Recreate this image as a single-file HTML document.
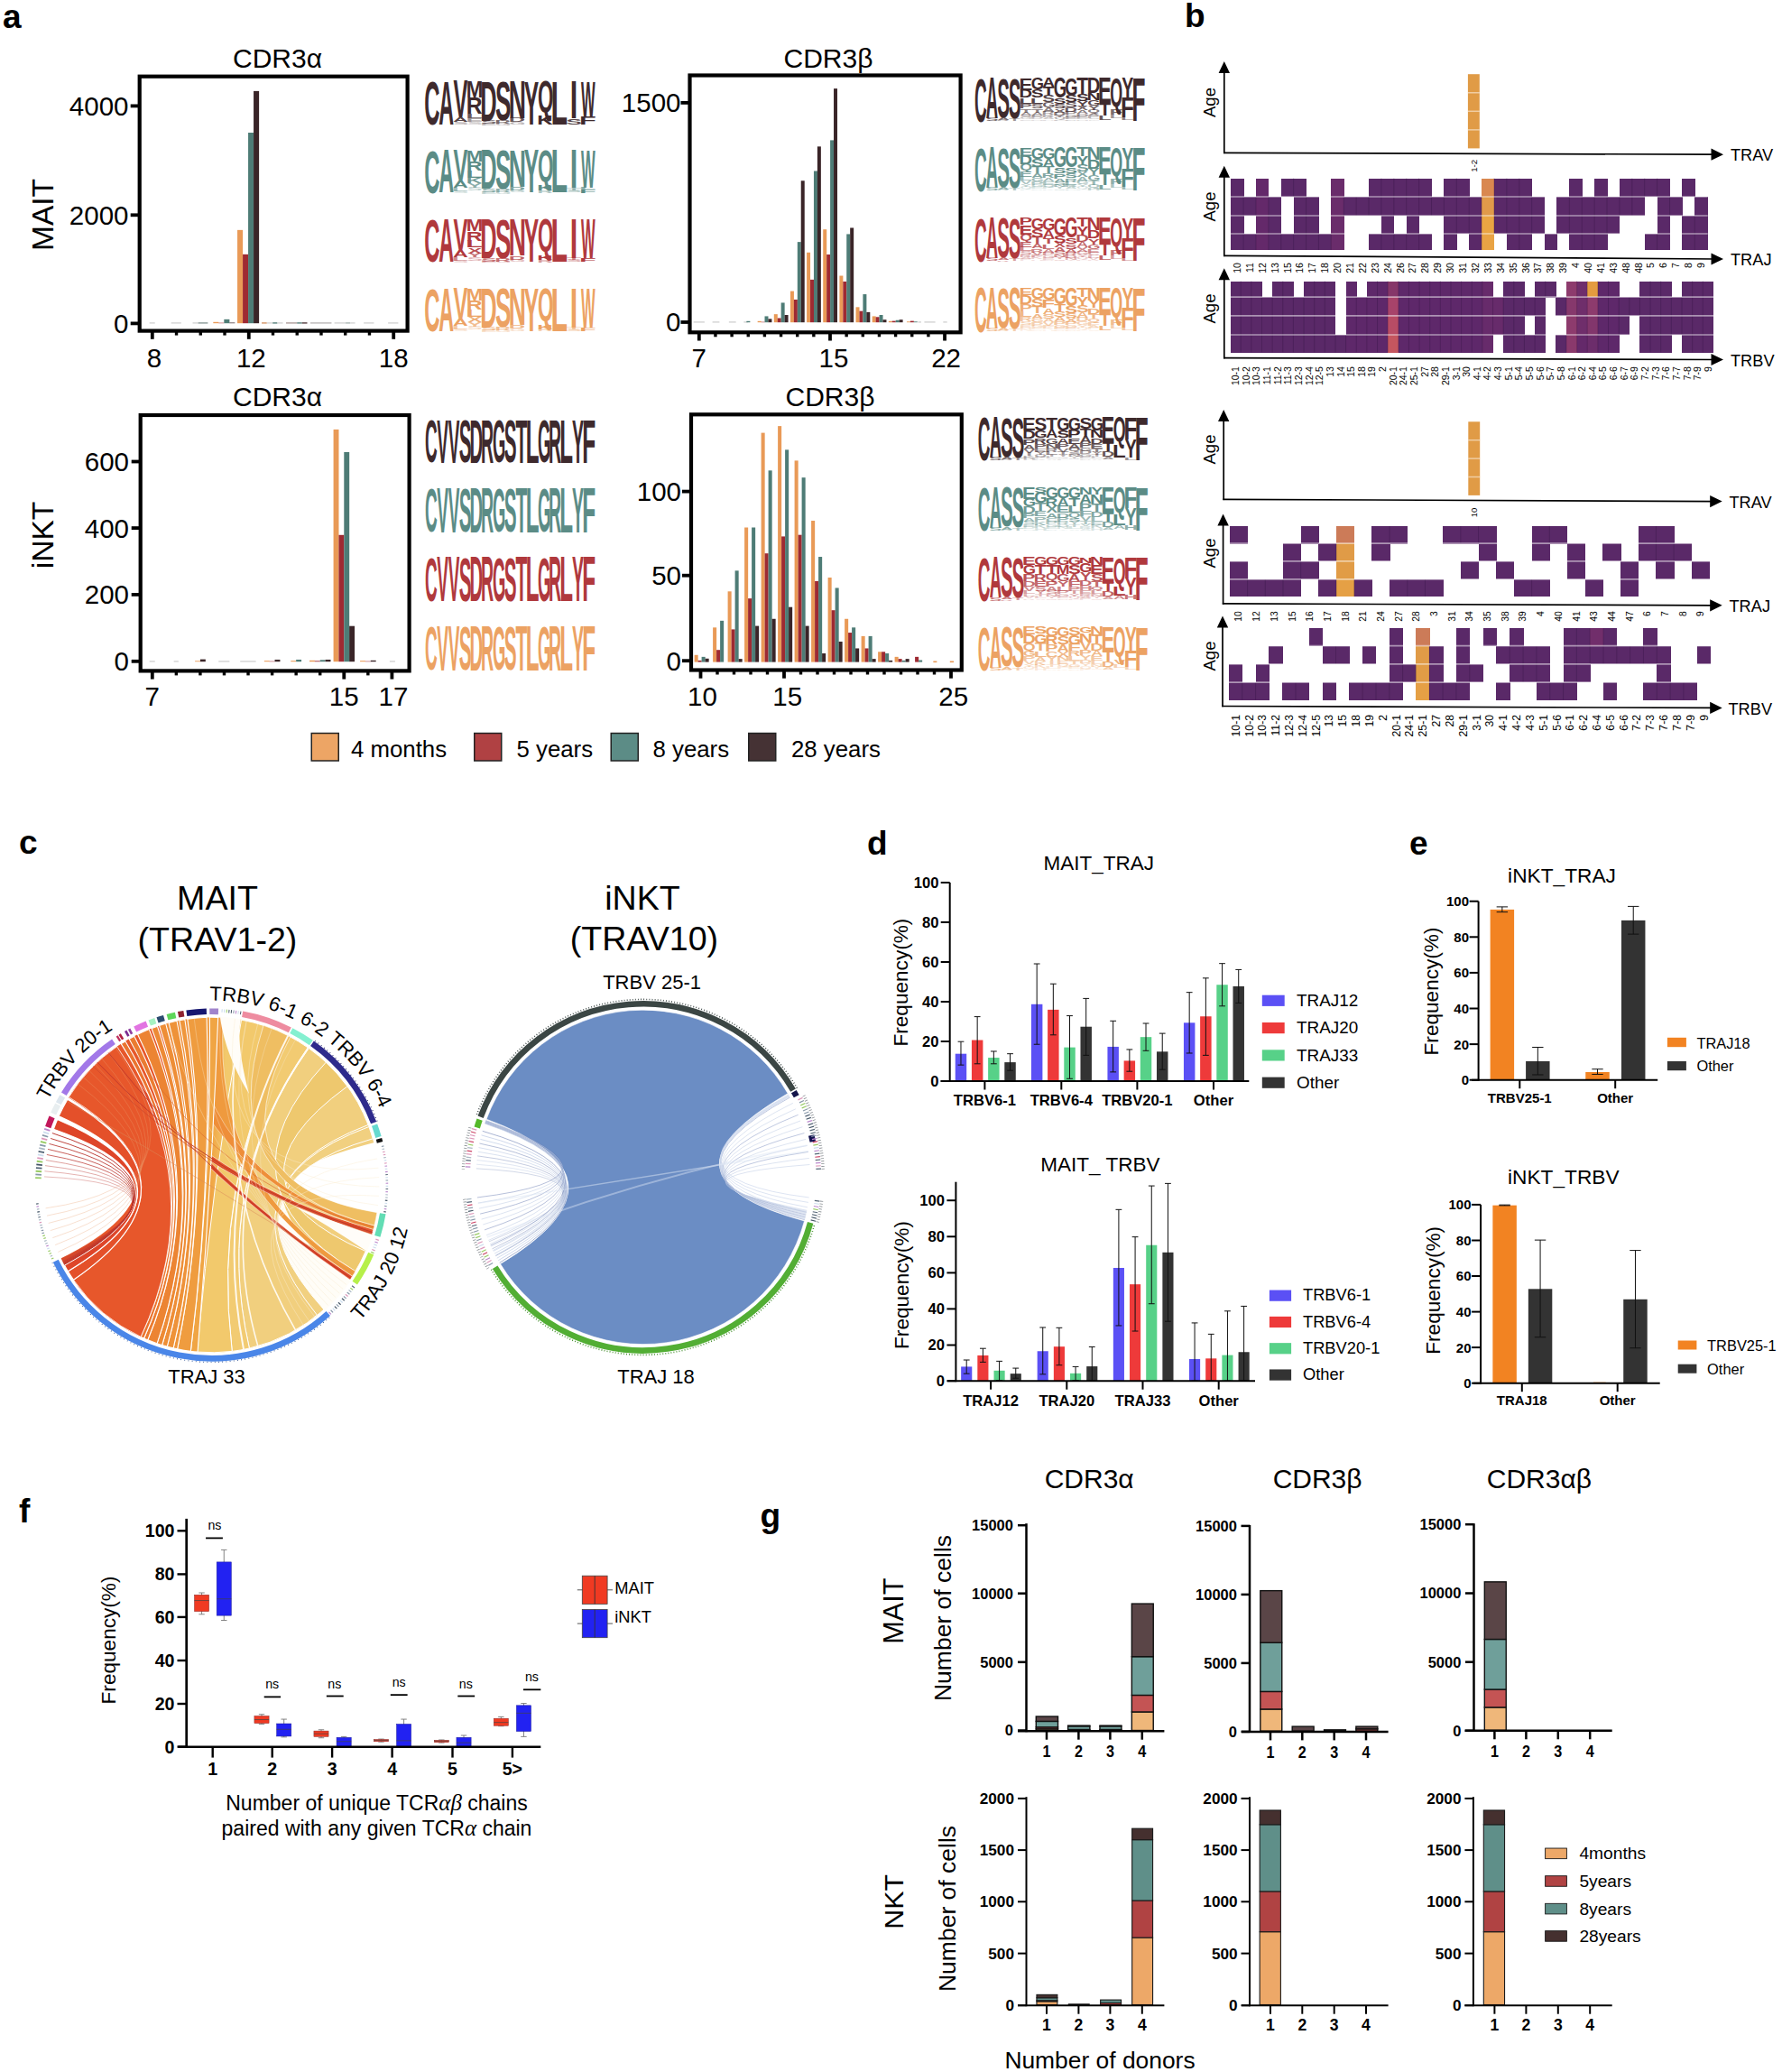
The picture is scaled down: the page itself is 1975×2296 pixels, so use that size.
<!DOCTYPE html>
<html lang="en"><head><meta charset="utf-8"><title>Figure</title>
<style>html,body{margin:0;padding:0;background:#fff}svg{display:block}text{font-family:'Liberation Sans',Arial,Helvetica,sans-serif}</style>
</head><body>
<svg width="1975" height="2296" viewBox="0 0 1975 2296">
<rect width="1975" height="2296" fill="#fff"/>
<text x="3" y="31" font-size="37" font-weight="bold">a</text>
<text x="307.5" y="74.5" font-size="30" text-anchor="middle">CDR3α</text>
<rect x="165.66" y="357.1" width="6.09" height="1.6" fill="#D9D9D9"/>
<rect x="189.67" y="357.1" width="11.13" height="1.6" fill="#D9D9D9"/>
<rect x="213.5" y="357.1" width="6.09" height="1.6" fill="#D9D9D9"/>
<rect x="219.59" y="357.1" width="10.79" height="1.6" fill="#9aa7a5"/>
<rect x="290.05" y="357.1" width="5.74" height="1.6" fill="#d9a27a"/>
<rect x="295.79" y="357.1" width="6.44" height="1.6" fill="#D9D9D9"/>
<rect x="302.23" y="357.1" width="5.22" height="1.6" fill="#6b8f8a"/>
<rect x="307.45" y="357.1" width="6.09" height="1.6" fill="#D9D9D9"/>
<rect x="317.01" y="357.1" width="12.18" height="1.6" fill="#b9aaa8"/>
<rect x="329.19" y="357.1" width="5.57" height="1.6" fill="#6b8f8a"/>
<rect x="334.76" y="357.1" width="5.74" height="1.6" fill="#6a5457"/>
<rect x="343.98" y="357.1" width="23.49" height="1.6" fill="#c4c0c0"/>
<rect x="370.6" y="357.1" width="12.53" height="1.6" fill="#D9D9D9"/>
<rect x="383.12" y="357.1" width="5.22" height="1.6" fill="#b5bfbd"/>
<rect x="388.34" y="357.1" width="5.22" height="1.6" fill="#D9D9D9"/>
<rect x="403.13" y="357.1" width="11.31" height="1.6" fill="#D9D9D9"/>
<rect x="430.1" y="357.1" width="11.31" height="1.6" fill="#D9D9D9"/>
<rect x="263.06" y="254.86" width="6.05" height="103.34" fill="#E99A57"/>
<rect x="269.06" y="281.83" width="6.05" height="76.37" fill="#9E2A32"/>
<rect x="275.06" y="147" width="6.05" height="211.2" fill="#4E7C76"/>
<rect x="281.06" y="100.89" width="6.05" height="257.31" fill="#3A2528"/>
<rect x="236.32" y="356.81" width="6.05" height="1.39" fill="#E99A57"/>
<rect x="242.32" y="357.68" width="6.05" height="0.52" fill="#9E2A32"/>
<rect x="248.32" y="353.85" width="6.05" height="4.35" fill="#4E7C76"/>
<rect x="254.32" y="357.5" width="6.05" height="0.7" fill="#3A2528"/>
<rect x="154.7" y="84.7" width="296.9" height="281.9" fill="none" stroke="#000" stroke-width="4.2"/>
<line x1="144.7" y1="117.4" x2="154.7" y2="117.4" stroke="#000" stroke-width="3.8"/>
<text x="142.5" y="127.8" font-size="29.5" text-anchor="end">4000</text>
<line x1="144.7" y1="238.3" x2="154.7" y2="238.3" stroke="#000" stroke-width="3.8"/>
<text x="142.5" y="248.7" font-size="29.5" text-anchor="end">2000</text>
<line x1="144.7" y1="358.4" x2="154.7" y2="358.4" stroke="#000" stroke-width="3.8"/>
<text x="142.5" y="368.8" font-size="29.5" text-anchor="end">0</text>
<line x1="168.8" y1="366.6" x2="168.8" y2="375.8" stroke="#000" stroke-width="3.8"/>
<text x="171" y="406.5" font-size="29.5" text-anchor="middle">8</text>
<line x1="275.76" y1="366.6" x2="275.76" y2="375.8" stroke="#000" stroke-width="3.8"/>
<text x="278.36" y="406.5" font-size="29.5" text-anchor="middle">12</text>
<line x1="436.2" y1="366.6" x2="436.2" y2="375.8" stroke="#000" stroke-width="3.8"/>
<text x="436.2" y="406.5" font-size="29.5" text-anchor="middle">18</text>
<line x1="195.54" y1="366.6" x2="195.54" y2="371.6" stroke="#000" stroke-width="3.4"/>
<line x1="222.28" y1="366.6" x2="222.28" y2="371.6" stroke="#000" stroke-width="3.4"/>
<line x1="249.02" y1="366.6" x2="249.02" y2="371.6" stroke="#000" stroke-width="3.4"/>
<line x1="302.5" y1="366.6" x2="302.5" y2="371.6" stroke="#000" stroke-width="3.4"/>
<line x1="329.24" y1="366.6" x2="329.24" y2="371.6" stroke="#000" stroke-width="3.4"/>
<line x1="355.98" y1="366.6" x2="355.98" y2="371.6" stroke="#000" stroke-width="3.4"/>
<line x1="382.72" y1="366.6" x2="382.72" y2="371.6" stroke="#000" stroke-width="3.4"/>
<line x1="409.46" y1="366.6" x2="409.46" y2="371.6" stroke="#000" stroke-width="3.4"/>
<text transform="translate(59 238) rotate(-90)" font-size="33.5" text-anchor="middle">MAIT</text>
<text x="918" y="74.5" font-size="30" text-anchor="middle">CDR3β</text>
<rect x="768.7" y="356.1" width="12.18" height="1.6" fill="#D9D9D9"/>
<rect x="789.58" y="356.1" width="7.83" height="1.6" fill="#D9D9D9"/>
<rect x="807.84" y="356.1" width="7.83" height="1.6" fill="#D9D9D9"/>
<rect x="824.37" y="356.1" width="4.35" height="1.6" fill="#D9D9D9"/>
<rect x="1017.48" y="356.1" width="3.48" height="1.6" fill="#D9D9D9"/>
<rect x="1024.44" y="356.1" width="12.18" height="1.6" fill="#D9D9D9"/>
<rect x="1045.32" y="356.1" width="4.35" height="1.6" fill="#D9D9D9"/>
<rect x="827.38" y="355.81" width="3.98" height="1.39" fill="#4E7C76"/>
<rect x="839.64" y="355.81" width="3.98" height="1.39" fill="#E99A57"/>
<rect x="843.57" y="356.68" width="3.98" height="0.52" fill="#9E2A32"/>
<rect x="847.5" y="350.42" width="3.98" height="6.78" fill="#4E7C76"/>
<rect x="851.43" y="353.37" width="3.98" height="3.83" fill="#3A2528"/>
<rect x="857.79" y="348.15" width="3.98" height="9.05" fill="#E99A57"/>
<rect x="861.72" y="352.5" width="3.98" height="4.7" fill="#9E2A32"/>
<rect x="865.65" y="335.45" width="3.98" height="21.75" fill="#4E7C76"/>
<rect x="869.58" y="349.02" width="3.98" height="8.18" fill="#3A2528"/>
<rect x="875.94" y="322.58" width="3.98" height="34.62" fill="#E99A57"/>
<rect x="879.87" y="331.97" width="3.98" height="25.23" fill="#9E2A32"/>
<rect x="883.8" y="268.13" width="3.98" height="89.07" fill="#4E7C76"/>
<rect x="887.73" y="200.28" width="3.98" height="156.92" fill="#3A2528"/>
<rect x="894.09" y="279.78" width="3.98" height="77.42" fill="#E99A57"/>
<rect x="898.02" y="309.88" width="3.98" height="47.32" fill="#9E2A32"/>
<rect x="901.95" y="189.49" width="3.98" height="167.71" fill="#4E7C76"/>
<rect x="905.88" y="162.35" width="3.98" height="194.85" fill="#3A2528"/>
<rect x="912.24" y="254.21" width="3.98" height="102.99" fill="#E99A57"/>
<rect x="916.17" y="282.04" width="3.98" height="75.16" fill="#9E2A32"/>
<rect x="920.1" y="155.39" width="3.98" height="201.81" fill="#4E7C76"/>
<rect x="924.03" y="98.15" width="3.98" height="259.05" fill="#3A2528"/>
<rect x="930.39" y="305.53" width="3.98" height="51.67" fill="#E99A57"/>
<rect x="934.32" y="311.97" width="3.98" height="45.23" fill="#9E2A32"/>
<rect x="938.25" y="259.43" width="3.98" height="97.77" fill="#4E7C76"/>
<rect x="942.18" y="252.47" width="3.98" height="104.73" fill="#3A2528"/>
<rect x="948.54" y="340.32" width="3.98" height="16.88" fill="#E99A57"/>
<rect x="952.47" y="344.67" width="3.98" height="12.53" fill="#9E2A32"/>
<rect x="956.4" y="326.06" width="3.98" height="31.14" fill="#4E7C76"/>
<rect x="960.33" y="345.89" width="3.98" height="11.31" fill="#3A2528"/>
<rect x="966.69" y="350.42" width="3.98" height="6.78" fill="#E99A57"/>
<rect x="970.62" y="351.28" width="3.98" height="5.92" fill="#9E2A32"/>
<rect x="974.55" y="349.02" width="3.98" height="8.18" fill="#4E7C76"/>
<rect x="978.48" y="354.24" width="3.98" height="2.96" fill="#3A2528"/>
<rect x="984.84" y="355.81" width="3.98" height="1.39" fill="#E99A57"/>
<rect x="988.77" y="355.63" width="3.98" height="1.57" fill="#9E2A32"/>
<rect x="992.7" y="354.76" width="3.98" height="2.44" fill="#4E7C76"/>
<rect x="996.63" y="354.24" width="3.98" height="2.96" fill="#3A2528"/>
<rect x="1004.96" y="356.33" width="3.98" height="0.87" fill="#E99A57"/>
<rect x="1008.88" y="355.63" width="3.98" height="1.57" fill="#9E2A32"/>
<rect x="1012.82" y="356.33" width="3.98" height="0.87" fill="#4E7C76"/>
<rect x="764.5" y="83.5" width="300.1" height="284.8" fill="none" stroke="#000" stroke-width="4.2"/>
<line x1="754.5" y1="113.9" x2="764.5" y2="113.9" stroke="#000" stroke-width="3.8"/>
<text x="754.5" y="124.3" font-size="29.5" text-anchor="end">1500</text>
<line x1="754.5" y1="357" x2="764.5" y2="357" stroke="#000" stroke-width="3.8"/>
<text x="754.5" y="367.4" font-size="29.5" text-anchor="end">0</text>
<line x1="774.8" y1="368.3" x2="774.8" y2="377.5" stroke="#000" stroke-width="3.8"/>
<text x="774.8" y="406.5" font-size="29.5" text-anchor="middle">7</text>
<line x1="920" y1="368.3" x2="920" y2="377.5" stroke="#000" stroke-width="3.8"/>
<text x="924" y="406.5" font-size="29.5" text-anchor="middle">15</text>
<line x1="1047.05" y1="368.3" x2="1047.05" y2="377.5" stroke="#000" stroke-width="3.8"/>
<text x="1048.55" y="406.5" font-size="29.5" text-anchor="middle">22</text>
<line x1="792.95" y1="368.3" x2="792.95" y2="373.3" stroke="#000" stroke-width="3.4"/>
<line x1="811.1" y1="368.3" x2="811.1" y2="373.3" stroke="#000" stroke-width="3.4"/>
<line x1="829.25" y1="368.3" x2="829.25" y2="373.3" stroke="#000" stroke-width="3.4"/>
<line x1="847.4" y1="368.3" x2="847.4" y2="373.3" stroke="#000" stroke-width="3.4"/>
<line x1="865.55" y1="368.3" x2="865.55" y2="373.3" stroke="#000" stroke-width="3.4"/>
<line x1="883.7" y1="368.3" x2="883.7" y2="373.3" stroke="#000" stroke-width="3.4"/>
<line x1="901.85" y1="368.3" x2="901.85" y2="373.3" stroke="#000" stroke-width="3.4"/>
<line x1="938.15" y1="368.3" x2="938.15" y2="373.3" stroke="#000" stroke-width="3.4"/>
<line x1="956.3" y1="368.3" x2="956.3" y2="373.3" stroke="#000" stroke-width="3.4"/>
<line x1="974.45" y1="368.3" x2="974.45" y2="373.3" stroke="#000" stroke-width="3.4"/>
<line x1="992.6" y1="368.3" x2="992.6" y2="373.3" stroke="#000" stroke-width="3.4"/>
<line x1="1010.75" y1="368.3" x2="1010.75" y2="373.3" stroke="#000" stroke-width="3.4"/>
<line x1="1028.9" y1="368.3" x2="1028.9" y2="373.3" stroke="#000" stroke-width="3.4"/>
<text x="307.5" y="449.5" font-size="30" text-anchor="middle">CDR3α</text>
<rect x="165.66" y="732.1" width="6.09" height="1.6" fill="#D9D9D9"/>
<rect x="192.62" y="732.1" width="5.22" height="1.6" fill="#D9D9D9"/>
<rect x="242.21" y="732.1" width="12.18" height="1.6" fill="#D9D9D9"/>
<rect x="266.21" y="732.1" width="17.4" height="1.6" fill="#D9D9D9"/>
<rect x="431.84" y="732.1" width="6.09" height="1.6" fill="#D9D9D9"/>
<rect x="369.58" y="475.89" width="5.9" height="257.31" fill="#E99A57"/>
<rect x="375.43" y="592.8" width="5.9" height="140.4" fill="#9E2A32"/>
<rect x="381.28" y="500.95" width="5.9" height="232.25" fill="#4E7C76"/>
<rect x="387.13" y="693.71" width="5.9" height="39.49" fill="#3A2528"/>
<rect x="216.07" y="732.33" width="5.9" height="0.87" fill="#E99A57"/>
<rect x="221.92" y="730.59" width="5.9" height="2.61" fill="#3A2528"/>
<rect x="292.83" y="732.16" width="5.9" height="1.04" fill="#E99A57"/>
<rect x="298.68" y="732.68" width="5.9" height="0.52" fill="#9E2A32"/>
<rect x="304.53" y="730.94" width="5.9" height="2.26" fill="#3A2528"/>
<rect x="322.31" y="732.16" width="5.9" height="1.04" fill="#E99A57"/>
<rect x="328.16" y="730.94" width="5.9" height="2.26" fill="#4E7C76"/>
<rect x="343.02" y="731.81" width="5.9" height="1.39" fill="#E99A57"/>
<rect x="348.87" y="732.33" width="5.9" height="0.87" fill="#9E2A32"/>
<rect x="354.72" y="731.29" width="5.9" height="1.91" fill="#4E7C76"/>
<rect x="360.57" y="730.94" width="5.9" height="2.26" fill="#3A2528"/>
<rect x="399.07" y="732.16" width="5.9" height="1.04" fill="#E99A57"/>
<rect x="404.92" y="732.68" width="5.9" height="0.52" fill="#9E2A32"/>
<rect x="410.77" y="731.81" width="5.9" height="1.39" fill="#3A2528"/>
<rect x="155.7" y="460" width="297.9" height="283.4" fill="none" stroke="#000" stroke-width="4.2"/>
<line x1="145.7" y1="511.5" x2="155.7" y2="511.5" stroke="#000" stroke-width="3.8"/>
<text x="143" y="521.9" font-size="29.5" text-anchor="end">600</text>
<line x1="145.7" y1="585.1" x2="155.7" y2="585.1" stroke="#000" stroke-width="3.8"/>
<text x="143" y="595.5" font-size="29.5" text-anchor="end">400</text>
<line x1="145.7" y1="658.9" x2="155.7" y2="658.9" stroke="#000" stroke-width="3.8"/>
<text x="143" y="669.3" font-size="29.5" text-anchor="end">200</text>
<line x1="145.7" y1="732.8" x2="155.7" y2="732.8" stroke="#000" stroke-width="3.8"/>
<text x="143" y="743.2" font-size="29.5" text-anchor="end">0</text>
<line x1="168.8" y1="743.4" x2="168.8" y2="752.6" stroke="#000" stroke-width="3.8"/>
<text x="168.8" y="781.5" font-size="29.5" text-anchor="middle">7</text>
<line x1="381.28" y1="743.4" x2="381.28" y2="752.6" stroke="#000" stroke-width="3.8"/>
<text x="381.28" y="781.5" font-size="29.5" text-anchor="middle">15</text>
<line x1="434.4" y1="743.4" x2="434.4" y2="752.6" stroke="#000" stroke-width="3.8"/>
<text x="436" y="781.5" font-size="29.5" text-anchor="middle">17</text>
<line x1="195.36" y1="743.4" x2="195.36" y2="748.4" stroke="#000" stroke-width="3.4"/>
<line x1="221.92" y1="743.4" x2="221.92" y2="748.4" stroke="#000" stroke-width="3.4"/>
<line x1="248.48" y1="743.4" x2="248.48" y2="748.4" stroke="#000" stroke-width="3.4"/>
<line x1="275.04" y1="743.4" x2="275.04" y2="748.4" stroke="#000" stroke-width="3.4"/>
<line x1="301.6" y1="743.4" x2="301.6" y2="748.4" stroke="#000" stroke-width="3.4"/>
<line x1="328.16" y1="743.4" x2="328.16" y2="748.4" stroke="#000" stroke-width="3.4"/>
<line x1="354.72" y1="743.4" x2="354.72" y2="748.4" stroke="#000" stroke-width="3.4"/>
<line x1="407.84" y1="743.4" x2="407.84" y2="748.4" stroke="#000" stroke-width="3.4"/>
<text transform="translate(59 593) rotate(-90)" font-size="33.5" text-anchor="middle">iNKT</text>
<text x="920" y="449.5" font-size="30" text-anchor="middle">CDR3β</text>
<rect x="1034.36" y="732.5" width="4" height="1.6" fill="#E99A57"/>
<rect x="1052.8" y="732.5" width="4.18" height="1.6" fill="#E99A57"/>
<rect x="769.6" y="725.77" width="4.05" height="7.83" fill="#E99A57"/>
<rect x="773.6" y="731.86" width="4.05" height="1.74" fill="#9E2A32"/>
<rect x="777.6" y="727.86" width="4.05" height="5.74" fill="#4E7C76"/>
<rect x="781.6" y="729.77" width="4.05" height="3.83" fill="#3A2528"/>
<rect x="790.1" y="695.33" width="4.05" height="38.27" fill="#E99A57"/>
<rect x="794.1" y="720.2" width="4.05" height="13.4" fill="#9E2A32"/>
<rect x="798.1" y="687.84" width="4.05" height="45.76" fill="#4E7C76"/>
<rect x="806.6" y="655.31" width="4.05" height="78.29" fill="#E99A57"/>
<rect x="810.6" y="697.41" width="4.05" height="36.19" fill="#9E2A32"/>
<rect x="814.6" y="632.35" width="4.05" height="101.25" fill="#4E7C76"/>
<rect x="818.6" y="730.12" width="4.05" height="3.48" fill="#3A2528"/>
<rect x="825.1" y="584.5" width="4.05" height="149.1" fill="#E99A57"/>
<rect x="829.1" y="663.14" width="4.05" height="70.46" fill="#9E2A32"/>
<rect x="833.1" y="584.5" width="4.05" height="149.1" fill="#4E7C76"/>
<rect x="837.1" y="693.59" width="4.05" height="40.01" fill="#3A2528"/>
<rect x="843.6" y="479.6" width="4.05" height="254" fill="#E99A57"/>
<rect x="847.6" y="613.21" width="4.05" height="120.39" fill="#9E2A32"/>
<rect x="851.6" y="521.35" width="4.05" height="212.25" fill="#4E7C76"/>
<rect x="855.6" y="685.76" width="4.05" height="47.84" fill="#3A2528"/>
<rect x="862.1" y="472.12" width="4.05" height="261.48" fill="#E99A57"/>
<rect x="866.1" y="594.42" width="4.05" height="139.18" fill="#9E2A32"/>
<rect x="870.1" y="498.39" width="4.05" height="235.21" fill="#4E7C76"/>
<rect x="874.1" y="672.71" width="4.05" height="60.89" fill="#3A2528"/>
<rect x="880.6" y="510.39" width="4.05" height="223.21" fill="#E99A57"/>
<rect x="884.6" y="592.68" width="4.05" height="140.92" fill="#9E2A32"/>
<rect x="888.6" y="529.18" width="4.05" height="204.42" fill="#4E7C76"/>
<rect x="892.6" y="693.59" width="4.05" height="40.01" fill="#3A2528"/>
<rect x="899.1" y="577.02" width="4.05" height="156.58" fill="#E99A57"/>
<rect x="903.1" y="644" width="4.05" height="89.6" fill="#9E2A32"/>
<rect x="907.1" y="617.04" width="4.05" height="116.56" fill="#4E7C76"/>
<rect x="911.1" y="724.03" width="4.05" height="9.57" fill="#3A2528"/>
<rect x="917.6" y="640" width="4.05" height="93.6" fill="#E99A57"/>
<rect x="921.6" y="676.19" width="4.05" height="57.41" fill="#9E2A32"/>
<rect x="925.6" y="651.48" width="4.05" height="82.12" fill="#4E7C76"/>
<rect x="929.6" y="710.98" width="4.05" height="22.62" fill="#3A2528"/>
<rect x="936.1" y="685.76" width="4.05" height="47.84" fill="#E99A57"/>
<rect x="940.1" y="701.07" width="4.05" height="32.53" fill="#9E2A32"/>
<rect x="944.1" y="695.33" width="4.05" height="38.27" fill="#4E7C76"/>
<rect x="948.1" y="718.46" width="4.05" height="15.14" fill="#3A2528"/>
<rect x="954.6" y="704.89" width="4.05" height="28.71" fill="#E99A57"/>
<rect x="958.6" y="718.46" width="4.05" height="15.14" fill="#9E2A32"/>
<rect x="962.6" y="704.89" width="4.05" height="28.71" fill="#4E7C76"/>
<rect x="966.6" y="730.12" width="4.05" height="3.48" fill="#3A2528"/>
<rect x="973.1" y="722.29" width="4.05" height="11.31" fill="#E99A57"/>
<rect x="977.1" y="722.29" width="4.05" height="11.31" fill="#9E2A32"/>
<rect x="981.1" y="724.03" width="4.05" height="9.57" fill="#4E7C76"/>
<rect x="985.1" y="731.86" width="4.05" height="1.74" fill="#3A2528"/>
<rect x="991.6" y="727.86" width="4.05" height="5.74" fill="#E99A57"/>
<rect x="995.6" y="730.12" width="4.05" height="3.48" fill="#9E2A32"/>
<rect x="999.6" y="731.86" width="4.05" height="1.74" fill="#4E7C76"/>
<rect x="1003.6" y="730.12" width="4.05" height="3.48" fill="#3A2528"/>
<rect x="1014.1" y="727.86" width="4.05" height="5.74" fill="#9E2A32"/>
<rect x="1018.1" y="731.51" width="4.05" height="2.09" fill="#4E7C76"/>
<rect x="766" y="459.3" width="299.8" height="283.2" fill="none" stroke="#000" stroke-width="4.2"/>
<line x1="756" y1="544.6" x2="766" y2="544.6" stroke="#000" stroke-width="3.8"/>
<text x="755" y="555" font-size="29.5" text-anchor="end">100</text>
<line x1="756" y1="637.7" x2="766" y2="637.7" stroke="#000" stroke-width="3.8"/>
<text x="755" y="648.1" font-size="29.5" text-anchor="end">50</text>
<line x1="756" y1="732.2" x2="766" y2="732.2" stroke="#000" stroke-width="3.8"/>
<text x="755" y="742.6" font-size="29.5" text-anchor="end">0</text>
<line x1="776.5" y1="742.5" x2="776.5" y2="751.7" stroke="#000" stroke-width="3.8"/>
<text x="778.5" y="781.5" font-size="29.5" text-anchor="middle">10</text>
<line x1="869" y1="742.5" x2="869" y2="751.7" stroke="#000" stroke-width="3.8"/>
<text x="872.7" y="781.5" font-size="29.5" text-anchor="middle">15</text>
<line x1="1054" y1="742.5" x2="1054" y2="751.7" stroke="#000" stroke-width="3.8"/>
<text x="1056.7" y="781.5" font-size="29.5" text-anchor="middle">25</text>
<line x1="795" y1="742.5" x2="795" y2="747.5" stroke="#000" stroke-width="3.4"/>
<line x1="813.5" y1="742.5" x2="813.5" y2="747.5" stroke="#000" stroke-width="3.4"/>
<line x1="832" y1="742.5" x2="832" y2="747.5" stroke="#000" stroke-width="3.4"/>
<line x1="850.5" y1="742.5" x2="850.5" y2="747.5" stroke="#000" stroke-width="3.4"/>
<line x1="887.5" y1="742.5" x2="887.5" y2="747.5" stroke="#000" stroke-width="3.4"/>
<line x1="906" y1="742.5" x2="906" y2="747.5" stroke="#000" stroke-width="3.4"/>
<line x1="924.5" y1="742.5" x2="924.5" y2="747.5" stroke="#000" stroke-width="3.4"/>
<line x1="943" y1="742.5" x2="943" y2="747.5" stroke="#000" stroke-width="3.4"/>
<line x1="961.5" y1="742.5" x2="961.5" y2="747.5" stroke="#000" stroke-width="3.4"/>
<line x1="980" y1="742.5" x2="980" y2="747.5" stroke="#000" stroke-width="3.4"/>
<line x1="998.5" y1="742.5" x2="998.5" y2="747.5" stroke="#000" stroke-width="3.4"/>
<line x1="1017" y1="742.5" x2="1017" y2="747.5" stroke="#000" stroke-width="3.4"/>
<line x1="1035.5" y1="742.5" x2="1035.5" y2="747.5" stroke="#000" stroke-width="3.4"/>
<rect x="345.25" y="812.5" width="30" height="30.5" fill="#EDA565" stroke="#222" stroke-width="1.5"/>
<text x="389" y="839.3" font-size="25.8">4 months</text>
<rect x="525.75" y="812.5" width="30" height="30.5" fill="#B04143" stroke="#222" stroke-width="1.5"/>
<text x="572.5" y="839.3" font-size="25.8">5 years</text>
<rect x="677.25" y="812.5" width="30" height="30.5" fill="#5C8C86" stroke="#222" stroke-width="1.5"/>
<text x="723.5" y="839.3" font-size="25.8">8 years</text>
<rect x="829.75" y="812.5" width="30" height="30.5" fill="#453234" stroke="#222" stroke-width="1.5"/>
<text x="877" y="839.3" font-size="25.8">28 years</text>
<g role="img" aria-label="CAVMDSNYQLIW">
<text transform="matrix(2.389 0 0 6.836 470.22 137.93)" font-size="10" font-weight="bold" fill="#3E2A2D">C</text>
<text transform="matrix(2.328 0 0 6.929 486.34 137.87)" font-size="10" font-weight="bold" fill="#3E2A2D">A</text>
<text transform="matrix(2.390 0 0 5.839 502.47 130.37)" font-size="10" font-weight="bold" fill="#3E2A2D">V</text>
<text transform="matrix(2.328 0 0 0.703 502.05 135.21)" font-size="10" font-weight="bold" fill="#3E2A2D" fill-opacity="0.9">A</text>
<text transform="matrix(2.607 0 0 0.342 501.88 137.6)" font-size="10" font-weight="bold" fill="#3E2A2D" fill-opacity="0.4">S</text>
<text transform="matrix(2.234 0 0 2.603 516.86 108.11)" font-size="10" font-weight="bold" fill="#3E2A2D">M</text>
<text transform="matrix(2.460 0 0 2.603 516.7 126.02)" font-size="10" font-weight="bold" fill="#3E2A2D">R</text>
<text transform="matrix(3.043 0 0 0.703 516.31 130.86)" font-size="10" font-weight="bold" fill="#3E2A2D" fill-opacity="0.8">L</text>
<text transform="matrix(2.784 0 0 0.563 516.49 134.73)" font-size="10" font-weight="bold" fill="#3E2A2D" fill-opacity="0.5">E</text>
<text transform="matrix(2.607 0 0 0.410 517.6 137.59)" font-size="10" font-weight="bold" fill="#3E2A2D" fill-opacity="0.3">S</text>
<text transform="matrix(2.546 0 0 6.331 532.36 133.76)" font-size="10" font-weight="bold" fill="#3E2A2D">D</text>
<text transform="matrix(2.607 0 0 0.479 533.32 137.1)" font-size="10" font-weight="bold" fill="#3E2A2D" fill-opacity="0.7">S</text>
<text transform="matrix(2.784 0 0 0.281 532.2 139.08)" font-size="10" font-weight="bold" fill="#3E2A2D" fill-opacity="0.35">E</text>
<text transform="matrix(2.607 0 0 6.153 549.03 133.16)" font-size="10" font-weight="bold" fill="#3E2A2D">S</text>
<text transform="matrix(2.460 0 0 0.492 548.14 137.15)" font-size="10" font-weight="bold" fill="#3E2A2D" fill-opacity="0.7">R</text>
<text transform="matrix(2.314 0 0 0.273 548.83 139.06)" font-size="10" font-weight="bold" fill="#3E2A2D" fill-opacity="0.35">G</text>
<text transform="matrix(2.656 0 0 5.909 563.72 130.86)" font-size="10" font-weight="bold" fill="#3E2A2D">N</text>
<text transform="matrix(2.546 0 0 0.633 563.8 135.21)" font-size="10" font-weight="bold" fill="#3E2A2D" fill-opacity="0.8">D</text>
<text transform="matrix(2.314 0 0 0.342 564.55 137.6)" font-size="10" font-weight="bold" fill="#3E2A2D" fill-opacity="0.4">G</text>
<text transform="matrix(2.464 0 0 6.929 580.8 137.87)" font-size="10" font-weight="bold" fill="#3E2A2D">Y</text>
<text transform="matrix(2.248 0 0 4.915 596.01 124.52)" font-size="10" font-weight="bold" fill="#3E2A2D">Q</text>
<text transform="matrix(2.417 0 0 1.407 595.32 138.12)" font-size="10" font-weight="bold" fill="#3E2A2D">K</text>
<text transform="matrix(3.043 0 0 6.929 610.61 137.87)" font-size="10" font-weight="bold" fill="#3E2A2D">L</text>
<text transform="matrix(3.056 0 0 5.909 631.78 130.86)" font-size="10" font-weight="bold" fill="#3E2A2D">I</text>
<text transform="matrix(2.607 0 0 0.957 627.62 137.54)" font-size="10" font-weight="bold" fill="#3E2A2D" fill-opacity="0.9">S</text>
<text transform="matrix(1.658 0 0 5.628 644.07 128.92)" font-size="10" font-weight="bold" fill="#3E2A2D">W</text>
<text transform="matrix(3.078 0 0 1.337 642.02 138.12)" font-size="10" font-weight="bold" fill="#3E2A2D">F</text>
</g>
<g role="img" aria-label="CAVMDSNYQLIW">
<text transform="matrix(2.389 0 0 6.723 470.22 213.54)" font-size="10" font-weight="bold" fill="#5B8C86">C</text>
<text transform="matrix(2.328 0 0 6.815 486.34 213.49)" font-size="10" font-weight="bold" fill="#5B8C86">A</text>
<text transform="matrix(2.390 0 0 4.981 502.47 200.87)" font-size="10" font-weight="bold" fill="#5B8C86">V</text>
<text transform="matrix(2.328 0 0 1.038 502.05 208.01)" font-size="10" font-weight="bold" fill="#5B8C86">A</text>
<text transform="matrix(3.043 0 0 0.553 500.6 211.82)" font-size="10" font-weight="bold" fill="#5B8C86" fill-opacity="0.6">L</text>
<text transform="matrix(2.607 0 0 0.269 501.88 213.7)" font-size="10" font-weight="bold" fill="#5B8C86" fill-opacity="0.3">S</text>
<text transform="matrix(2.234 0 0 1.730 516.86 178.5)" font-size="10" font-weight="bold" fill="#5B8C86">M</text>
<text transform="matrix(2.460 0 0 1.522 516.7 188.97)" font-size="10" font-weight="bold" fill="#5B8C86">R</text>
<text transform="matrix(3.043 0 0 1.107 516.31 196.59)" font-size="10" font-weight="bold" fill="#5B8C86">L</text>
<text transform="matrix(2.417 0 0 0.969 516.73 203.25)" font-size="10" font-weight="bold" fill="#5B8C86" fill-opacity="0.9">K</text>
<text transform="matrix(2.464 0 0 0.692 517.93 208.01)" font-size="10" font-weight="bold" fill="#5B8C86" fill-opacity="0.7">Y</text>
<text transform="matrix(2.607 0 0 0.471 517.6 211.3)" font-size="10" font-weight="bold" fill="#5B8C86" fill-opacity="0.4">S</text>
<text transform="matrix(2.546 0 0 6.227 532.36 209.44)" font-size="10" font-weight="bold" fill="#5B8C86">D</text>
<text transform="matrix(2.607 0 0 0.471 533.32 212.73)" font-size="10" font-weight="bold" fill="#5B8C86" fill-opacity="0.7">S</text>
<text transform="matrix(2.784 0 0 0.277 532.2 214.68)" font-size="10" font-weight="bold" fill="#5B8C86" fill-opacity="0.35">E</text>
<text transform="matrix(2.607 0 0 6.051 549.03 208.85)" font-size="10" font-weight="bold" fill="#5B8C86">S</text>
<text transform="matrix(2.460 0 0 0.484 548.14 212.77)" font-size="10" font-weight="bold" fill="#5B8C86" fill-opacity="0.7">R</text>
<text transform="matrix(2.314 0 0 0.269 548.83 214.65)" font-size="10" font-weight="bold" fill="#5B8C86" fill-opacity="0.35">G</text>
<text transform="matrix(2.656 0 0 5.812 563.72 206.58)" font-size="10" font-weight="bold" fill="#5B8C86">N</text>
<text transform="matrix(2.546 0 0 0.623 563.8 210.87)" font-size="10" font-weight="bold" fill="#5B8C86" fill-opacity="0.8">D</text>
<text transform="matrix(2.314 0 0 0.336 564.55 213.22)" font-size="10" font-weight="bold" fill="#5B8C86" fill-opacity="0.4">G</text>
<text transform="matrix(2.464 0 0 6.815 580.8 213.49)" font-size="10" font-weight="bold" fill="#5B8C86">Y</text>
<text transform="matrix(2.248 0 0 5.022 596.01 201.67)" font-size="10" font-weight="bold" fill="#5B8C86">Q</text>
<text transform="matrix(2.417 0 0 0.830 595.32 211.34)" font-size="10" font-weight="bold" fill="#5B8C86">K</text>
<text transform="matrix(2.460 0 0 0.346 595.29 213.72)" font-size="10" font-weight="bold" fill="#5B8C86" fill-opacity="0.5">R</text>
<text transform="matrix(3.043 0 0 6.815 610.61 213.49)" font-size="10" font-weight="bold" fill="#5B8C86">L</text>
<text transform="matrix(3.056 0 0 6.088 631.78 208.49)" font-size="10" font-weight="bold" fill="#5B8C86">I</text>
<text transform="matrix(2.652 0 0 0.346 628.07 210.87)" font-size="10" font-weight="bold" fill="#5B8C86" fill-opacity="0.6">T</text>
<text transform="matrix(2.607 0 0 0.336 627.62 213.22)" font-size="10" font-weight="bold" fill="#5B8C86" fill-opacity="0.5">S</text>
<text transform="matrix(1.658 0 0 5.950 644.07 207.54)" font-size="10" font-weight="bold" fill="#5B8C86">W</text>
<text transform="matrix(3.043 0 0 0.346 642.05 209.92)" font-size="10" font-weight="bold" fill="#5B8C86" fill-opacity="0.7">L</text>
<text transform="matrix(3.078 0 0 0.553 642.02 213.72)" font-size="10" font-weight="bold" fill="#5B8C86">F</text>
</g>
<g role="img" aria-label="CAVMDSNYQLIW">
<text transform="matrix(2.389 0 0 6.737 470.22 290.34)" font-size="10" font-weight="bold" fill="#B0393D">C</text>
<text transform="matrix(2.328 0 0 6.829 486.34 290.28)" font-size="10" font-weight="bold" fill="#B0393D">A</text>
<text transform="matrix(2.390 0 0 4.992 502.47 277.64)" font-size="10" font-weight="bold" fill="#B0393D">V</text>
<text transform="matrix(2.328 0 0 1.040 502.05 284.8)" font-size="10" font-weight="bold" fill="#B0393D">A</text>
<text transform="matrix(3.043 0 0 0.555 500.6 288.61)" font-size="10" font-weight="bold" fill="#B0393D" fill-opacity="0.6">L</text>
<text transform="matrix(2.607 0 0 0.269 501.88 290.5)" font-size="10" font-weight="bold" fill="#B0393D" fill-opacity="0.3">S</text>
<text transform="matrix(2.234 0 0 1.872 516.86 256.18)" font-size="10" font-weight="bold" fill="#B0393D">M</text>
<text transform="matrix(2.460 0 0 1.525 516.7 266.67)" font-size="10" font-weight="bold" fill="#B0393D">R</text>
<text transform="matrix(3.043 0 0 1.109 516.31 274.31)" font-size="10" font-weight="bold" fill="#B0393D">L</text>
<text transform="matrix(2.405 0 0 0.901 518.14 280.51)" font-size="10" font-weight="bold" fill="#B0393D" fill-opacity="0.9">X</text>
<text transform="matrix(2.464 0 0 0.693 517.93 285.28)" font-size="10" font-weight="bold" fill="#B0393D" fill-opacity="0.7">Y</text>
<text transform="matrix(2.607 0 0 0.472 517.6 288.57)" font-size="10" font-weight="bold" fill="#B0393D" fill-opacity="0.4">S</text>
<text transform="matrix(2.546 0 0 6.240 532.36 286.23)" font-size="10" font-weight="bold" fill="#B0393D">D</text>
<text transform="matrix(2.607 0 0 0.472 533.32 289.52)" font-size="10" font-weight="bold" fill="#B0393D" fill-opacity="0.7">S</text>
<text transform="matrix(2.784 0 0 0.277 532.2 291.48)" font-size="10" font-weight="bold" fill="#B0393D" fill-opacity="0.35">E</text>
<text transform="matrix(2.607 0 0 6.064 549.03 285.64)" font-size="10" font-weight="bold" fill="#B0393D">S</text>
<text transform="matrix(2.460 0 0 0.485 548.14 289.57)" font-size="10" font-weight="bold" fill="#B0393D" fill-opacity="0.7">R</text>
<text transform="matrix(2.314 0 0 0.269 548.83 291.45)" font-size="10" font-weight="bold" fill="#B0393D" fill-opacity="0.35">G</text>
<text transform="matrix(2.656 0 0 5.824 563.72 283.37)" font-size="10" font-weight="bold" fill="#B0393D">N</text>
<text transform="matrix(2.546 0 0 0.624 563.8 287.66)" font-size="10" font-weight="bold" fill="#B0393D" fill-opacity="0.8">D</text>
<text transform="matrix(2.314 0 0 0.337 564.55 290.01)" font-size="10" font-weight="bold" fill="#B0393D" fill-opacity="0.4">G</text>
<text transform="matrix(2.464 0 0 6.829 580.8 290.28)" font-size="10" font-weight="bold" fill="#B0393D">Y</text>
<text transform="matrix(2.248 0 0 5.159 596.01 279.32)" font-size="10" font-weight="bold" fill="#B0393D">Q</text>
<text transform="matrix(2.417 0 0 0.693 595.32 288.14)" font-size="10" font-weight="bold" fill="#B0393D">K</text>
<text transform="matrix(2.460 0 0 0.347 595.29 290.52)" font-size="10" font-weight="bold" fill="#B0393D" fill-opacity="0.5">R</text>
<text transform="matrix(3.043 0 0 6.829 610.61 290.28)" font-size="10" font-weight="bold" fill="#B0393D">L</text>
<text transform="matrix(3.056 0 0 6.240 631.78 286.23)" font-size="10" font-weight="bold" fill="#B0393D">I</text>
<text transform="matrix(2.652 0 0 0.277 628.07 288.14)" font-size="10" font-weight="bold" fill="#B0393D" fill-opacity="0.6">T</text>
<text transform="matrix(2.607 0 0 0.269 627.62 290.02)" font-size="10" font-weight="bold" fill="#B0393D" fill-opacity="0.5">S</text>
<text transform="matrix(1.658 0 0 6.240 644.07 286.23)" font-size="10" font-weight="bold" fill="#B0393D">W</text>
<text transform="matrix(3.078 0 0 0.555 642.02 290.05)" font-size="10" font-weight="bold" fill="#B0393D">F</text>
</g>
<g role="img" aria-label="CAVMDSNYQLIW">
<text transform="matrix(2.389 0 0 6.709 470.22 366.84)" font-size="10" font-weight="bold" fill="#ECA263">C</text>
<text transform="matrix(2.328 0 0 6.801 486.34 366.79)" font-size="10" font-weight="bold" fill="#ECA263">A</text>
<text transform="matrix(2.390 0 0 4.971 502.47 354.2)" font-size="10" font-weight="bold" fill="#ECA263">V</text>
<text transform="matrix(2.328 0 0 1.036 502.05 361.32)" font-size="10" font-weight="bold" fill="#ECA263">A</text>
<text transform="matrix(3.043 0 0 0.552 500.6 365.12)" font-size="10" font-weight="bold" fill="#ECA263" fill-opacity="0.6">L</text>
<text transform="matrix(2.607 0 0 0.268 501.88 367)" font-size="10" font-weight="bold" fill="#ECA263" fill-opacity="0.3">S</text>
<text transform="matrix(2.234 0 0 1.864 516.86 332.82)" font-size="10" font-weight="bold" fill="#ECA263">M</text>
<text transform="matrix(2.460 0 0 1.519 516.7 343.27)" font-size="10" font-weight="bold" fill="#ECA263">R</text>
<text transform="matrix(3.043 0 0 1.105 516.31 350.88)" font-size="10" font-weight="bold" fill="#ECA263">L</text>
<text transform="matrix(2.405 0 0 0.898 518.14 357.05)" font-size="10" font-weight="bold" fill="#ECA263" fill-opacity="0.9">X</text>
<text transform="matrix(2.464 0 0 0.690 517.93 361.8)" font-size="10" font-weight="bold" fill="#ECA263" fill-opacity="0.7">Y</text>
<text transform="matrix(2.607 0 0 0.470 517.6 365.08)" font-size="10" font-weight="bold" fill="#ECA263" fill-opacity="0.4">S</text>
<text transform="matrix(2.546 0 0 6.214 532.36 362.75)" font-size="10" font-weight="bold" fill="#ECA263">D</text>
<text transform="matrix(2.607 0 0 0.470 533.32 366.03)" font-size="10" font-weight="bold" fill="#ECA263" fill-opacity="0.7">S</text>
<text transform="matrix(2.784 0 0 0.276 532.2 367.97)" font-size="10" font-weight="bold" fill="#ECA263" fill-opacity="0.35">E</text>
<text transform="matrix(2.607 0 0 6.038 549.03 362.16)" font-size="10" font-weight="bold" fill="#ECA263">S</text>
<text transform="matrix(2.460 0 0 0.483 548.14 366.07)" font-size="10" font-weight="bold" fill="#ECA263" fill-opacity="0.7">R</text>
<text transform="matrix(2.314 0 0 0.268 548.83 367.95)" font-size="10" font-weight="bold" fill="#ECA263" fill-opacity="0.35">G</text>
<text transform="matrix(2.656 0 0 5.799 563.72 359.9)" font-size="10" font-weight="bold" fill="#ECA263">N</text>
<text transform="matrix(2.546 0 0 0.621 563.8 364.17)" font-size="10" font-weight="bold" fill="#ECA263" fill-opacity="0.8">D</text>
<text transform="matrix(2.314 0 0 0.335 564.55 366.52)" font-size="10" font-weight="bold" fill="#ECA263" fill-opacity="0.4">G</text>
<text transform="matrix(2.464 0 0 6.801 580.8 366.79)" font-size="10" font-weight="bold" fill="#ECA263">Y</text>
<text transform="matrix(2.248 0 0 5.137 596.01 355.87)" font-size="10" font-weight="bold" fill="#ECA263">Q</text>
<text transform="matrix(2.417 0 0 0.690 595.32 364.65)" font-size="10" font-weight="bold" fill="#ECA263">K</text>
<text transform="matrix(2.460 0 0 0.345 595.29 367.02)" font-size="10" font-weight="bold" fill="#ECA263" fill-opacity="0.5">R</text>
<text transform="matrix(3.043 0 0 6.801 610.61 366.79)" font-size="10" font-weight="bold" fill="#ECA263">L</text>
<text transform="matrix(3.056 0 0 6.214 631.78 362.75)" font-size="10" font-weight="bold" fill="#ECA263">I</text>
<text transform="matrix(2.652 0 0 0.276 628.07 364.65)" font-size="10" font-weight="bold" fill="#ECA263" fill-opacity="0.6">T</text>
<text transform="matrix(2.607 0 0 0.268 627.62 366.52)" font-size="10" font-weight="bold" fill="#ECA263" fill-opacity="0.5">S</text>
<text transform="matrix(1.658 0 0 6.214 644.07 362.75)" font-size="10" font-weight="bold" fill="#ECA263">W</text>
<text transform="matrix(3.078 0 0 0.552 642.02 366.55)" font-size="10" font-weight="bold" fill="#ECA263">F</text>
</g>
<g role="img" aria-label="CVVSDRGSTLGRLYF">
<text transform="matrix(1.898 0 0 6.678 471.02 512.13)" font-size="10" font-weight="bold" fill="#3E2A2D">C</text>
<text transform="matrix(1.899 0 0 6.872 484.18 512.78)" font-size="10" font-weight="bold" fill="#3E2A2D">V</text>
<text transform="matrix(1.899 0 0 6.872 496.68 512.78)" font-size="10" font-weight="bold" fill="#3E2A2D">V</text>
<text transform="matrix(2.071 0 0 6.678 508.72 512.13)" font-size="10" font-weight="bold" fill="#3E2A2D">S</text>
<text transform="matrix(2.023 0 0 6.872 520.47 512.78)" font-size="10" font-weight="bold" fill="#3E2A2D">D</text>
<text transform="matrix(1.954 0 0 6.872 533.03 512.78)" font-size="10" font-weight="bold" fill="#3E2A2D">R</text>
<text transform="matrix(1.839 0 0 6.678 546.09 512.13)" font-size="10" font-weight="bold" fill="#3E2A2D">G</text>
<text transform="matrix(2.071 0 0 6.678 558.75 512.13)" font-size="10" font-weight="bold" fill="#3E2A2D">S</text>
<text transform="matrix(2.107 0 0 6.872 571.62 512.78)" font-size="10" font-weight="bold" fill="#3E2A2D">T</text>
<text transform="matrix(2.418 0 0 6.872 582.74 512.78)" font-size="10" font-weight="bold" fill="#3E2A2D">L</text>
<text transform="matrix(1.839 0 0 6.678 596.11 512.13)" font-size="10" font-weight="bold" fill="#3E2A2D">G</text>
<text transform="matrix(1.954 0 0 6.872 608.07 512.78)" font-size="10" font-weight="bold" fill="#3E2A2D">R</text>
<text transform="matrix(2.418 0 0 6.872 620.26 512.78)" font-size="10" font-weight="bold" fill="#3E2A2D">L</text>
<text transform="matrix(1.958 0 0 6.872 634.05 512.78)" font-size="10" font-weight="bold" fill="#3E2A2D">Y</text>
<text transform="matrix(2.446 0 0 6.872 645.26 512.78)" font-size="10" font-weight="bold" fill="#3E2A2D">F</text>
</g>
<g role="img" aria-label="CVVSDRGSTLGRLYF">
<text transform="matrix(1.898 0 0 6.775 471.02 589.11)" font-size="10" font-weight="bold" fill="#5B8C86">C</text>
<text transform="matrix(1.899 0 0 6.972 484.18 589.77)" font-size="10" font-weight="bold" fill="#5B8C86">V</text>
<text transform="matrix(1.899 0 0 6.972 496.68 589.77)" font-size="10" font-weight="bold" fill="#5B8C86">V</text>
<text transform="matrix(2.071 0 0 6.775 508.72 589.11)" font-size="10" font-weight="bold" fill="#5B8C86">S</text>
<text transform="matrix(2.023 0 0 6.972 520.47 589.77)" font-size="10" font-weight="bold" fill="#5B8C86">D</text>
<text transform="matrix(1.954 0 0 6.972 533.03 589.77)" font-size="10" font-weight="bold" fill="#5B8C86">R</text>
<text transform="matrix(1.839 0 0 6.775 546.09 589.11)" font-size="10" font-weight="bold" fill="#5B8C86">G</text>
<text transform="matrix(2.071 0 0 6.775 558.75 589.11)" font-size="10" font-weight="bold" fill="#5B8C86">S</text>
<text transform="matrix(2.107 0 0 6.972 571.62 589.77)" font-size="10" font-weight="bold" fill="#5B8C86">T</text>
<text transform="matrix(2.418 0 0 6.972 582.74 589.77)" font-size="10" font-weight="bold" fill="#5B8C86">L</text>
<text transform="matrix(1.839 0 0 6.775 596.11 589.11)" font-size="10" font-weight="bold" fill="#5B8C86">G</text>
<text transform="matrix(1.954 0 0 6.972 608.07 589.77)" font-size="10" font-weight="bold" fill="#5B8C86">R</text>
<text transform="matrix(2.418 0 0 6.972 620.26 589.77)" font-size="10" font-weight="bold" fill="#5B8C86">L</text>
<text transform="matrix(1.958 0 0 6.972 634.05 589.77)" font-size="10" font-weight="bold" fill="#5B8C86">Y</text>
<text transform="matrix(2.446 0 0 6.972 645.26 589.77)" font-size="10" font-weight="bold" fill="#5B8C86">F</text>
</g>
<g role="img" aria-label="CVVSDRGSTLGRLYF">
<text transform="matrix(1.898 0 0 6.789 471.02 665.8)" font-size="10" font-weight="bold" fill="#B0393D">C</text>
<text transform="matrix(1.899 0 0 6.987 484.18 666.47)" font-size="10" font-weight="bold" fill="#B0393D">V</text>
<text transform="matrix(1.899 0 0 6.987 496.68 666.47)" font-size="10" font-weight="bold" fill="#B0393D">V</text>
<text transform="matrix(2.071 0 0 6.789 508.72 665.8)" font-size="10" font-weight="bold" fill="#B0393D">S</text>
<text transform="matrix(2.023 0 0 6.987 520.47 666.47)" font-size="10" font-weight="bold" fill="#B0393D">D</text>
<text transform="matrix(1.954 0 0 6.987 533.03 666.47)" font-size="10" font-weight="bold" fill="#B0393D">R</text>
<text transform="matrix(1.839 0 0 6.789 546.09 665.8)" font-size="10" font-weight="bold" fill="#B0393D">G</text>
<text transform="matrix(2.071 0 0 6.789 558.75 665.8)" font-size="10" font-weight="bold" fill="#B0393D">S</text>
<text transform="matrix(2.107 0 0 6.987 571.62 666.47)" font-size="10" font-weight="bold" fill="#B0393D">T</text>
<text transform="matrix(2.418 0 0 6.987 582.74 666.47)" font-size="10" font-weight="bold" fill="#B0393D">L</text>
<text transform="matrix(1.839 0 0 6.789 596.11 665.8)" font-size="10" font-weight="bold" fill="#B0393D">G</text>
<text transform="matrix(1.954 0 0 6.987 608.07 666.47)" font-size="10" font-weight="bold" fill="#B0393D">R</text>
<text transform="matrix(2.418 0 0 6.987 620.26 666.47)" font-size="10" font-weight="bold" fill="#B0393D">L</text>
<text transform="matrix(1.958 0 0 6.987 634.05 666.47)" font-size="10" font-weight="bold" fill="#B0393D">Y</text>
<text transform="matrix(2.446 0 0 6.987 645.26 666.47)" font-size="10" font-weight="bold" fill="#B0393D">F</text>
</g>
<g role="img" aria-label="CVVSDRGSTLGRLYF">
<text transform="matrix(1.898 0 0 6.789 471.02 742.4)" font-size="10" font-weight="bold" fill="#ECA263">C</text>
<text transform="matrix(1.899 0 0 6.987 484.18 743.07)" font-size="10" font-weight="bold" fill="#ECA263">V</text>
<text transform="matrix(1.899 0 0 6.987 496.68 743.07)" font-size="10" font-weight="bold" fill="#ECA263">V</text>
<text transform="matrix(2.071 0 0 6.789 508.72 742.4)" font-size="10" font-weight="bold" fill="#ECA263">S</text>
<text transform="matrix(2.023 0 0 6.987 520.47 743.07)" font-size="10" font-weight="bold" fill="#ECA263">D</text>
<text transform="matrix(1.954 0 0 6.987 533.03 743.07)" font-size="10" font-weight="bold" fill="#ECA263">R</text>
<text transform="matrix(1.839 0 0 6.789 546.09 742.4)" font-size="10" font-weight="bold" fill="#ECA263">G</text>
<text transform="matrix(2.071 0 0 6.789 558.75 742.4)" font-size="10" font-weight="bold" fill="#ECA263">S</text>
<text transform="matrix(2.107 0 0 6.987 571.62 743.07)" font-size="10" font-weight="bold" fill="#ECA263">T</text>
<text transform="matrix(2.418 0 0 6.987 582.74 743.07)" font-size="10" font-weight="bold" fill="#ECA263">L</text>
<text transform="matrix(1.839 0 0 6.789 596.11 742.4)" font-size="10" font-weight="bold" fill="#ECA263">G</text>
<text transform="matrix(1.954 0 0 6.987 608.07 743.07)" font-size="10" font-weight="bold" fill="#ECA263">R</text>
<text transform="matrix(2.418 0 0 6.987 620.26 743.07)" font-size="10" font-weight="bold" fill="#ECA263">L</text>
<text transform="matrix(1.958 0 0 6.987 634.05 743.07)" font-size="10" font-weight="bold" fill="#ECA263">Y</text>
<text transform="matrix(2.446 0 0 6.987 645.26 743.07)" font-size="10" font-weight="bold" fill="#ECA263">F</text>
</g>
<g role="img" aria-label="CASSEGAGGTDEQYF">
<text transform="matrix(1.900 0 0 6.893 1080.02 134.52)" font-size="10" font-weight="bold" fill="#3E2A2D">C</text>
<text transform="matrix(1.851 0 0 6.455 1092.86 130.81)" font-size="10" font-weight="bold" fill="#3E2A2D">A</text>
<text transform="matrix(2.073 0 0 0.482 1092.72 134.18)" font-size="10" font-weight="bold" fill="#3E2A2D" fill-opacity="0.7">S</text>
<text transform="matrix(2.073 0 0 6.203 1105.24 129.71)" font-size="10" font-weight="bold" fill="#3E2A2D">S</text>
<text transform="matrix(1.851 0 0 0.355 1105.38 132.76)" font-size="10" font-weight="bold" fill="#3E2A2D" fill-opacity="0.7">A</text>
<text transform="matrix(1.957 0 0 0.213 1104.53 134.22)" font-size="10" font-weight="bold" fill="#3E2A2D" fill-opacity="0.4">R</text>
<text transform="matrix(2.073 0 0 6.341 1117.76 130.67)" font-size="10" font-weight="bold" fill="#3E2A2D">S</text>
<text transform="matrix(2.109 0 0 0.355 1118.12 133.74)" font-size="10" font-weight="bold" fill="#3E2A2D" fill-opacity="0.5">T</text>
<text transform="matrix(2.214 0 0 1.915 1129.4 99.58)" font-size="10" font-weight="bold" fill="#3E2A2D">E</text>
<text transform="matrix(2.025 0 0 1.266 1129.53 108.28)" font-size="10" font-weight="bold" fill="#3E2A2D">D</text>
<text transform="matrix(2.420 0 0 0.987 1129.26 115.08)" font-size="10" font-weight="bold" fill="#3E2A2D" fill-opacity="0.88">L</text>
<text transform="matrix(2.195 0 0 0.770 1129.41 120.38)" font-size="10" font-weight="bold" fill="#3E2A2D" fill-opacity="0.75">P</text>
<text transform="matrix(2.109 0 0 0.601 1130.64 124.51)" font-size="10" font-weight="bold" fill="#3E2A2D" fill-opacity="0.62">T</text>
<text transform="matrix(1.851 0 0 0.469 1130.42 127.73)" font-size="10" font-weight="bold" fill="#3E2A2D" fill-opacity="0.5">A</text>
<text transform="matrix(2.073 0 0 0.355 1130.28 130.21)" font-size="10" font-weight="bold" fill="#3E2A2D" fill-opacity="0.38">S</text>
<text transform="matrix(1.841 0 0 0.277 1130.13 132.18)" font-size="10" font-weight="bold" fill="#3E2A2D" fill-opacity="0.25">G</text>
<text transform="matrix(2.214 0 0 0.222 1129.4 133.74)" font-size="10" font-weight="bold" fill="#3E2A2D" fill-opacity="0.18">E</text>
<text transform="matrix(1.841 0 0 1.861 1142.65 99.39)" font-size="10" font-weight="bold" fill="#3E2A2D">G</text>
<text transform="matrix(2.073 0 0 1.230 1142.8 108.16)" font-size="10" font-weight="bold" fill="#3E2A2D">S</text>
<text transform="matrix(2.420 0 0 0.987 1141.78 115.08)" font-size="10" font-weight="bold" fill="#3E2A2D" fill-opacity="0.88">L</text>
<text transform="matrix(2.073 0 0 0.748 1142.8 120.3)" font-size="10" font-weight="bold" fill="#3E2A2D" fill-opacity="0.75">S</text>
<text transform="matrix(2.109 0 0 0.601 1143.16 124.51)" font-size="10" font-weight="bold" fill="#3E2A2D" fill-opacity="0.62">T</text>
<text transform="matrix(1.851 0 0 0.469 1142.94 127.73)" font-size="10" font-weight="bold" fill="#3E2A2D" fill-opacity="0.5">A</text>
<text transform="matrix(2.214 0 0 0.365 1141.92 130.25)" font-size="10" font-weight="bold" fill="#3E2A2D" fill-opacity="0.38">E</text>
<text transform="matrix(2.025 0 0 0.285 1142.05 132.21)" font-size="10" font-weight="bold" fill="#3E2A2D" fill-opacity="0.25">D</text>
<text transform="matrix(2.113 0 0 0.222 1141.99 133.74)" font-size="10" font-weight="bold" fill="#3E2A2D" fill-opacity="0.18">N</text>
<text transform="matrix(1.851 0 0 1.419 1155.46 96.16)" font-size="10" font-weight="bold" fill="#3E2A2D">A</text>
<text transform="matrix(2.109 0 0 1.392 1155.68 105.74)" font-size="10" font-weight="bold" fill="#3E2A2D">T</text>
<text transform="matrix(2.073 0 0 1.055 1155.32 113.11)" font-size="10" font-weight="bold" fill="#3E2A2D" fill-opacity="0.88">S</text>
<text transform="matrix(1.841 0 0 0.823 1155.17 118.96)" font-size="10" font-weight="bold" fill="#3E2A2D" fill-opacity="0.75">G</text>
<text transform="matrix(1.851 0 0 0.661 1155.46 123.58)" font-size="10" font-weight="bold" fill="#3E2A2D" fill-opacity="0.62">A</text>
<text transform="matrix(1.957 0 0 0.515 1154.61 127.13)" font-size="10" font-weight="bold" fill="#3E2A2D" fill-opacity="0.5">R</text>
<text transform="matrix(1.957 0 0 0.402 1154.61 129.9)" font-size="10" font-weight="bold" fill="#3E2A2D" fill-opacity="0.38">R</text>
<text transform="matrix(1.851 0 0 0.314 1155.46 132.05)" font-size="10" font-weight="bold" fill="#3E2A2D" fill-opacity="0.25">A</text>
<text transform="matrix(2.195 0 0 0.245 1154.45 133.74)" font-size="10" font-weight="bold" fill="#3E2A2D" fill-opacity="0.18">P</text>
<text transform="matrix(1.841 0 0 3.102 1167.69 108.06)" font-size="10" font-weight="bold" fill="#3E2A2D">G</text>
<text transform="matrix(2.073 0 0 0.957 1167.84 115.04)" font-size="10" font-weight="bold" fill="#3E2A2D">S</text>
<text transform="matrix(2.073 0 0 0.746 1167.84 120.34)" font-size="10" font-weight="bold" fill="#3E2A2D" fill-opacity="0.88">S</text>
<text transform="matrix(1.913 0 0 0.599 1168.27 124.53)" font-size="10" font-weight="bold" fill="#3E2A2D" fill-opacity="0.75">X</text>
<text transform="matrix(2.025 0 0 0.467 1167.09 127.75)" font-size="10" font-weight="bold" fill="#3E2A2D" fill-opacity="0.62">D</text>
<text transform="matrix(1.960 0 0 0.364 1168.1 130.26)" font-size="10" font-weight="bold" fill="#3E2A2D" fill-opacity="0.5">Y</text>
<text transform="matrix(1.788 0 0 0.258 1167.71 132.06)" font-size="10" font-weight="bold" fill="#3E2A2D" fill-opacity="0.38">Q</text>
<text transform="matrix(2.448 0 0 0.222 1166.8 133.74)" font-size="10" font-weight="bold" fill="#3E2A2D" fill-opacity="0.25">F</text>
<text transform="matrix(1.841 0 0 2.757 1180.21 105.65)" font-size="10" font-weight="bold" fill="#3E2A2D">G</text>
<text transform="matrix(2.073 0 0 1.049 1180.36 113.24)" font-size="10" font-weight="bold" fill="#3E2A2D">S</text>
<text transform="matrix(2.073 0 0 0.818 1180.36 119.05)" font-size="10" font-weight="bold" fill="#3E2A2D" fill-opacity="0.88">S</text>
<text transform="matrix(2.025 0 0 0.656 1179.61 123.65)" font-size="10" font-weight="bold" fill="#3E2A2D" fill-opacity="0.75">D</text>
<text transform="matrix(2.195 0 0 0.512 1179.49 127.17)" font-size="10" font-weight="bold" fill="#3E2A2D" fill-opacity="0.62">P</text>
<text transform="matrix(1.841 0 0 0.388 1180.21 129.88)" font-size="10" font-weight="bold" fill="#3E2A2D" fill-opacity="0.5">G</text>
<text transform="matrix(2.214 0 0 0.312 1179.48 132.06)" font-size="10" font-weight="bold" fill="#3E2A2D" fill-opacity="0.38">E</text>
<text transform="matrix(2.025 0 0 0.243 1179.61 133.74)" font-size="10" font-weight="bold" fill="#3E2A2D" fill-opacity="0.25">D</text>
<text transform="matrix(2.109 0 0 2.624 1193.24 104.46)" font-size="10" font-weight="bold" fill="#3E2A2D">T</text>
<text transform="matrix(2.073 0 0 1.054 1192.88 111.82)" font-size="10" font-weight="bold" fill="#3E2A2D">S</text>
<text transform="matrix(1.960 0 0 0.846 1193.14 117.74)" font-size="10" font-weight="bold" fill="#3E2A2D" fill-opacity="0.88">Y</text>
<text transform="matrix(1.913 0 0 0.660 1193.31 122.28)" font-size="10" font-weight="bold" fill="#3E2A2D" fill-opacity="0.75">X</text>
<text transform="matrix(1.851 0 0 0.515 1193.02 125.83)" font-size="10" font-weight="bold" fill="#3E2A2D" fill-opacity="0.62">A</text>
<text transform="matrix(2.025 0 0 0.402 1192.13 128.59)" font-size="10" font-weight="bold" fill="#3E2A2D" fill-opacity="0.5">D</text>
<text transform="matrix(2.214 0 0 0.313 1192 130.74)" font-size="10" font-weight="bold" fill="#3E2A2D" fill-opacity="0.38">E</text>
<text transform="matrix(2.025 0 0 0.244 1192.13 132.42)" font-size="10" font-weight="bold" fill="#3E2A2D" fill-opacity="0.25">D</text>
<text transform="matrix(2.113 0 0 0.191 1192.07 133.74)" font-size="10" font-weight="bold" fill="#3E2A2D" fill-opacity="0.18">N</text>
<text transform="matrix(2.025 0 0 2.483 1204.65 103.48)" font-size="10" font-weight="bold" fill="#3E2A2D">D</text>
<text transform="matrix(2.113 0 0 1.121 1204.59 111.19)" font-size="10" font-weight="bold" fill="#3E2A2D">N</text>
<text transform="matrix(1.841 0 0 0.850 1205.25 117.13)" font-size="10" font-weight="bold" fill="#3E2A2D" fill-opacity="0.88">G</text>
<text transform="matrix(1.960 0 0 0.682 1205.66 121.9)" font-size="10" font-weight="bold" fill="#3E2A2D" fill-opacity="0.75">Y</text>
<text transform="matrix(1.788 0 0 0.483 1205.27 125.27)" font-size="10" font-weight="bold" fill="#3E2A2D" fill-opacity="0.62">Q</text>
<text transform="matrix(1.851 0 0 0.415 1205.54 128.42)" font-size="10" font-weight="bold" fill="#3E2A2D" fill-opacity="0.5">A</text>
<text transform="matrix(2.195 0 0 0.324 1204.53 130.64)" font-size="10" font-weight="bold" fill="#3E2A2D" fill-opacity="0.38">P</text>
<text transform="matrix(2.073 0 0 0.245 1205.4 132.36)" font-size="10" font-weight="bold" fill="#3E2A2D" fill-opacity="0.25">S</text>
<text transform="matrix(1.841 0 0 0.191 1205.25 133.72)" font-size="10" font-weight="bold" fill="#3E2A2D" fill-opacity="0.18">G</text>
<text transform="matrix(2.214 0 0 4.043 1217.04 114.22)" font-size="10" font-weight="bold" fill="#3E2A2D">E</text>
<text transform="matrix(2.109 0 0 1.986 1218.28 127.88)" font-size="10" font-weight="bold" fill="#3E2A2D">T</text>
<text transform="matrix(2.420 0 0 0.709 1216.9 132.76)" font-size="10" font-weight="bold" fill="#3E2A2D" fill-opacity="0.8">L</text>
<text transform="matrix(1.788 0 0 4.505 1230.31 117.86)" font-size="10" font-weight="bold" fill="#3E2A2D">Q</text>
<text transform="matrix(2.448 0 0 0.851 1229.4 127.39)" font-size="10" font-weight="bold" fill="#3E2A2D" fill-opacity="0.7">F</text>
<text transform="matrix(2.420 0 0 0.567 1229.42 131.3)" font-size="10" font-weight="bold" fill="#3E2A2D" fill-opacity="0.5">L</text>
<text transform="matrix(1.960 0 0 3.334 1243.22 109.34)" font-size="10" font-weight="bold" fill="#3E2A2D">Y</text>
<text transform="matrix(2.448 0 0 3.050 1241.92 130.32)" font-size="10" font-weight="bold" fill="#3E2A2D">F</text>
<text transform="matrix(2.420 0 0 0.426 1241.94 133.25)" font-size="10" font-weight="bold" fill="#3E2A2D" fill-opacity="0.6">L</text>
<text transform="matrix(2.448 0 0 6.880 1254.44 133.74)" font-size="10" font-weight="bold" fill="#3E2A2D">F</text>
</g>
<g role="img" aria-label="CASSEGGGGTNEQYF">
<text transform="matrix(1.900 0 0 6.836 1080.02 211.53)" font-size="10" font-weight="bold" fill="#5B8C86">C</text>
<text transform="matrix(1.851 0 0 6.402 1092.86 207.84)" font-size="10" font-weight="bold" fill="#5B8C86">A</text>
<text transform="matrix(2.073 0 0 0.479 1092.72 211.19)" font-size="10" font-weight="bold" fill="#5B8C86" fill-opacity="0.7">S</text>
<text transform="matrix(2.073 0 0 6.153 1105.24 206.76)" font-size="10" font-weight="bold" fill="#5B8C86">S</text>
<text transform="matrix(1.851 0 0 0.352 1105.38 209.78)" font-size="10" font-weight="bold" fill="#5B8C86" fill-opacity="0.7">A</text>
<text transform="matrix(1.957 0 0 0.211 1104.53 211.23)" font-size="10" font-weight="bold" fill="#5B8C86" fill-opacity="0.4">R</text>
<text transform="matrix(2.073 0 0 6.289 1117.76 207.71)" font-size="10" font-weight="bold" fill="#5B8C86">S</text>
<text transform="matrix(2.109 0 0 0.352 1118.12 210.75)" font-size="10" font-weight="bold" fill="#5B8C86" fill-opacity="0.5">T</text>
<text transform="matrix(2.214 0 0 1.266 1129.4 172.51)" font-size="10" font-weight="bold" fill="#5B8C86">E</text>
<text transform="matrix(2.025 0 0 1.417 1129.53 182.26)" font-size="10" font-weight="bold" fill="#5B8C86">D</text>
<text transform="matrix(1.788 0 0 1.003 1130.15 189.26)" font-size="10" font-weight="bold" fill="#5B8C86" fill-opacity="0.88">Q</text>
<text transform="matrix(2.214 0 0 0.862 1129.4 195.79)" font-size="10" font-weight="bold" fill="#5B8C86" fill-opacity="0.75">E</text>
<text transform="matrix(2.420 0 0 0.672 1129.26 200.42)" font-size="10" font-weight="bold" fill="#5B8C86" fill-opacity="0.62">L</text>
<text transform="matrix(1.901 0 0 0.524 1130.75 204.03)" font-size="10" font-weight="bold" fill="#5B8C86" fill-opacity="0.5">V</text>
<text transform="matrix(1.960 0 0 0.409 1130.54 206.84)" font-size="10" font-weight="bold" fill="#5B8C86" fill-opacity="0.38">Y</text>
<text transform="matrix(1.788 0 0 0.290 1130.15 208.86)" font-size="10" font-weight="bold" fill="#5B8C86" fill-opacity="0.25">Q</text>
<text transform="matrix(2.448 0 0 0.249 1129.24 210.75)" font-size="10" font-weight="bold" fill="#5B8C86" fill-opacity="0.18">F</text>
<text transform="matrix(1.841 0 0 1.709 1142.65 175.73)" font-size="10" font-weight="bold" fill="#5B8C86">G</text>
<text transform="matrix(2.073 0 0 1.255 1142.8 184.66)" font-size="10" font-weight="bold" fill="#5B8C86">S</text>
<text transform="matrix(2.109 0 0 1.007 1143.16 191.71)" font-size="10" font-weight="bold" fill="#5B8C86" fill-opacity="0.88">T</text>
<text transform="matrix(1.851 0 0 0.786 1142.94 197.12)" font-size="10" font-weight="bold" fill="#5B8C86" fill-opacity="0.75">A</text>
<text transform="matrix(1.841 0 0 0.595 1142.65 201.28)" font-size="10" font-weight="bold" fill="#5B8C86" fill-opacity="0.62">G</text>
<text transform="matrix(2.195 0 0 0.478 1141.93 204.62)" font-size="10" font-weight="bold" fill="#5B8C86" fill-opacity="0.5">P</text>
<text transform="matrix(1.841 0 0 0.362 1142.65 207.15)" font-size="10" font-weight="bold" fill="#5B8C86" fill-opacity="0.38">G</text>
<text transform="matrix(2.214 0 0 0.291 1141.92 209.19)" font-size="10" font-weight="bold" fill="#5B8C86" fill-opacity="0.25">E</text>
<text transform="matrix(2.025 0 0 0.227 1142.05 210.75)" font-size="10" font-weight="bold" fill="#5B8C86" fill-opacity="0.18">D</text>
<text transform="matrix(1.841 0 0 1.709 1155.17 175.73)" font-size="10" font-weight="bold" fill="#5B8C86">G</text>
<text transform="matrix(1.851 0 0 1.291 1155.46 184.78)" font-size="10" font-weight="bold" fill="#5B8C86">A</text>
<text transform="matrix(2.109 0 0 1.007 1155.68 191.71)" font-size="10" font-weight="bold" fill="#5B8C86" fill-opacity="0.88">T</text>
<text transform="matrix(1.957 0 0 0.786 1154.61 197.12)" font-size="10" font-weight="bold" fill="#5B8C86" fill-opacity="0.75">R</text>
<text transform="matrix(1.851 0 0 0.613 1155.46 201.33)" font-size="10" font-weight="bold" fill="#5B8C86" fill-opacity="0.62">A</text>
<text transform="matrix(2.214 0 0 0.478 1154.44 204.62)" font-size="10" font-weight="bold" fill="#5B8C86" fill-opacity="0.5">E</text>
<text transform="matrix(1.788 0 0 0.338 1155.19 206.98)" font-size="10" font-weight="bold" fill="#5B8C86" fill-opacity="0.38">Q</text>
<text transform="matrix(2.448 0 0 0.291 1154.28 209.19)" font-size="10" font-weight="bold" fill="#5B8C86" fill-opacity="0.25">F</text>
<text transform="matrix(1.923 0 0 0.227 1154.63 210.75)" font-size="10" font-weight="bold" fill="#5B8C86" fill-opacity="0.18">K</text>
<text transform="matrix(1.841 0 0 3.076 1167.69 185.28)" font-size="10" font-weight="bold" fill="#5B8C86">G</text>
<text transform="matrix(2.073 0 0 0.949 1167.84 192.2)" font-size="10" font-weight="bold" fill="#5B8C86">S</text>
<text transform="matrix(2.195 0 0 0.761 1166.97 197.54)" font-size="10" font-weight="bold" fill="#5B8C86" fill-opacity="0.88">P</text>
<text transform="matrix(1.851 0 0 0.594 1167.98 201.62)" font-size="10" font-weight="bold" fill="#5B8C86" fill-opacity="0.75">A</text>
<text transform="matrix(2.073 0 0 0.450 1167.84 204.77)" font-size="10" font-weight="bold" fill="#5B8C86" fill-opacity="0.62">S</text>
<text transform="matrix(2.113 0 0 0.361 1167.03 207.3)" font-size="10" font-weight="bold" fill="#5B8C86" fill-opacity="0.5">N</text>
<text transform="matrix(1.960 0 0 0.282 1168.1 209.24)" font-size="10" font-weight="bold" fill="#5B8C86" fill-opacity="0.38">Y</text>
<text transform="matrix(1.788 0 0 0.200 1167.71 210.63)" font-size="10" font-weight="bold" fill="#5B8C86" fill-opacity="0.25">Q</text>
<text transform="matrix(1.841 0 0 3.076 1180.21 185.28)" font-size="10" font-weight="bold" fill="#5B8C86">G</text>
<text transform="matrix(2.073 0 0 0.949 1180.36 192.2)" font-size="10" font-weight="bold" fill="#5B8C86">S</text>
<text transform="matrix(2.073 0 0 0.740 1180.36 197.46)" font-size="10" font-weight="bold" fill="#5B8C86" fill-opacity="0.88">S</text>
<text transform="matrix(1.957 0 0 0.594 1179.65 201.62)" font-size="10" font-weight="bold" fill="#5B8C86" fill-opacity="0.75">R</text>
<text transform="matrix(2.420 0 0 0.463 1179.34 204.81)" font-size="10" font-weight="bold" fill="#5B8C86" fill-opacity="0.62">L</text>
<text transform="matrix(1.957 0 0 0.361 1179.65 207.3)" font-size="10" font-weight="bold" fill="#5B8C86" fill-opacity="0.5">R</text>
<text transform="matrix(1.851 0 0 0.282 1180.5 209.24)" font-size="10" font-weight="bold" fill="#5B8C86" fill-opacity="0.38">A</text>
<text transform="matrix(2.195 0 0 0.220 1179.49 210.75)" font-size="10" font-weight="bold" fill="#5B8C86" fill-opacity="0.25">P</text>
<text transform="matrix(2.109 0 0 1.407 1193.24 173.48)" font-size="10" font-weight="bold" fill="#5B8C86">T</text>
<text transform="matrix(1.960 0 0 1.381 1193.14 182.98)" font-size="10" font-weight="bold" fill="#5B8C86">Y</text>
<text transform="matrix(2.073 0 0 1.047 1192.88 190.29)" font-size="10" font-weight="bold" fill="#5B8C86" fill-opacity="0.88">S</text>
<text transform="matrix(1.913 0 0 0.840 1193.31 196.17)" font-size="10" font-weight="bold" fill="#5B8C86" fill-opacity="0.75">X</text>
<text transform="matrix(1.851 0 0 0.655 1193.02 200.68)" font-size="10" font-weight="bold" fill="#5B8C86" fill-opacity="0.62">A</text>
<text transform="matrix(1.841 0 0 0.497 1192.73 204.15)" font-size="10" font-weight="bold" fill="#5B8C86" fill-opacity="0.5">G</text>
<text transform="matrix(1.960 0 0 0.399 1193.14 206.94)" font-size="10" font-weight="bold" fill="#5B8C86" fill-opacity="0.38">Y</text>
<text transform="matrix(1.788 0 0 0.282 1192.75 208.91)" font-size="10" font-weight="bold" fill="#5B8C86" fill-opacity="0.25">Q</text>
<text transform="matrix(2.448 0 0 0.243 1191.84 210.75)" font-size="10" font-weight="bold" fill="#5B8C86" fill-opacity="0.18">F</text>
<text transform="matrix(2.113 0 0 1.970 1204.59 177.35)" font-size="10" font-weight="bold" fill="#5B8C86">N</text>
<text transform="matrix(2.025 0 0 1.378 1204.65 186.83)" font-size="10" font-weight="bold" fill="#5B8C86">D</text>
<text transform="matrix(1.960 0 0 1.075 1205.66 194.23)" font-size="10" font-weight="bold" fill="#5B8C86" fill-opacity="0.88">Y</text>
<text transform="matrix(1.841 0 0 0.815 1205.25 199.92)" font-size="10" font-weight="bold" fill="#5B8C86" fill-opacity="0.75">G</text>
<text transform="matrix(2.109 0 0 0.654 1205.76 204.5)" font-size="10" font-weight="bold" fill="#5B8C86" fill-opacity="0.62">T</text>
<text transform="matrix(1.788 0 0 0.463 1205.27 207.73)" font-size="10" font-weight="bold" fill="#5B8C86" fill-opacity="0.5">Q</text>
<text transform="matrix(2.113 0 0 0.398 1204.59 210.75)" font-size="10" font-weight="bold" fill="#5B8C86" fill-opacity="0.38">H</text>
<text transform="matrix(2.214 0 0 4.010 1217.04 191.39)" font-size="10" font-weight="bold" fill="#5B8C86">E</text>
<text transform="matrix(2.109 0 0 1.970 1218.28 204.94)" font-size="10" font-weight="bold" fill="#5B8C86">T</text>
<text transform="matrix(2.420 0 0 0.703 1216.9 209.78)" font-size="10" font-weight="bold" fill="#5B8C86" fill-opacity="0.8">L</text>
<text transform="matrix(1.788 0 0 4.468 1230.31 195)" font-size="10" font-weight="bold" fill="#5B8C86">Q</text>
<text transform="matrix(2.448 0 0 0.844 1229.4 204.46)" font-size="10" font-weight="bold" fill="#5B8C86" fill-opacity="0.7">F</text>
<text transform="matrix(2.420 0 0 0.563 1229.42 208.33)" font-size="10" font-weight="bold" fill="#5B8C86" fill-opacity="0.5">L</text>
<text transform="matrix(1.960 0 0 3.306 1243.22 186.55)" font-size="10" font-weight="bold" fill="#5B8C86">Y</text>
<text transform="matrix(2.448 0 0 3.025 1241.92 207.36)" font-size="10" font-weight="bold" fill="#5B8C86">F</text>
<text transform="matrix(2.420 0 0 0.422 1241.94 210.26)" font-size="10" font-weight="bold" fill="#5B8C86" fill-opacity="0.6">L</text>
<text transform="matrix(2.448 0 0 6.824 1254.44 210.75)" font-size="10" font-weight="bold" fill="#5B8C86">F</text>
</g>
<g role="img" aria-label="CASSPGGGGTNEQYF">
<text transform="matrix(1.900 0 0 6.907 1080.02 289.82)" font-size="10" font-weight="bold" fill="#B0393D">C</text>
<text transform="matrix(1.851 0 0 6.468 1092.86 286.1)" font-size="10" font-weight="bold" fill="#B0393D">A</text>
<text transform="matrix(2.073 0 0 0.483 1092.72 289.47)" font-size="10" font-weight="bold" fill="#B0393D" fill-opacity="0.7">S</text>
<text transform="matrix(2.073 0 0 6.216 1105.24 285)" font-size="10" font-weight="bold" fill="#B0393D">S</text>
<text transform="matrix(1.851 0 0 0.355 1105.38 288.06)" font-size="10" font-weight="bold" fill="#B0393D" fill-opacity="0.7">A</text>
<text transform="matrix(1.957 0 0 0.213 1104.53 289.52)" font-size="10" font-weight="bold" fill="#B0393D" fill-opacity="0.4">R</text>
<text transform="matrix(2.073 0 0 6.354 1117.76 285.97)" font-size="10" font-weight="bold" fill="#B0393D">S</text>
<text transform="matrix(2.109 0 0 0.355 1118.12 289.03)" font-size="10" font-weight="bold" fill="#B0393D" fill-opacity="0.5">T</text>
<text transform="matrix(2.195 0 0 1.137 1129.41 249.42)" font-size="10" font-weight="bold" fill="#B0393D">P</text>
<text transform="matrix(2.214 0 0 1.468 1129.4 259.52)" font-size="10" font-weight="bold" fill="#B0393D">E</text>
<text transform="matrix(1.788 0 0 1.039 1130.15 266.77)" font-size="10" font-weight="bold" fill="#B0393D" fill-opacity="0.88">Q</text>
<text transform="matrix(2.214 0 0 0.893 1129.4 273.54)" font-size="10" font-weight="bold" fill="#B0393D" fill-opacity="0.75">E</text>
<text transform="matrix(2.420 0 0 0.696 1129.26 278.33)" font-size="10" font-weight="bold" fill="#B0393D" fill-opacity="0.62">L</text>
<text transform="matrix(2.073 0 0 0.528 1130.28 282.02)" font-size="10" font-weight="bold" fill="#B0393D" fill-opacity="0.5">S</text>
<text transform="matrix(1.957 0 0 0.424 1129.57 284.99)" font-size="10" font-weight="bold" fill="#B0393D" fill-opacity="0.38">R</text>
<text transform="matrix(1.851 0 0 0.331 1130.42 287.26)" font-size="10" font-weight="bold" fill="#B0393D" fill-opacity="0.25">A</text>
<text transform="matrix(2.195 0 0 0.258 1129.41 289.03)" font-size="10" font-weight="bold" fill="#B0393D" fill-opacity="0.18">P</text>
<text transform="matrix(1.841 0 0 1.727 1142.65 253.66)" font-size="10" font-weight="bold" fill="#B0393D">G</text>
<text transform="matrix(2.073 0 0 1.268 1142.8 262.68)" font-size="10" font-weight="bold" fill="#B0393D">S</text>
<text transform="matrix(2.109 0 0 1.018 1143.16 269.8)" font-size="10" font-weight="bold" fill="#B0393D" fill-opacity="0.88">T</text>
<text transform="matrix(1.851 0 0 0.794 1142.94 275.26)" font-size="10" font-weight="bold" fill="#B0393D" fill-opacity="0.75">A</text>
<text transform="matrix(1.957 0 0 0.619 1142.09 279.52)" font-size="10" font-weight="bold" fill="#B0393D" fill-opacity="0.62">R</text>
<text transform="matrix(1.901 0 0 0.483 1143.27 282.84)" font-size="10" font-weight="bold" fill="#B0393D" fill-opacity="0.5">V</text>
<text transform="matrix(2.448 0 0 0.377 1141.76 285.44)" font-size="10" font-weight="bold" fill="#B0393D" fill-opacity="0.38">F</text>
<text transform="matrix(1.923 0 0 0.294 1142.11 287.46)" font-size="10" font-weight="bold" fill="#B0393D" fill-opacity="0.25">K</text>
<text transform="matrix(2.113 0 0 0.229 1141.99 289.03)" font-size="10" font-weight="bold" fill="#B0393D" fill-opacity="0.18">H</text>
<text transform="matrix(1.841 0 0 1.865 1155.17 254.62)" font-size="10" font-weight="bold" fill="#B0393D">G</text>
<text transform="matrix(1.851 0 0 1.268 1155.46 263.53)" font-size="10" font-weight="bold" fill="#B0393D">A</text>
<text transform="matrix(2.109 0 0 0.989 1155.68 270.34)" font-size="10" font-weight="bold" fill="#B0393D" fill-opacity="0.88">T</text>
<text transform="matrix(2.420 0 0 0.772 1154.3 275.64)" font-size="10" font-weight="bold" fill="#B0393D" fill-opacity="0.75">L</text>
<text transform="matrix(1.851 0 0 0.602 1155.46 279.79)" font-size="10" font-weight="bold" fill="#B0393D" fill-opacity="0.62">A</text>
<text transform="matrix(2.195 0 0 0.469 1154.45 283.02)" font-size="10" font-weight="bold" fill="#B0393D" fill-opacity="0.5">P</text>
<text transform="matrix(1.841 0 0 0.356 1155.17 285.5)" font-size="10" font-weight="bold" fill="#B0393D" fill-opacity="0.38">G</text>
<text transform="matrix(2.214 0 0 0.286 1154.44 287.5)" font-size="10" font-weight="bold" fill="#B0393D" fill-opacity="0.25">E</text>
<text transform="matrix(2.025 0 0 0.223 1154.57 289.03)" font-size="10" font-weight="bold" fill="#B0393D" fill-opacity="0.18">D</text>
<text transform="matrix(1.841 0 0 2.763 1167.69 260.89)" font-size="10" font-weight="bold" fill="#B0393D">G</text>
<text transform="matrix(2.073 0 0 1.051 1167.84 268.5)" font-size="10" font-weight="bold" fill="#B0393D">S</text>
<text transform="matrix(1.913 0 0 0.843 1168.27 274.4)" font-size="10" font-weight="bold" fill="#B0393D" fill-opacity="0.88">X</text>
<text transform="matrix(1.851 0 0 0.658 1167.98 278.93)" font-size="10" font-weight="bold" fill="#B0393D" fill-opacity="0.75">A</text>
<text transform="matrix(2.073 0 0 0.499 1167.84 282.41)" font-size="10" font-weight="bold" fill="#B0393D" fill-opacity="0.62">S</text>
<text transform="matrix(2.113 0 0 0.400 1167.03 285.21)" font-size="10" font-weight="bold" fill="#B0393D" fill-opacity="0.5">N</text>
<text transform="matrix(1.960 0 0 0.312 1168.1 287.36)" font-size="10" font-weight="bold" fill="#B0393D" fill-opacity="0.38">Y</text>
<text transform="matrix(1.788 0 0 0.221 1167.71 288.9)" font-size="10" font-weight="bold" fill="#B0393D" fill-opacity="0.25">Q</text>
<text transform="matrix(1.841 0 0 3.108 1180.21 263.3)" font-size="10" font-weight="bold" fill="#B0393D">G</text>
<text transform="matrix(2.073 0 0 0.959 1180.36 270.3)" font-size="10" font-weight="bold" fill="#B0393D">S</text>
<text transform="matrix(2.073 0 0 0.748 1180.36 275.61)" font-size="10" font-weight="bold" fill="#B0393D" fill-opacity="0.88">S</text>
<text transform="matrix(1.851 0 0 0.600 1180.5 279.81)" font-size="10" font-weight="bold" fill="#B0393D" fill-opacity="0.75">A</text>
<text transform="matrix(1.957 0 0 0.468 1179.65 283.03)" font-size="10" font-weight="bold" fill="#B0393D" fill-opacity="0.62">R</text>
<text transform="matrix(2.025 0 0 0.365 1179.61 285.55)" font-size="10" font-weight="bold" fill="#B0393D" fill-opacity="0.5">D</text>
<text transform="matrix(2.113 0 0 0.285 1179.55 287.5)" font-size="10" font-weight="bold" fill="#B0393D" fill-opacity="0.38">N</text>
<text transform="matrix(1.960 0 0 0.222 1180.62 289.03)" font-size="10" font-weight="bold" fill="#B0393D" fill-opacity="0.25">Y</text>
<text transform="matrix(2.109 0 0 1.422 1193.24 251.38)" font-size="10" font-weight="bold" fill="#B0393D">T</text>
<text transform="matrix(1.960 0 0 1.395 1193.14 260.98)" font-size="10" font-weight="bold" fill="#B0393D">Y</text>
<text transform="matrix(2.025 0 0 1.088 1192.13 268.47)" font-size="10" font-weight="bold" fill="#B0393D" fill-opacity="0.88">D</text>
<text transform="matrix(1.851 0 0 0.849 1193.02 274.31)" font-size="10" font-weight="bold" fill="#B0393D" fill-opacity="0.75">A</text>
<text transform="matrix(1.913 0 0 0.662 1193.31 278.86)" font-size="10" font-weight="bold" fill="#B0393D" fill-opacity="0.62">X</text>
<text transform="matrix(1.841 0 0 0.502 1192.73 282.36)" font-size="10" font-weight="bold" fill="#B0393D" fill-opacity="0.5">G</text>
<text transform="matrix(1.960 0 0 0.403 1193.14 285.19)" font-size="10" font-weight="bold" fill="#B0393D" fill-opacity="0.38">Y</text>
<text transform="matrix(1.788 0 0 0.285 1192.75 287.18)" font-size="10" font-weight="bold" fill="#B0393D" fill-opacity="0.25">Q</text>
<text transform="matrix(2.448 0 0 0.245 1191.84 289.03)" font-size="10" font-weight="bold" fill="#B0393D" fill-opacity="0.18">F</text>
<text transform="matrix(2.113 0 0 1.990 1204.59 255.29)" font-size="10" font-weight="bold" fill="#B0393D">N</text>
<text transform="matrix(2.025 0 0 1.250 1204.65 263.89)" font-size="10" font-weight="bold" fill="#B0393D">D</text>
<text transform="matrix(1.960 0 0 0.975 1205.66 270.6)" font-size="10" font-weight="bold" fill="#B0393D" fill-opacity="0.88">Y</text>
<text transform="matrix(1.841 0 0 0.739 1205.25 275.76)" font-size="10" font-weight="bold" fill="#B0393D" fill-opacity="0.75">G</text>
<text transform="matrix(2.214 0 0 0.593 1204.52 279.92)" font-size="10" font-weight="bold" fill="#B0393D" fill-opacity="0.62">E</text>
<text transform="matrix(1.900 0 0 0.450 1205.22 283.06)" font-size="10" font-weight="bold" fill="#B0393D" fill-opacity="0.5">C</text>
<text transform="matrix(2.420 0 0 0.361 1204.38 285.59)" font-size="10" font-weight="bold" fill="#B0393D" fill-opacity="0.38">L</text>
<text transform="matrix(1.901 0 0 0.282 1205.87 287.52)" font-size="10" font-weight="bold" fill="#B0393D" fill-opacity="0.25">V</text>
<text transform="matrix(1.957 0 0 0.220 1204.69 289.03)" font-size="10" font-weight="bold" fill="#B0393D" fill-opacity="0.18">R</text>
<text transform="matrix(2.214 0 0 4.051 1217.04 269.47)" font-size="10" font-weight="bold" fill="#B0393D">E</text>
<text transform="matrix(2.109 0 0 1.990 1218.28 283.17)" font-size="10" font-weight="bold" fill="#B0393D">T</text>
<text transform="matrix(2.420 0 0 0.711 1216.9 288.06)" font-size="10" font-weight="bold" fill="#B0393D" fill-opacity="0.8">L</text>
<text transform="matrix(1.788 0 0 4.515 1230.31 273.12)" font-size="10" font-weight="bold" fill="#B0393D">Q</text>
<text transform="matrix(2.448 0 0 0.853 1229.4 282.68)" font-size="10" font-weight="bold" fill="#B0393D" fill-opacity="0.7">F</text>
<text transform="matrix(2.420 0 0 0.569 1229.42 286.59)" font-size="10" font-weight="bold" fill="#B0393D" fill-opacity="0.5">L</text>
<text transform="matrix(1.960 0 0 3.341 1243.22 264.58)" font-size="10" font-weight="bold" fill="#B0393D">Y</text>
<text transform="matrix(2.448 0 0 3.056 1241.92 285.61)" font-size="10" font-weight="bold" fill="#B0393D">F</text>
<text transform="matrix(2.420 0 0 0.426 1241.94 288.54)" font-size="10" font-weight="bold" fill="#B0393D" fill-opacity="0.6">L</text>
<text transform="matrix(2.448 0 0 6.894 1254.44 289.03)" font-size="10" font-weight="bold" fill="#B0393D">F</text>
</g>
<g role="img" aria-label="CASSEGGGGTNEQYF">
<text transform="matrix(1.900 0 0 6.949 1080.02 367.52)" font-size="10" font-weight="bold" fill="#ECA263">C</text>
<text transform="matrix(1.851 0 0 6.508 1092.86 363.77)" font-size="10" font-weight="bold" fill="#ECA263">A</text>
<text transform="matrix(2.073 0 0 0.486 1092.72 367.17)" font-size="10" font-weight="bold" fill="#ECA263" fill-opacity="0.7">S</text>
<text transform="matrix(2.073 0 0 6.254 1105.24 362.67)" font-size="10" font-weight="bold" fill="#ECA263">S</text>
<text transform="matrix(1.851 0 0 0.358 1105.38 365.74)" font-size="10" font-weight="bold" fill="#ECA263" fill-opacity="0.7">A</text>
<text transform="matrix(1.957 0 0 0.215 1104.53 367.22)" font-size="10" font-weight="bold" fill="#ECA263" fill-opacity="0.4">R</text>
<text transform="matrix(2.073 0 0 6.393 1117.76 363.64)" font-size="10" font-weight="bold" fill="#ECA263">S</text>
<text transform="matrix(2.109 0 0 0.358 1118.12 366.72)" font-size="10" font-weight="bold" fill="#ECA263" fill-opacity="0.5">T</text>
<text transform="matrix(2.214 0 0 1.144 1129.4 326.87)" font-size="10" font-weight="bold" fill="#ECA263">E</text>
<text transform="matrix(2.025 0 0 1.477 1129.53 337.03)" font-size="10" font-weight="bold" fill="#ECA263">D</text>
<text transform="matrix(2.195 0 0 1.152 1129.41 344.96)" font-size="10" font-weight="bold" fill="#ECA263" fill-opacity="0.88">P</text>
<text transform="matrix(2.420 0 0 0.898 1129.26 351.14)" font-size="10" font-weight="bold" fill="#ECA263" fill-opacity="0.75">L</text>
<text transform="matrix(1.957 0 0 0.701 1129.57 355.96)" font-size="10" font-weight="bold" fill="#ECA263" fill-opacity="0.62">R</text>
<text transform="matrix(2.073 0 0 0.531 1130.28 359.67)" font-size="10" font-weight="bold" fill="#ECA263" fill-opacity="0.5">S</text>
<text transform="matrix(2.214 0 0 0.426 1129.4 362.65)" font-size="10" font-weight="bold" fill="#ECA263" fill-opacity="0.38">E</text>
<text transform="matrix(2.025 0 0 0.333 1129.53 364.94)" font-size="10" font-weight="bold" fill="#ECA263" fill-opacity="0.25">D</text>
<text transform="matrix(2.113 0 0 0.259 1129.47 366.72)" font-size="10" font-weight="bold" fill="#ECA263" fill-opacity="0.18">N</text>
<text transform="matrix(1.841 0 0 1.737 1142.65 331.13)" font-size="10" font-weight="bold" fill="#ECA263">G</text>
<text transform="matrix(2.073 0 0 1.276 1142.8 340.21)" font-size="10" font-weight="bold" fill="#ECA263">S</text>
<text transform="matrix(2.109 0 0 1.024 1143.16 347.37)" font-size="10" font-weight="bold" fill="#ECA263" fill-opacity="0.88">T</text>
<text transform="matrix(1.851 0 0 0.799 1142.94 352.87)" font-size="10" font-weight="bold" fill="#ECA263" fill-opacity="0.75">A</text>
<text transform="matrix(1.841 0 0 0.605 1142.65 357.09)" font-size="10" font-weight="bold" fill="#ECA263" fill-opacity="0.62">G</text>
<text transform="matrix(2.195 0 0 0.486 1141.93 360.5)" font-size="10" font-weight="bold" fill="#ECA263" fill-opacity="0.5">P</text>
<text transform="matrix(1.841 0 0 0.368 1142.65 363.07)" font-size="10" font-weight="bold" fill="#ECA263" fill-opacity="0.38">G</text>
<text transform="matrix(2.214 0 0 0.296 1141.92 365.14)" font-size="10" font-weight="bold" fill="#ECA263" fill-opacity="0.25">E</text>
<text transform="matrix(2.025 0 0 0.231 1142.05 366.72)" font-size="10" font-weight="bold" fill="#ECA263" fill-opacity="0.18">D</text>
<text transform="matrix(1.841 0 0 1.876 1155.17 332.1)" font-size="10" font-weight="bold" fill="#ECA263">G</text>
<text transform="matrix(2.448 0 0 1.276 1154.28 341.06)" font-size="10" font-weight="bold" fill="#ECA263">F</text>
<text transform="matrix(1.851 0 0 0.995 1155.46 347.91)" font-size="10" font-weight="bold" fill="#ECA263" fill-opacity="0.88">A</text>
<text transform="matrix(2.073 0 0 0.754 1155.32 353.18)" font-size="10" font-weight="bold" fill="#ECA263" fill-opacity="0.75">S</text>
<text transform="matrix(1.851 0 0 0.606 1155.46 357.42)" font-size="10" font-weight="bold" fill="#ECA263" fill-opacity="0.62">A</text>
<text transform="matrix(1.901 0 0 0.472 1155.79 360.67)" font-size="10" font-weight="bold" fill="#ECA263" fill-opacity="0.5">V</text>
<text transform="matrix(2.448 0 0 0.368 1154.28 363.2)" font-size="10" font-weight="bold" fill="#ECA263" fill-opacity="0.38">F</text>
<text transform="matrix(1.923 0 0 0.287 1154.63 365.18)" font-size="10" font-weight="bold" fill="#ECA263" fill-opacity="0.25">K</text>
<text transform="matrix(2.113 0 0 0.224 1154.51 366.72)" font-size="10" font-weight="bold" fill="#ECA263" fill-opacity="0.18">H</text>
<text transform="matrix(1.841 0 0 2.641 1167.69 337.44)" font-size="10" font-weight="bold" fill="#ECA263">G</text>
<text transform="matrix(2.109 0 0 1.126 1168.2 345.44)" font-size="10" font-weight="bold" fill="#ECA263">T</text>
<text transform="matrix(2.073 0 0 0.853 1167.84 351.4)" font-size="10" font-weight="bold" fill="#ECA263" fill-opacity="0.88">S</text>
<text transform="matrix(1.851 0 0 0.685 1167.98 356.2)" font-size="10" font-weight="bold" fill="#ECA263" fill-opacity="0.75">A</text>
<text transform="matrix(2.195 0 0 0.534 1166.97 359.88)" font-size="10" font-weight="bold" fill="#ECA263" fill-opacity="0.62">P</text>
<text transform="matrix(1.841 0 0 0.405 1167.69 362.7)" font-size="10" font-weight="bold" fill="#ECA263" fill-opacity="0.5">G</text>
<text transform="matrix(2.214 0 0 0.325 1166.96 364.98)" font-size="10" font-weight="bold" fill="#ECA263" fill-opacity="0.38">E</text>
<text transform="matrix(2.025 0 0 0.254 1167.09 366.72)" font-size="10" font-weight="bold" fill="#ECA263" fill-opacity="0.25">D</text>
<text transform="matrix(1.841 0 0 2.919 1180.21 339.38)" font-size="10" font-weight="bold" fill="#ECA263">G</text>
<text transform="matrix(2.073 0 0 1.020 1180.36 346.79)" font-size="10" font-weight="bold" fill="#ECA263">S</text>
<text transform="matrix(2.073 0 0 0.796 1180.36 352.44)" font-size="10" font-weight="bold" fill="#ECA263" fill-opacity="0.88">S</text>
<text transform="matrix(1.913 0 0 0.639 1180.79 356.91)" font-size="10" font-weight="bold" fill="#ECA263" fill-opacity="0.75">X</text>
<text transform="matrix(2.195 0 0 0.498 1179.49 360.34)" font-size="10" font-weight="bold" fill="#ECA263" fill-opacity="0.62">P</text>
<text transform="matrix(1.841 0 0 0.378 1180.21 362.98)" font-size="10" font-weight="bold" fill="#ECA263" fill-opacity="0.5">G</text>
<text transform="matrix(2.214 0 0 0.303 1179.48 365.1)" font-size="10" font-weight="bold" fill="#ECA263" fill-opacity="0.38">E</text>
<text transform="matrix(2.025 0 0 0.236 1179.61 366.72)" font-size="10" font-weight="bold" fill="#ECA263" fill-opacity="0.25">D</text>
<text transform="matrix(2.109 0 0 1.430 1193.24 328.84)" font-size="10" font-weight="bold" fill="#ECA263">T</text>
<text transform="matrix(1.960 0 0 1.404 1193.14 338.5)" font-size="10" font-weight="bold" fill="#ECA263">Y</text>
<text transform="matrix(2.073 0 0 1.064 1192.88 345.93)" font-size="10" font-weight="bold" fill="#ECA263" fill-opacity="0.88">S</text>
<text transform="matrix(1.851 0 0 0.854 1193.02 351.91)" font-size="10" font-weight="bold" fill="#ECA263" fill-opacity="0.75">A</text>
<text transform="matrix(2.025 0 0 0.666 1192.13 356.49)" font-size="10" font-weight="bold" fill="#ECA263" fill-opacity="0.62">D</text>
<text transform="matrix(1.841 0 0 0.505 1192.73 360.01)" font-size="10" font-weight="bold" fill="#ECA263" fill-opacity="0.5">G</text>
<text transform="matrix(1.960 0 0 0.405 1193.14 362.85)" font-size="10" font-weight="bold" fill="#ECA263" fill-opacity="0.38">Y</text>
<text transform="matrix(1.788 0 0 0.287 1192.75 364.86)" font-size="10" font-weight="bold" fill="#ECA263" fill-opacity="0.25">Q</text>
<text transform="matrix(2.448 0 0 0.247 1191.84 366.72)" font-size="10" font-weight="bold" fill="#ECA263" fill-opacity="0.18">F</text>
<text transform="matrix(2.113 0 0 2.002 1204.59 332.78)" font-size="10" font-weight="bold" fill="#ECA263">N</text>
<text transform="matrix(1.960 0 0 1.258 1205.66 341.43)" font-size="10" font-weight="bold" fill="#ECA263">Y</text>
<text transform="matrix(2.025 0 0 0.981 1204.65 348.18)" font-size="10" font-weight="bold" fill="#ECA263" fill-opacity="0.88">D</text>
<text transform="matrix(2.109 0 0 0.765 1205.76 353.45)" font-size="10" font-weight="bold" fill="#ECA263" fill-opacity="0.75">T</text>
<text transform="matrix(1.788 0 0 0.542 1205.27 357.23)" font-size="10" font-weight="bold" fill="#ECA263" fill-opacity="0.62">Q</text>
<text transform="matrix(2.448 0 0 0.466 1204.36 360.76)" font-size="10" font-weight="bold" fill="#ECA263" fill-opacity="0.5">F</text>
<text transform="matrix(1.851 0 0 0.363 1205.54 363.25)" font-size="10" font-weight="bold" fill="#ECA263" fill-opacity="0.38">A</text>
<text transform="matrix(2.195 0 0 0.283 1204.53 365.2)" font-size="10" font-weight="bold" fill="#ECA263" fill-opacity="0.25">P</text>
<text transform="matrix(2.073 0 0 0.215 1205.4 366.7)" font-size="10" font-weight="bold" fill="#ECA263" fill-opacity="0.18">S</text>
<text transform="matrix(2.214 0 0 4.076 1217.04 347.04)" font-size="10" font-weight="bold" fill="#ECA263">E</text>
<text transform="matrix(2.109 0 0 2.002 1218.28 360.82)" font-size="10" font-weight="bold" fill="#ECA263">T</text>
<text transform="matrix(2.420 0 0 0.715 1216.9 365.74)" font-size="10" font-weight="bold" fill="#ECA263" fill-opacity="0.8">L</text>
<text transform="matrix(1.788 0 0 4.542 1230.31 350.71)" font-size="10" font-weight="bold" fill="#ECA263">Q</text>
<text transform="matrix(2.448 0 0 0.858 1229.4 360.33)" font-size="10" font-weight="bold" fill="#ECA263" fill-opacity="0.7">F</text>
<text transform="matrix(2.420 0 0 0.572 1229.42 364.26)" font-size="10" font-weight="bold" fill="#ECA263" fill-opacity="0.5">L</text>
<text transform="matrix(1.960 0 0 3.361 1243.22 342.12)" font-size="10" font-weight="bold" fill="#ECA263">Y</text>
<text transform="matrix(2.448 0 0 3.075 1241.92 363.28)" font-size="10" font-weight="bold" fill="#ECA263">F</text>
<text transform="matrix(2.420 0 0 0.429 1241.94 366.23)" font-size="10" font-weight="bold" fill="#ECA263" fill-opacity="0.6">L</text>
<text transform="matrix(2.448 0 0 6.937 1254.44 366.72)" font-size="10" font-weight="bold" fill="#ECA263">F</text>
</g>
<g role="img" aria-label="CASSESTGGSGEQFF">
<text transform="matrix(1.896 0 0 6.836 1083.82 510.33)" font-size="10" font-weight="bold" fill="#3E2A2D">C</text>
<text transform="matrix(1.847 0 0 6.402 1096.63 506.64)" font-size="10" font-weight="bold" fill="#3E2A2D">A</text>
<text transform="matrix(2.069 0 0 0.479 1096.5 509.99)" font-size="10" font-weight="bold" fill="#3E2A2D" fill-opacity="0.7">S</text>
<text transform="matrix(2.069 0 0 6.153 1108.99 505.56)" font-size="10" font-weight="bold" fill="#3E2A2D">S</text>
<text transform="matrix(1.847 0 0 0.352 1109.13 508.58)" font-size="10" font-weight="bold" fill="#3E2A2D" fill-opacity="0.7">A</text>
<text transform="matrix(1.952 0 0 0.211 1108.28 510.03)" font-size="10" font-weight="bold" fill="#3E2A2D" fill-opacity="0.4">R</text>
<text transform="matrix(2.069 0 0 6.289 1121.48 506.51)" font-size="10" font-weight="bold" fill="#3E2A2D">S</text>
<text transform="matrix(2.104 0 0 0.352 1121.84 509.55)" font-size="10" font-weight="bold" fill="#3E2A2D" fill-opacity="0.5">T</text>
<text transform="matrix(2.209 0 0 2.110 1133.1 477.12)" font-size="10" font-weight="bold" fill="#3E2A2D">E</text>
<text transform="matrix(2.021 0 0 1.258 1133.22 485.77)" font-size="10" font-weight="bold" fill="#3E2A2D">D</text>
<text transform="matrix(2.190 0 0 0.981 1133.11 492.52)" font-size="10" font-weight="bold" fill="#3E2A2D" fill-opacity="0.88">P</text>
<text transform="matrix(1.847 0 0 0.765 1134.11 497.79)" font-size="10" font-weight="bold" fill="#3E2A2D" fill-opacity="0.75">A</text>
<text transform="matrix(1.897 0 0 0.597 1134.44 501.9)" font-size="10" font-weight="bold" fill="#3E2A2D" fill-opacity="0.62">V</text>
<text transform="matrix(2.429 0 0 0.466 1137.25 505.1)" font-size="10" font-weight="bold" fill="#3E2A2D" fill-opacity="0.5">I</text>
<text transform="matrix(1.918 0 0 0.363 1133.29 507.6)" font-size="10" font-weight="bold" fill="#3E2A2D" fill-opacity="0.38">K</text>
<text transform="matrix(2.108 0 0 0.283 1133.16 509.55)" font-size="10" font-weight="bold" fill="#3E2A2D" fill-opacity="0.25">H</text>
<text transform="matrix(2.069 0 0 2.051 1146.47 476.92)" font-size="10" font-weight="bold" fill="#3E2A2D">S</text>
<text transform="matrix(1.837 0 0 1.168 1146.31 485.27)" font-size="10" font-weight="bold" fill="#3E2A2D">G</text>
<text transform="matrix(1.952 0 0 0.937 1145.76 491.83)" font-size="10" font-weight="bold" fill="#3E2A2D" fill-opacity="0.88">R</text>
<text transform="matrix(2.190 0 0 0.731 1145.6 496.86)" font-size="10" font-weight="bold" fill="#3E2A2D" fill-opacity="0.75">P</text>
<text transform="matrix(2.209 0 0 0.570 1145.59 500.79)" font-size="10" font-weight="bold" fill="#3E2A2D" fill-opacity="0.62">E</text>
<text transform="matrix(1.955 0 0 0.445 1146.73 503.85)" font-size="10" font-weight="bold" fill="#3E2A2D" fill-opacity="0.5">Y</text>
<text transform="matrix(1.784 0 0 0.315 1146.34 506.05)" font-size="10" font-weight="bold" fill="#3E2A2D" fill-opacity="0.38">Q</text>
<text transform="matrix(2.443 0 0 0.271 1145.43 508.1)" font-size="10" font-weight="bold" fill="#3E2A2D" fill-opacity="0.25">F</text>
<text transform="matrix(1.918 0 0 0.211 1145.78 509.55)" font-size="10" font-weight="bold" fill="#3E2A2D" fill-opacity="0.18">K</text>
<text transform="matrix(2.104 0 0 2.110 1159.32 477.12)" font-size="10" font-weight="bold" fill="#3E2A2D">T</text>
<text transform="matrix(1.847 0 0 1.202 1159.1 485.39)" font-size="10" font-weight="bold" fill="#3E2A2D">A</text>
<text transform="matrix(1.837 0 0 0.911 1158.81 491.75)" font-size="10" font-weight="bold" fill="#3E2A2D" fill-opacity="0.88">G</text>
<text transform="matrix(2.108 0 0 0.731 1158.15 496.86)" font-size="10" font-weight="bold" fill="#3E2A2D" fill-opacity="0.75">N</text>
<text transform="matrix(1.952 0 0 0.570 1158.25 500.79)" font-size="10" font-weight="bold" fill="#3E2A2D" fill-opacity="0.62">R</text>
<text transform="matrix(2.415 0 0 0.445 1157.94 503.85)" font-size="10" font-weight="bold" fill="#3E2A2D" fill-opacity="0.5">L</text>
<text transform="matrix(2.104 0 0 0.347 1159.32 506.23)" font-size="10" font-weight="bold" fill="#3E2A2D" fill-opacity="0.38">T</text>
<text transform="matrix(2.415 0 0 0.271 1157.94 508.1)" font-size="10" font-weight="bold" fill="#3E2A2D" fill-opacity="0.25">L</text>
<text transform="matrix(1.897 0 0 0.211 1159.43 509.55)" font-size="10" font-weight="bold" fill="#3E2A2D" fill-opacity="0.18">V</text>
<text transform="matrix(1.837 0 0 2.051 1171.3 476.92)" font-size="10" font-weight="bold" fill="#3E2A2D">G</text>
<text transform="matrix(2.069 0 0 1.168 1171.46 485.27)" font-size="10" font-weight="bold" fill="#3E2A2D">S</text>
<text transform="matrix(1.847 0 0 0.937 1171.59 491.83)" font-size="10" font-weight="bold" fill="#3E2A2D" fill-opacity="0.88">A</text>
<text transform="matrix(2.190 0 0 0.731 1170.59 496.86)" font-size="10" font-weight="bold" fill="#3E2A2D" fill-opacity="0.75">P</text>
<text transform="matrix(1.897 0 0 0.570 1171.92 500.79)" font-size="10" font-weight="bold" fill="#3E2A2D" fill-opacity="0.62">V</text>
<text transform="matrix(2.104 0 0 0.445 1171.82 503.85)" font-size="10" font-weight="bold" fill="#3E2A2D" fill-opacity="0.5">T</text>
<text transform="matrix(1.955 0 0 0.347 1171.72 506.23)" font-size="10" font-weight="bold" fill="#3E2A2D" fill-opacity="0.38">Y</text>
<text transform="matrix(1.784 0 0 0.246 1171.32 507.95)" font-size="10" font-weight="bold" fill="#3E2A2D" fill-opacity="0.25">Q</text>
<text transform="matrix(2.443 0 0 0.211 1170.42 509.55)" font-size="10" font-weight="bold" fill="#3E2A2D" fill-opacity="0.18">F</text>
<text transform="matrix(1.837 0 0 2.051 1183.79 476.92)" font-size="10" font-weight="bold" fill="#3E2A2D">G</text>
<text transform="matrix(2.190 0 0 1.202 1183.08 485.39)" font-size="10" font-weight="bold" fill="#3E2A2D">P</text>
<text transform="matrix(2.209 0 0 0.937 1183.07 491.83)" font-size="10" font-weight="bold" fill="#3E2A2D" fill-opacity="0.88">E</text>
<text transform="matrix(1.847 0 0 0.731 1184.09 496.86)" font-size="10" font-weight="bold" fill="#3E2A2D" fill-opacity="0.75">A</text>
<text transform="matrix(1.784 0 0 0.517 1183.82 500.48)" font-size="10" font-weight="bold" fill="#3E2A2D" fill-opacity="0.62">Q</text>
<text transform="matrix(2.069 0 0 0.432 1183.95 503.81)" font-size="10" font-weight="bold" fill="#3E2A2D" fill-opacity="0.5">S</text>
<text transform="matrix(2.108 0 0 0.347 1183.14 506.23)" font-size="10" font-weight="bold" fill="#3E2A2D" fill-opacity="0.38">N</text>
<text transform="matrix(1.955 0 0 0.271 1184.21 508.1)" font-size="10" font-weight="bold" fill="#3E2A2D" fill-opacity="0.25">Y</text>
<text transform="matrix(1.784 0 0 0.192 1183.82 509.43)" font-size="10" font-weight="bold" fill="#3E2A2D" fill-opacity="0.18">Q</text>
<text transform="matrix(2.069 0 0 1.709 1196.44 474.53)" font-size="10" font-weight="bold" fill="#3E2A2D">S</text>
<text transform="matrix(2.104 0 0 1.291 1196.8 483.58)" font-size="10" font-weight="bold" fill="#3E2A2D">T</text>
<text transform="matrix(1.847 0 0 1.007 1196.58 490.51)" font-size="10" font-weight="bold" fill="#3E2A2D" fill-opacity="0.88">A</text>
<text transform="matrix(2.190 0 0 0.786 1195.57 495.92)" font-size="10" font-weight="bold" fill="#3E2A2D" fill-opacity="0.75">P</text>
<text transform="matrix(1.837 0 0 0.595 1196.29 500.08)" font-size="10" font-weight="bold" fill="#3E2A2D" fill-opacity="0.62">G</text>
<text transform="matrix(2.021 0 0 0.478 1195.69 503.42)" font-size="10" font-weight="bold" fill="#3E2A2D" fill-opacity="0.5">D</text>
<text transform="matrix(1.837 0 0 0.362 1196.29 505.95)" font-size="10" font-weight="bold" fill="#3E2A2D" fill-opacity="0.38">G</text>
<text transform="matrix(2.209 0 0 0.291 1195.56 507.99)" font-size="10" font-weight="bold" fill="#3E2A2D" fill-opacity="0.25">E</text>
<text transform="matrix(2.021 0 0 0.227 1195.69 509.55)" font-size="10" font-weight="bold" fill="#3E2A2D" fill-opacity="0.18">D</text>
<text transform="matrix(1.837 0 0 2.051 1208.78 476.92)" font-size="10" font-weight="bold" fill="#3E2A2D">G</text>
<text transform="matrix(2.108 0 0 1.202 1208.12 485.39)" font-size="10" font-weight="bold" fill="#3E2A2D">N</text>
<text transform="matrix(2.021 0 0 0.937 1208.18 491.83)" font-size="10" font-weight="bold" fill="#3E2A2D" fill-opacity="0.88">D</text>
<text transform="matrix(2.209 0 0 0.731 1208.06 496.86)" font-size="10" font-weight="bold" fill="#3E2A2D" fill-opacity="0.75">E</text>
<text transform="matrix(2.104 0 0 0.570 1209.3 500.79)" font-size="10" font-weight="bold" fill="#3E2A2D" fill-opacity="0.62">T</text>
<text transform="matrix(1.955 0 0 0.445 1209.2 503.85)" font-size="10" font-weight="bold" fill="#3E2A2D" fill-opacity="0.5">Y</text>
<text transform="matrix(2.104 0 0 0.347 1209.3 506.23)" font-size="10" font-weight="bold" fill="#3E2A2D" fill-opacity="0.38">T</text>
<text transform="matrix(2.415 0 0 0.271 1207.92 508.1)" font-size="10" font-weight="bold" fill="#3E2A2D" fill-opacity="0.25">L</text>
<text transform="matrix(1.897 0 0 0.211 1209.4 509.55)" font-size="10" font-weight="bold" fill="#3E2A2D" fill-opacity="0.18">V</text>
<text transform="matrix(2.209 0 0 4.010 1220.55 490.19)" font-size="10" font-weight="bold" fill="#3E2A2D">E</text>
<text transform="matrix(2.104 0 0 1.407 1221.79 499.87)" font-size="10" font-weight="bold" fill="#3E2A2D">T</text>
<text transform="matrix(2.021 0 0 0.844 1220.67 505.68)" font-size="10" font-weight="bold" fill="#3E2A2D" fill-opacity="0.8">D</text>
<text transform="matrix(1.847 0 0 0.422 1221.57 508.58)" font-size="10" font-weight="bold" fill="#3E2A2D" fill-opacity="0.5">A</text>
<text transform="matrix(1.784 0 0 3.830 1233.79 489.34)" font-size="10" font-weight="bold" fill="#3E2A2D">Q</text>
<text transform="matrix(2.415 0 0 2.110 1232.9 507.13)" font-size="10" font-weight="bold" fill="#3E2A2D">L</text>
<text transform="matrix(2.443 0 0 3.517 1245.38 486.8)" font-size="10" font-weight="bold" fill="#3E2A2D">F</text>
<text transform="matrix(1.955 0 0 2.955 1246.68 507.13)" font-size="10" font-weight="bold" fill="#3E2A2D">Y</text>
<text transform="matrix(2.415 0 0 0.352 1245.4 509.55)" font-size="10" font-weight="bold" fill="#3E2A2D" fill-opacity="0.5">L</text>
<text transform="matrix(2.443 0 0 6.824 1257.87 509.55)" font-size="10" font-weight="bold" fill="#3E2A2D">F</text>
</g>
<g role="img" aria-label="CASSESGGGNYEQFF">
<text transform="matrix(1.896 0 0 6.921 1083.82 588.32)" font-size="10" font-weight="bold" fill="#5B8C86">C</text>
<text transform="matrix(1.847 0 0 6.481 1096.63 584.59)" font-size="10" font-weight="bold" fill="#5B8C86">A</text>
<text transform="matrix(2.069 0 0 0.484 1096.5 587.97)" font-size="10" font-weight="bold" fill="#5B8C86" fill-opacity="0.7">S</text>
<text transform="matrix(2.069 0 0 6.229 1108.99 583.49)" font-size="10" font-weight="bold" fill="#5B8C86">S</text>
<text transform="matrix(1.847 0 0 0.356 1109.13 586.55)" font-size="10" font-weight="bold" fill="#5B8C86" fill-opacity="0.7">A</text>
<text transform="matrix(1.952 0 0 0.214 1108.28 588.02)" font-size="10" font-weight="bold" fill="#5B8C86" fill-opacity="0.4">R</text>
<text transform="matrix(2.069 0 0 6.367 1121.48 584.46)" font-size="10" font-weight="bold" fill="#5B8C86">S</text>
<text transform="matrix(2.104 0 0 0.356 1121.84 587.53)" font-size="10" font-weight="bold" fill="#5B8C86" fill-opacity="0.5">T</text>
<text transform="matrix(2.209 0 0 1.852 1133.1 552.74)" font-size="10" font-weight="bold" fill="#5B8C86">E</text>
<text transform="matrix(1.837 0 0 1.253 1133.82 561.49)" font-size="10" font-weight="bold" fill="#5B8C86">G</text>
<text transform="matrix(2.021 0 0 1.005 1133.22 568.53)" font-size="10" font-weight="bold" fill="#5B8C86" fill-opacity="0.88">D</text>
<text transform="matrix(2.190 0 0 0.784 1133.11 573.92)" font-size="10" font-weight="bold" fill="#5B8C86" fill-opacity="0.75">P</text>
<text transform="matrix(1.847 0 0 0.612 1134.11 578.13)" font-size="10" font-weight="bold" fill="#5B8C86" fill-opacity="0.62">A</text>
<text transform="matrix(2.069 0 0 0.464 1133.98 581.37)" font-size="10" font-weight="bold" fill="#5B8C86" fill-opacity="0.5">S</text>
<text transform="matrix(2.209 0 0 0.372 1133.1 583.97)" font-size="10" font-weight="bold" fill="#5B8C86" fill-opacity="0.38">E</text>
<text transform="matrix(2.021 0 0 0.290 1133.22 585.97)" font-size="10" font-weight="bold" fill="#5B8C86" fill-opacity="0.25">D</text>
<text transform="matrix(2.108 0 0 0.226 1133.16 587.53)" font-size="10" font-weight="bold" fill="#5B8C86" fill-opacity="0.18">N</text>
<text transform="matrix(2.069 0 0 0.831 1146.47 545.8)" font-size="10" font-weight="bold" fill="#5B8C86">S</text>
<text transform="matrix(1.837 0 0 1.570 1146.31 556.84)" font-size="10" font-weight="bold" fill="#5B8C86">G</text>
<text transform="matrix(2.104 0 0 1.260 1146.83 565.67)" font-size="10" font-weight="bold" fill="#5B8C86" fill-opacity="0.88">T</text>
<text transform="matrix(2.209 0 0 0.983 1145.59 572.43)" font-size="10" font-weight="bold" fill="#5B8C86" fill-opacity="0.75">E</text>
<text transform="matrix(2.190 0 0 0.767 1145.6 577.7)" font-size="10" font-weight="bold" fill="#5B8C86" fill-opacity="0.62">P</text>
<text transform="matrix(1.918 0 0 0.598 1145.78 581.82)" font-size="10" font-weight="bold" fill="#5B8C86" fill-opacity="0.5">K</text>
<text transform="matrix(1.918 0 0 0.466 1145.78 585.03)" font-size="10" font-weight="bold" fill="#5B8C86" fill-opacity="0.38">K</text>
<text transform="matrix(2.108 0 0 0.364 1145.66 587.53)" font-size="10" font-weight="bold" fill="#5B8C86" fill-opacity="0.25">H</text>
<text transform="matrix(1.837 0 0 1.661 1158.81 551.6)" font-size="10" font-weight="bold" fill="#5B8C86">G</text>
<text transform="matrix(1.952 0 0 1.325 1158.25 560.88)" font-size="10" font-weight="bold" fill="#5B8C86">R</text>
<text transform="matrix(1.908 0 0 1.034 1159.39 567.99)" font-size="10" font-weight="bold" fill="#5B8C86" fill-opacity="0.88">X</text>
<text transform="matrix(1.847 0 0 0.806 1159.1 573.54)" font-size="10" font-weight="bold" fill="#5B8C86" fill-opacity="0.75">A</text>
<text transform="matrix(1.896 0 0 0.611 1158.78 577.81)" font-size="10" font-weight="bold" fill="#5B8C86" fill-opacity="0.62">C</text>
<text transform="matrix(2.190 0 0 0.491 1158.09 581.24)" font-size="10" font-weight="bold" fill="#5B8C86" fill-opacity="0.5">P</text>
<text transform="matrix(1.837 0 0 0.372 1158.81 583.84)" font-size="10" font-weight="bold" fill="#5B8C86" fill-opacity="0.38">G</text>
<text transform="matrix(2.209 0 0 0.298 1158.08 585.93)" font-size="10" font-weight="bold" fill="#5B8C86" fill-opacity="0.25">E</text>
<text transform="matrix(2.021 0 0 0.233 1158.21 587.53)" font-size="10" font-weight="bold" fill="#5B8C86" fill-opacity="0.18">D</text>
<text transform="matrix(1.837 0 0 1.661 1171.3 551.6)" font-size="10" font-weight="bold" fill="#5B8C86">G</text>
<text transform="matrix(1.847 0 0 1.325 1171.59 560.88)" font-size="10" font-weight="bold" fill="#5B8C86">A</text>
<text transform="matrix(2.209 0 0 1.034 1170.58 567.99)" font-size="10" font-weight="bold" fill="#5B8C86" fill-opacity="0.88">E</text>
<text transform="matrix(2.021 0 0 0.806 1170.7 573.54)" font-size="10" font-weight="bold" fill="#5B8C86" fill-opacity="0.75">D</text>
<text transform="matrix(2.190 0 0 0.629 1170.59 577.87)" font-size="10" font-weight="bold" fill="#5B8C86" fill-opacity="0.62">P</text>
<text transform="matrix(1.952 0 0 0.491 1170.75 581.24)" font-size="10" font-weight="bold" fill="#5B8C86" fill-opacity="0.5">R</text>
<text transform="matrix(2.021 0 0 0.383 1170.7 583.87)" font-size="10" font-weight="bold" fill="#5B8C86" fill-opacity="0.38">D</text>
<text transform="matrix(2.108 0 0 0.298 1170.64 585.93)" font-size="10" font-weight="bold" fill="#5B8C86" fill-opacity="0.25">N</text>
<text transform="matrix(1.955 0 0 0.233 1171.72 587.53)" font-size="10" font-weight="bold" fill="#5B8C86" fill-opacity="0.18">Y</text>
<text transform="matrix(1.837 0 0 1.661 1183.79 551.6)" font-size="10" font-weight="bold" fill="#5B8C86">G</text>
<text transform="matrix(2.104 0 0 1.325 1184.31 560.88)" font-size="10" font-weight="bold" fill="#5B8C86">T</text>
<text transform="matrix(2.415 0 0 1.034 1182.93 567.99)" font-size="10" font-weight="bold" fill="#5B8C86" fill-opacity="0.88">L</text>
<text transform="matrix(1.784 0 0 0.732 1183.82 573.1)" font-size="10" font-weight="bold" fill="#5B8C86" fill-opacity="0.75">Q</text>
<text transform="matrix(2.069 0 0 0.611 1183.95 577.81)" font-size="10" font-weight="bold" fill="#5B8C86" fill-opacity="0.62">S</text>
<text transform="matrix(1.955 0 0 0.491 1184.21 581.24)" font-size="10" font-weight="bold" fill="#5B8C86" fill-opacity="0.5">Y</text>
<text transform="matrix(2.104 0 0 0.383 1184.31 583.87)" font-size="10" font-weight="bold" fill="#5B8C86" fill-opacity="0.38">T</text>
<text transform="matrix(2.415 0 0 0.298 1182.93 585.93)" font-size="10" font-weight="bold" fill="#5B8C86" fill-opacity="0.25">L</text>
<text transform="matrix(1.897 0 0 0.233 1184.42 587.53)" font-size="10" font-weight="bold" fill="#5B8C86" fill-opacity="0.18">V</text>
<text transform="matrix(2.108 0 0 1.140 1195.63 547.84)" font-size="10" font-weight="bold" fill="#5B8C86">N</text>
<text transform="matrix(1.847 0 0 1.471 1196.58 557.96)" font-size="10" font-weight="bold" fill="#5B8C86">A</text>
<text transform="matrix(2.190 0 0 1.147 1195.57 565.85)" font-size="10" font-weight="bold" fill="#5B8C86" fill-opacity="0.88">P</text>
<text transform="matrix(2.443 0 0 0.895 1195.41 572.01)" font-size="10" font-weight="bold" fill="#5B8C86" fill-opacity="0.75">F</text>
<text transform="matrix(1.897 0 0 0.698 1196.91 576.81)" font-size="10" font-weight="bold" fill="#5B8C86" fill-opacity="0.62">V</text>
<text transform="matrix(2.104 0 0 0.544 1196.8 580.55)" font-size="10" font-weight="bold" fill="#5B8C86" fill-opacity="0.5">T</text>
<text transform="matrix(1.897 0 0 0.425 1196.91 583.47)" font-size="10" font-weight="bold" fill="#5B8C86" fill-opacity="0.38">V</text>
<text transform="matrix(1.952 0 0 0.331 1195.73 585.75)" font-size="10" font-weight="bold" fill="#5B8C86" fill-opacity="0.25">R</text>
<text transform="matrix(1.847 0 0 0.258 1196.58 587.53)" font-size="10" font-weight="bold" fill="#5B8C86" fill-opacity="0.18">A</text>
<text transform="matrix(1.955 0 0 1.140 1209.2 547.84)" font-size="10" font-weight="bold" fill="#5B8C86">Y</text>
<text transform="matrix(2.108 0 0 1.540 1208.12 558.43)" font-size="10" font-weight="bold" fill="#5B8C86">N</text>
<text transform="matrix(2.104 0 0 1.201 1209.3 566.69)" font-size="10" font-weight="bold" fill="#5B8C86" fill-opacity="0.88">T</text>
<text transform="matrix(2.021 0 0 0.937 1208.18 573.14)" font-size="10" font-weight="bold" fill="#5B8C86" fill-opacity="0.75">D</text>
<text transform="matrix(2.415 0 0 0.731 1207.92 578.17)" font-size="10" font-weight="bold" fill="#5B8C86" fill-opacity="0.62">L</text>
<text transform="matrix(2.209 0 0 0.570 1208.06 582.09)" font-size="10" font-weight="bold" fill="#5B8C86" fill-opacity="0.5">E</text>
<text transform="matrix(1.918 0 0 0.445 1208.25 585.14)" font-size="10" font-weight="bold" fill="#5B8C86" fill-opacity="0.38">K</text>
<text transform="matrix(2.108 0 0 0.347 1208.12 587.53)" font-size="10" font-weight="bold" fill="#5B8C86" fill-opacity="0.25">H</text>
<text transform="matrix(2.209 0 0 4.060 1220.55 567.93)" font-size="10" font-weight="bold" fill="#5B8C86">E</text>
<text transform="matrix(2.104 0 0 1.424 1221.79 577.73)" font-size="10" font-weight="bold" fill="#5B8C86">T</text>
<text transform="matrix(2.021 0 0 0.855 1220.67 583.61)" font-size="10" font-weight="bold" fill="#5B8C86" fill-opacity="0.8">D</text>
<text transform="matrix(1.847 0 0 0.427 1221.57 586.55)" font-size="10" font-weight="bold" fill="#5B8C86" fill-opacity="0.5">A</text>
<text transform="matrix(1.784 0 0 4.007 1233.79 567.98)" font-size="10" font-weight="bold" fill="#5B8C86">Q</text>
<text transform="matrix(2.415 0 0 1.567 1232.9 582.14)" font-size="10" font-weight="bold" fill="#5B8C86">L</text>
<text transform="matrix(1.847 0 0 0.570 1234.06 586.06)" font-size="10" font-weight="bold" fill="#5B8C86" fill-opacity="0.6">A</text>
<text transform="matrix(2.443 0 0 3.347 1245.38 563.03)" font-size="10" font-weight="bold" fill="#5B8C86">F</text>
<text transform="matrix(1.955 0 0 2.706 1246.68 581.65)" font-size="10" font-weight="bold" fill="#5B8C86">Y</text>
<text transform="matrix(2.108 0 0 0.712 1245.6 586.55)" font-size="10" font-weight="bold" fill="#5B8C86" fill-opacity="0.7">H</text>
<text transform="matrix(2.443 0 0 6.908 1257.87 587.53)" font-size="10" font-weight="bold" fill="#5B8C86">F</text>
</g>
<g role="img" aria-label="CASSEGGGGNNEQFF">
<text transform="matrix(1.896 0 0 6.893 1083.82 665.92)" font-size="10" font-weight="bold" fill="#B0393D">C</text>
<text transform="matrix(1.847 0 0 6.455 1096.63 662.21)" font-size="10" font-weight="bold" fill="#B0393D">A</text>
<text transform="matrix(2.069 0 0 0.482 1096.5 665.58)" font-size="10" font-weight="bold" fill="#B0393D" fill-opacity="0.7">S</text>
<text transform="matrix(2.069 0 0 6.203 1108.99 661.11)" font-size="10" font-weight="bold" fill="#B0393D">S</text>
<text transform="matrix(1.847 0 0 0.355 1109.13 664.16)" font-size="10" font-weight="bold" fill="#B0393D" fill-opacity="0.7">A</text>
<text transform="matrix(1.952 0 0 0.213 1108.28 665.62)" font-size="10" font-weight="bold" fill="#B0393D" fill-opacity="0.4">R</text>
<text transform="matrix(2.069 0 0 6.341 1121.48 662.07)" font-size="10" font-weight="bold" fill="#B0393D">S</text>
<text transform="matrix(2.104 0 0 0.355 1121.84 665.14)" font-size="10" font-weight="bold" fill="#B0393D" fill-opacity="0.5">T</text>
<text transform="matrix(2.209 0 0 1.206 1133.1 626.1)" font-size="10" font-weight="bold" fill="#B0393D">E</text>
<text transform="matrix(1.837 0 0 1.406 1133.82 635.91)" font-size="10" font-weight="bold" fill="#B0393D">G</text>
<text transform="matrix(2.190 0 0 1.128 1133.11 643.81)" font-size="10" font-weight="bold" fill="#B0393D" fill-opacity="0.88">P</text>
<text transform="matrix(2.021 0 0 0.880 1133.22 649.87)" font-size="10" font-weight="bold" fill="#B0393D" fill-opacity="0.75">D</text>
<text transform="matrix(1.897 0 0 0.686 1134.44 654.59)" font-size="10" font-weight="bold" fill="#B0393D" fill-opacity="0.62">V</text>
<text transform="matrix(2.415 0 0 0.535 1132.96 658.27)" font-size="10" font-weight="bold" fill="#B0393D" fill-opacity="0.5">L</text>
<text transform="matrix(2.415 0 0 0.418 1132.96 661.15)" font-size="10" font-weight="bold" fill="#B0393D" fill-opacity="0.38">L</text>
<text transform="matrix(1.897 0 0 0.326 1134.44 663.39)" font-size="10" font-weight="bold" fill="#B0393D" fill-opacity="0.25">V</text>
<text transform="matrix(1.952 0 0 0.254 1133.27 665.14)" font-size="10" font-weight="bold" fill="#B0393D" fill-opacity="0.18">R</text>
<text transform="matrix(1.837 0 0 1.241 1146.31 626.46)" font-size="10" font-weight="bold" fill="#B0393D">G</text>
<text transform="matrix(2.104 0 0 1.428 1146.83 636.41)" font-size="10" font-weight="bold" fill="#B0393D">T</text>
<text transform="matrix(1.952 0 0 1.114 1145.76 644.08)" font-size="10" font-weight="bold" fill="#B0393D" fill-opacity="0.88">R</text>
<text transform="matrix(2.209 0 0 0.869 1145.59 650.06)" font-size="10" font-weight="bold" fill="#B0393D" fill-opacity="0.75">E</text>
<text transform="matrix(2.069 0 0 0.659 1146.47 654.66)" font-size="10" font-weight="bold" fill="#B0393D" fill-opacity="0.62">S</text>
<text transform="matrix(1.955 0 0 0.529 1146.73 658.36)" font-size="10" font-weight="bold" fill="#B0393D" fill-opacity="0.5">Y</text>
<text transform="matrix(2.104 0 0 0.412 1146.83 661.2)" font-size="10" font-weight="bold" fill="#B0393D" fill-opacity="0.38">T</text>
<text transform="matrix(2.415 0 0 0.322 1145.45 663.41)" font-size="10" font-weight="bold" fill="#B0393D" fill-opacity="0.25">L</text>
<text transform="matrix(1.897 0 0 0.251 1146.94 665.14)" font-size="10" font-weight="bold" fill="#B0393D" fill-opacity="0.18">V</text>
<text transform="matrix(1.837 0 0 1.241 1158.81 626.46)" font-size="10" font-weight="bold" fill="#B0393D">G</text>
<text transform="matrix(2.104 0 0 1.428 1159.32 636.41)" font-size="10" font-weight="bold" fill="#B0393D">T</text>
<text transform="matrix(1.784 0 0 1.011 1158.83 643.47)" font-size="10" font-weight="bold" fill="#B0393D" fill-opacity="0.88">Q</text>
<text transform="matrix(2.190 0 0 0.869 1158.09 650.06)" font-size="10" font-weight="bold" fill="#B0393D" fill-opacity="0.75">P</text>
<text transform="matrix(1.847 0 0 0.678 1159.1 654.72)" font-size="10" font-weight="bold" fill="#B0393D" fill-opacity="0.62">A</text>
<text transform="matrix(2.069 0 0 0.514 1158.96 658.31)" font-size="10" font-weight="bold" fill="#B0393D" fill-opacity="0.5">S</text>
<text transform="matrix(2.108 0 0 0.412 1158.15 661.2)" font-size="10" font-weight="bold" fill="#B0393D" fill-opacity="0.38">N</text>
<text transform="matrix(1.955 0 0 0.322 1159.23 663.41)" font-size="10" font-weight="bold" fill="#B0393D" fill-opacity="0.25">Y</text>
<text transform="matrix(1.784 0 0 0.228 1158.83 665)" font-size="10" font-weight="bold" fill="#B0393D" fill-opacity="0.18">Q</text>
<text transform="matrix(1.837 0 0 1.241 1171.3 626.46)" font-size="10" font-weight="bold" fill="#B0393D">G</text>
<text transform="matrix(1.773 0 0 1.428 1170.87 636.41)" font-size="10" font-weight="bold" fill="#B0393D">M</text>
<text transform="matrix(1.837 0 0 1.083 1171.3 643.97)" font-size="10" font-weight="bold" fill="#B0393D" fill-opacity="0.88">G</text>
<text transform="matrix(1.955 0 0 0.869 1171.72 650.06)" font-size="10" font-weight="bold" fill="#B0393D" fill-opacity="0.75">Y</text>
<text transform="matrix(2.415 0 0 0.678 1170.44 654.72)" font-size="10" font-weight="bold" fill="#B0393D" fill-opacity="0.62">L</text>
<text transform="matrix(2.190 0 0 0.529 1170.59 658.36)" font-size="10" font-weight="bold" fill="#B0393D" fill-opacity="0.5">P</text>
<text transform="matrix(1.837 0 0 0.401 1171.3 661.16)" font-size="10" font-weight="bold" fill="#B0393D" fill-opacity="0.38">G</text>
<text transform="matrix(2.209 0 0 0.322 1170.58 663.41)" font-size="10" font-weight="bold" fill="#B0393D" fill-opacity="0.25">E</text>
<text transform="matrix(2.021 0 0 0.251 1170.7 665.14)" font-size="10" font-weight="bold" fill="#B0393D" fill-opacity="0.18">D</text>
<text transform="matrix(1.837 0 0 1.241 1183.79 626.46)" font-size="10" font-weight="bold" fill="#B0393D">G</text>
<text transform="matrix(2.069 0 0 1.388 1183.95 636.28)" font-size="10" font-weight="bold" fill="#B0393D">S</text>
<text transform="matrix(1.847 0 0 1.114 1184.09 644.08)" font-size="10" font-weight="bold" fill="#B0393D" fill-opacity="0.88">A</text>
<text transform="matrix(2.443 0 0 0.869 1182.91 650.06)" font-size="10" font-weight="bold" fill="#B0393D" fill-opacity="0.75">F</text>
<text transform="matrix(2.190 0 0 0.678 1183.08 654.72)" font-size="10" font-weight="bold" fill="#B0393D" fill-opacity="0.62">P</text>
<text transform="matrix(2.104 0 0 0.529 1184.31 658.36)" font-size="10" font-weight="bold" fill="#B0393D" fill-opacity="0.5">T</text>
<text transform="matrix(1.955 0 0 0.412 1184.21 661.2)" font-size="10" font-weight="bold" fill="#B0393D" fill-opacity="0.38">Y</text>
<text transform="matrix(1.784 0 0 0.292 1183.82 663.23)" font-size="10" font-weight="bold" fill="#B0393D" fill-opacity="0.25">Q</text>
<text transform="matrix(2.443 0 0 0.251 1182.91 665.14)" font-size="10" font-weight="bold" fill="#B0393D" fill-opacity="0.18">F</text>
<text transform="matrix(2.108 0 0 0.922 1195.63 624.14)" font-size="10" font-weight="bold" fill="#B0393D">N</text>
<text transform="matrix(1.837 0 0 1.476 1196.29 634.45)" font-size="10" font-weight="bold" fill="#B0393D">G</text>
<text transform="matrix(1.955 0 0 1.185 1196.71 642.75)" font-size="10" font-weight="bold" fill="#B0393D" fill-opacity="0.88">Y</text>
<text transform="matrix(2.021 0 0 0.924 1195.69 649.1)" font-size="10" font-weight="bold" fill="#B0393D" fill-opacity="0.75">D</text>
<text transform="matrix(2.108 0 0 0.721 1195.63 654.06)" font-size="10" font-weight="bold" fill="#B0393D" fill-opacity="0.62">H</text>
<text transform="matrix(2.209 0 0 0.562 1195.56 657.93)" font-size="10" font-weight="bold" fill="#B0393D" fill-opacity="0.5">E</text>
<text transform="matrix(1.952 0 0 0.439 1195.73 660.95)" font-size="10" font-weight="bold" fill="#B0393D" fill-opacity="0.38">R</text>
<text transform="matrix(1.847 0 0 0.342 1196.58 663.3)" font-size="10" font-weight="bold" fill="#B0393D" fill-opacity="0.25">A</text>
<text transform="matrix(2.190 0 0 0.267 1195.57 665.14)" font-size="10" font-weight="bold" fill="#B0393D" fill-opacity="0.18">P</text>
<text transform="matrix(2.108 0 0 1.206 1208.12 626.1)" font-size="10" font-weight="bold" fill="#B0393D">N</text>
<text transform="matrix(2.209 0 0 1.447 1208.06 636.05)" font-size="10" font-weight="bold" fill="#B0393D">E</text>
<text transform="matrix(2.069 0 0 1.096 1208.94 643.7)" font-size="10" font-weight="bold" fill="#B0393D" fill-opacity="0.88">S</text>
<text transform="matrix(2.104 0 0 0.880 1209.3 649.87)" font-size="10" font-weight="bold" fill="#B0393D" fill-opacity="0.75">T</text>
<text transform="matrix(1.784 0 0 0.623 1208.8 654.22)" font-size="10" font-weight="bold" fill="#B0393D" fill-opacity="0.62">Q</text>
<text transform="matrix(2.415 0 0 0.535 1207.92 658.27)" font-size="10" font-weight="bold" fill="#B0393D" fill-opacity="0.5">L</text>
<text transform="matrix(2.108 0 0 0.418 1208.12 661.15)" font-size="10" font-weight="bold" fill="#B0393D" fill-opacity="0.38">N</text>
<text transform="matrix(1.955 0 0 0.326 1209.2 663.39)" font-size="10" font-weight="bold" fill="#B0393D" fill-opacity="0.25">Y</text>
<text transform="matrix(1.784 0 0 0.231 1208.8 665)" font-size="10" font-weight="bold" fill="#B0393D" fill-opacity="0.18">Q</text>
<text transform="matrix(2.209 0 0 4.043 1220.55 645.62)" font-size="10" font-weight="bold" fill="#B0393D">E</text>
<text transform="matrix(2.104 0 0 1.419 1221.79 655.38)" font-size="10" font-weight="bold" fill="#B0393D">T</text>
<text transform="matrix(2.021 0 0 0.851 1220.67 661.23)" font-size="10" font-weight="bold" fill="#B0393D" fill-opacity="0.8">D</text>
<text transform="matrix(1.847 0 0 0.426 1221.57 664.16)" font-size="10" font-weight="bold" fill="#B0393D" fill-opacity="0.5">A</text>
<text transform="matrix(1.784 0 0 4.119 1233.79 646.56)" font-size="10" font-weight="bold" fill="#B0393D">Q</text>
<text transform="matrix(2.415 0 0 1.419 1232.9 659.77)" font-size="10" font-weight="bold" fill="#B0393D">L</text>
<text transform="matrix(1.847 0 0 0.567 1234.06 663.67)" font-size="10" font-weight="bold" fill="#B0393D" fill-opacity="0.6">A</text>
<text transform="matrix(2.443 0 0 3.334 1245.38 640.74)" font-size="10" font-weight="bold" fill="#B0393D">F</text>
<text transform="matrix(1.955 0 0 2.695 1246.68 659.28)" font-size="10" font-weight="bold" fill="#B0393D">Y</text>
<text transform="matrix(2.108 0 0 0.709 1245.6 664.16)" font-size="10" font-weight="bold" fill="#B0393D" fill-opacity="0.7">H</text>
<text transform="matrix(2.443 0 0 6.880 1257.87 665.14)" font-size="10" font-weight="bold" fill="#B0393D">F</text>
</g>
<g role="img" aria-label="CASSESGGSGNEQYF">
<text transform="matrix(1.896 0 0 6.921 1083.82 743.32)" font-size="10" font-weight="bold" fill="#ECA263">C</text>
<text transform="matrix(1.847 0 0 6.481 1096.63 739.59)" font-size="10" font-weight="bold" fill="#ECA263">A</text>
<text transform="matrix(2.069 0 0 0.484 1096.5 742.97)" font-size="10" font-weight="bold" fill="#ECA263" fill-opacity="0.7">S</text>
<text transform="matrix(2.069 0 0 6.229 1108.99 738.49)" font-size="10" font-weight="bold" fill="#ECA263">S</text>
<text transform="matrix(1.847 0 0 0.356 1109.13 741.55)" font-size="10" font-weight="bold" fill="#ECA263" fill-opacity="0.7">A</text>
<text transform="matrix(1.952 0 0 0.214 1108.28 743.02)" font-size="10" font-weight="bold" fill="#ECA263" fill-opacity="0.4">R</text>
<text transform="matrix(2.069 0 0 6.367 1121.48 739.46)" font-size="10" font-weight="bold" fill="#ECA263">S</text>
<text transform="matrix(2.104 0 0 0.356 1121.84 742.53)" font-size="10" font-weight="bold" fill="#ECA263" fill-opacity="0.5">T</text>
<text transform="matrix(2.209 0 0 1.211 1133.1 703.33)" font-size="10" font-weight="bold" fill="#ECA263">E</text>
<text transform="matrix(2.021 0 0 1.452 1133.22 713.32)" font-size="10" font-weight="bold" fill="#ECA263">D</text>
<text transform="matrix(1.784 0 0 1.028 1133.84 720.5)" font-size="10" font-weight="bold" fill="#ECA263" fill-opacity="0.88">Q</text>
<text transform="matrix(1.837 0 0 0.859 1133.82 727.11)" font-size="10" font-weight="bold" fill="#ECA263" fill-opacity="0.75">G</text>
<text transform="matrix(2.190 0 0 0.689 1133.11 731.94)" font-size="10" font-weight="bold" fill="#ECA263" fill-opacity="0.62">P</text>
<text transform="matrix(1.897 0 0 0.538 1134.44 735.64)" font-size="10" font-weight="bold" fill="#ECA263" fill-opacity="0.5">V</text>
<text transform="matrix(1.955 0 0 0.419 1134.24 738.52)" font-size="10" font-weight="bold" fill="#ECA263" fill-opacity="0.38">Y</text>
<text transform="matrix(1.784 0 0 0.297 1133.84 740.6)" font-size="10" font-weight="bold" fill="#ECA263" fill-opacity="0.25">Q</text>
<text transform="matrix(2.443 0 0 0.255 1132.94 742.53)" font-size="10" font-weight="bold" fill="#ECA263" fill-opacity="0.18">F</text>
<text transform="matrix(2.069 0 0 1.038 1146.47 702.25)" font-size="10" font-weight="bold" fill="#ECA263">S</text>
<text transform="matrix(1.837 0 0 1.515 1146.31 712.92)" font-size="10" font-weight="bold" fill="#ECA263">G</text>
<text transform="matrix(2.104 0 0 1.216 1146.83 721.44)" font-size="10" font-weight="bold" fill="#ECA263" fill-opacity="0.88">T</text>
<text transform="matrix(2.415 0 0 0.948 1145.45 727.96)" font-size="10" font-weight="bold" fill="#ECA263" fill-opacity="0.75">L</text>
<text transform="matrix(1.847 0 0 0.740 1146.61 733.05)" font-size="10" font-weight="bold" fill="#ECA263" fill-opacity="0.62">A</text>
<text transform="matrix(1.918 0 0 0.577 1145.78 737.02)" font-size="10" font-weight="bold" fill="#ECA263" fill-opacity="0.5">K</text>
<text transform="matrix(1.918 0 0 0.450 1145.78 740.12)" font-size="10" font-weight="bold" fill="#ECA263" fill-opacity="0.38">K</text>
<text transform="matrix(2.108 0 0 0.351 1145.66 742.53)" font-size="10" font-weight="bold" fill="#ECA263" fill-opacity="0.25">H</text>
<text transform="matrix(1.837 0 0 1.384 1158.81 704.66)" font-size="10" font-weight="bold" fill="#ECA263">G</text>
<text transform="matrix(1.952 0 0 1.398 1158.25 714.42)" font-size="10" font-weight="bold" fill="#ECA263">R</text>
<text transform="matrix(2.190 0 0 1.090 1158.09 721.92)" font-size="10" font-weight="bold" fill="#ECA263" fill-opacity="0.88">P</text>
<text transform="matrix(1.896 0 0 0.827 1158.78 727.69)" font-size="10" font-weight="bold" fill="#ECA263" fill-opacity="0.75">C</text>
<text transform="matrix(1.955 0 0 0.663 1159.23 732.34)" font-size="10" font-weight="bold" fill="#ECA263" fill-opacity="0.62">Y</text>
<text transform="matrix(2.429 0 0 0.517 1162.23 735.9)" font-size="10" font-weight="bold" fill="#ECA263" fill-opacity="0.5">I</text>
<text transform="matrix(2.104 0 0 0.404 1159.32 738.67)" font-size="10" font-weight="bold" fill="#ECA263" fill-opacity="0.38">T</text>
<text transform="matrix(2.415 0 0 0.315 1157.94 740.84)" font-size="10" font-weight="bold" fill="#ECA263" fill-opacity="0.25">L</text>
<text transform="matrix(1.897 0 0 0.246 1159.43 742.53)" font-size="10" font-weight="bold" fill="#ECA263" fill-opacity="0.18">V</text>
<text transform="matrix(1.837 0 0 1.384 1171.3 704.66)" font-size="10" font-weight="bold" fill="#ECA263">G</text>
<text transform="matrix(2.069 0 0 1.359 1171.46 714.29)" font-size="10" font-weight="bold" fill="#ECA263">S</text>
<text transform="matrix(1.847 0 0 1.090 1171.59 721.92)" font-size="10" font-weight="bold" fill="#ECA263" fill-opacity="0.88">A</text>
<text transform="matrix(1.908 0 0 0.851 1171.89 727.77)" font-size="10" font-weight="bold" fill="#ECA263" fill-opacity="0.75">X</text>
<text transform="matrix(2.108 0 0 0.663 1170.64 732.34)" font-size="10" font-weight="bold" fill="#ECA263" fill-opacity="0.62">N</text>
<text transform="matrix(2.209 0 0 0.517 1170.58 735.9)" font-size="10" font-weight="bold" fill="#ECA263" fill-opacity="0.5">E</text>
<text transform="matrix(1.784 0 0 0.366 1171.32 738.45)" font-size="10" font-weight="bold" fill="#ECA263" fill-opacity="0.38">Q</text>
<text transform="matrix(2.443 0 0 0.315 1170.42 740.84)" font-size="10" font-weight="bold" fill="#ECA263" fill-opacity="0.25">F</text>
<text transform="matrix(1.918 0 0 0.246 1170.77 742.53)" font-size="10" font-weight="bold" fill="#ECA263" fill-opacity="0.18">K</text>
<text transform="matrix(2.069 0 0 1.246 1183.95 703.7)" font-size="10" font-weight="bold" fill="#ECA263">S</text>
<text transform="matrix(1.837 0 0 1.394 1183.79 713.55)" font-size="10" font-weight="bold" fill="#ECA263">G</text>
<text transform="matrix(2.443 0 0 1.119 1182.91 721.39)" font-size="10" font-weight="bold" fill="#ECA263" fill-opacity="0.88">F</text>
<text transform="matrix(1.952 0 0 0.873 1183.24 727.39)" font-size="10" font-weight="bold" fill="#ECA263" fill-opacity="0.75">R</text>
<text transform="matrix(2.415 0 0 0.681 1182.93 732.07)" font-size="10" font-weight="bold" fill="#ECA263" fill-opacity="0.62">L</text>
<text transform="matrix(2.104 0 0 0.531 1184.31 735.73)" font-size="10" font-weight="bold" fill="#ECA263" fill-opacity="0.5">T</text>
<text transform="matrix(1.837 0 0 0.402 1183.79 738.53)" font-size="10" font-weight="bold" fill="#ECA263" fill-opacity="0.38">G</text>
<text transform="matrix(2.209 0 0 0.323 1183.07 740.8)" font-size="10" font-weight="bold" fill="#ECA263" fill-opacity="0.25">E</text>
<text transform="matrix(2.021 0 0 0.252 1183.19 742.53)" font-size="10" font-weight="bold" fill="#ECA263" fill-opacity="0.18">D</text>
<text transform="matrix(1.837 0 0 0.900 1196.29 701.28)" font-size="10" font-weight="bold" fill="#ECA263">G</text>
<text transform="matrix(2.108 0 0 1.525 1195.63 711.86)" font-size="10" font-weight="bold" fill="#ECA263">N</text>
<text transform="matrix(1.897 0 0 1.190 1196.91 720.05)" font-size="10" font-weight="bold" fill="#ECA263" fill-opacity="0.88">V</text>
<text transform="matrix(2.190 0 0 0.928 1195.57 726.43)" font-size="10" font-weight="bold" fill="#ECA263" fill-opacity="0.75">P</text>
<text transform="matrix(1.955 0 0 0.724 1196.71 731.41)" font-size="10" font-weight="bold" fill="#ECA263" fill-opacity="0.62">Y</text>
<text transform="matrix(2.021 0 0 0.565 1195.69 735.29)" font-size="10" font-weight="bold" fill="#ECA263" fill-opacity="0.5">D</text>
<text transform="matrix(1.955 0 0 0.440 1196.71 738.32)" font-size="10" font-weight="bold" fill="#ECA263" fill-opacity="0.38">Y</text>
<text transform="matrix(1.784 0 0 0.312 1196.31 740.5)" font-size="10" font-weight="bold" fill="#ECA263" fill-opacity="0.25">Q</text>
<text transform="matrix(2.443 0 0 0.268 1195.41 742.53)" font-size="10" font-weight="bold" fill="#ECA263" fill-opacity="0.18">F</text>
<text transform="matrix(2.108 0 0 1.211 1208.12 703.33)" font-size="10" font-weight="bold" fill="#ECA263">N</text>
<text transform="matrix(2.104 0 0 1.452 1209.3 713.32)" font-size="10" font-weight="bold" fill="#ECA263">T</text>
<text transform="matrix(2.021 0 0 1.133 1208.18 721.12)" font-size="10" font-weight="bold" fill="#ECA263" fill-opacity="0.88">D</text>
<text transform="matrix(1.847 0 0 0.884 1209.07 727.2)" font-size="10" font-weight="bold" fill="#ECA263" fill-opacity="0.75">A</text>
<text transform="matrix(2.209 0 0 0.689 1208.06 731.94)" font-size="10" font-weight="bold" fill="#ECA263" fill-opacity="0.62">E</text>
<text transform="matrix(2.415 0 0 0.538 1207.92 735.64)" font-size="10" font-weight="bold" fill="#ECA263" fill-opacity="0.5">L</text>
<text transform="matrix(2.108 0 0 0.419 1208.12 738.52)" font-size="10" font-weight="bold" fill="#ECA263" fill-opacity="0.38">N</text>
<text transform="matrix(1.955 0 0 0.327 1209.2 740.77)" font-size="10" font-weight="bold" fill="#ECA263" fill-opacity="0.25">Y</text>
<text transform="matrix(1.784 0 0 0.232 1208.8 742.39)" font-size="10" font-weight="bold" fill="#ECA263" fill-opacity="0.18">Q</text>
<text transform="matrix(2.209 0 0 3.917 1220.55 721.95)" font-size="10" font-weight="bold" fill="#ECA263">E</text>
<text transform="matrix(2.104 0 0 1.567 1221.79 732.73)" font-size="10" font-weight="bold" fill="#ECA263">T</text>
<text transform="matrix(2.021 0 0 0.855 1220.67 738.61)" font-size="10" font-weight="bold" fill="#ECA263" fill-opacity="0.8">D</text>
<text transform="matrix(1.847 0 0 0.427 1221.57 741.55)" font-size="10" font-weight="bold" fill="#ECA263" fill-opacity="0.5">A</text>
<text transform="matrix(1.784 0 0 4.653 1233.79 727.49)" font-size="10" font-weight="bold" fill="#ECA263">Q</text>
<text transform="matrix(1.897 0 0 0.712 1234.39 736.16)" font-size="10" font-weight="bold" fill="#ECA263" fill-opacity="0.8">V</text>
<text transform="matrix(2.415 0 0 0.570 1232.9 740.08)" font-size="10" font-weight="bold" fill="#ECA263" fill-opacity="0.5">L</text>
<text transform="matrix(1.955 0 0 3.917 1246.68 721.95)" font-size="10" font-weight="bold" fill="#ECA263">Y</text>
<text transform="matrix(2.443 0 0 2.493 1245.38 739.1)" font-size="10" font-weight="bold" fill="#ECA263">F</text>
<text transform="matrix(2.415 0 0 0.427 1245.4 742.04)" font-size="10" font-weight="bold" fill="#ECA263" fill-opacity="0.5">L</text>
<text transform="matrix(2.443 0 0 6.908 1257.87 742.53)" font-size="10" font-weight="bold" fill="#ECA263">F</text>
</g>
<text x="1313" y="30" font-size="37" font-weight="bold">b</text>
<line x1="1356.8" y1="76" x2="1356.8" y2="170.1" stroke="#000" stroke-width="1.7"/>
<path d="M1356.8 68 L1350.6 81 L1363 81 Z" fill="#000"/>
<line x1="1356" y1="169.3" x2="1900" y2="171.2" stroke="#000" stroke-width="1.7"/>
<path d="M1910 171.2 L1896.5 164.6 L1896.5 177.8 Z" fill="#000"/>
<text x="1918" y="178" font-size="18.2">TRAV</text>
<text transform="translate(1346.5 113.5) rotate(-90)" font-size="18.6" text-anchor="middle">Age</text>
<rect x="1626.9" y="82.2" width="12.9" height="82.2" fill="#E09B46"/>
<line x1="1626.9" y1="102.75" x2="1639.8" y2="102.75" stroke="#fff" stroke-width="1.5" stroke-opacity="0.5"/>
<line x1="1626.9" y1="123.3" x2="1639.8" y2="123.3" stroke="#fff" stroke-width="1.5" stroke-opacity="0.5"/>
<line x1="1626.9" y1="143.85" x2="1639.8" y2="143.85" stroke="#fff" stroke-width="1.5" stroke-opacity="0.5"/>
<text transform="translate(1636.7 176.7) rotate(-90)" font-size="9.8" text-anchor="end">1-2</text>
<line x1="1356.8" y1="191.7" x2="1356.8" y2="284.1" stroke="#000" stroke-width="1.7"/>
<path d="M1356.8 183.7 L1350.6 196.7 L1363 196.7 Z" fill="#000"/>
<line x1="1356" y1="283.3" x2="1900" y2="287" stroke="#000" stroke-width="1.7"/>
<path d="M1910 287 L1896.5 280.4 L1896.5 293.6 Z" fill="#000"/>
<text x="1918" y="293.5" font-size="18.2">TRAJ</text>
<text transform="translate(1346.5 229) rotate(-90)" font-size="18.6" text-anchor="middle">Age</text>
<g shape-rendering="crispEdges">
<rect x="1364.2" y="197.6" width="14.39" height="20.8" fill="#5A2968"/>
<rect x="1391.99" y="197.6" width="14.39" height="20.8" fill="#64296A"/>
<rect x="1419.78" y="197.6" width="14.39" height="20.8" fill="#5A2968"/>
<rect x="1433.67" y="197.6" width="14.39" height="20.8" fill="#5A2968"/>
<rect x="1475.36" y="197.6" width="14.39" height="20.8" fill="#6A2C6B"/>
<rect x="1517.04" y="197.6" width="14.39" height="20.8" fill="#5A2968"/>
<rect x="1530.94" y="197.6" width="14.39" height="20.8" fill="#5A2968"/>
<rect x="1544.83" y="197.6" width="14.39" height="20.8" fill="#5A2968"/>
<rect x="1558.73" y="197.6" width="14.39" height="20.8" fill="#5A2968"/>
<rect x="1572.62" y="197.6" width="14.39" height="20.8" fill="#5A2968"/>
<rect x="1600.41" y="197.6" width="14.39" height="20.8" fill="#5A2968"/>
<rect x="1614.31" y="197.6" width="14.39" height="20.8" fill="#5A2968"/>
<rect x="1642.09" y="197.6" width="14.39" height="20.8" fill="#D98850"/>
<rect x="1655.99" y="197.6" width="14.39" height="20.8" fill="#5A2968"/>
<rect x="1669.88" y="197.6" width="14.39" height="20.8" fill="#5A2968"/>
<rect x="1683.78" y="197.6" width="14.39" height="20.8" fill="#5A2968"/>
<rect x="1739.36" y="197.6" width="14.39" height="20.8" fill="#5A2968"/>
<rect x="1767.15" y="197.6" width="14.39" height="20.8" fill="#5A2968"/>
<rect x="1794.94" y="197.6" width="14.39" height="20.8" fill="#5A2968"/>
<rect x="1808.83" y="197.6" width="14.39" height="20.8" fill="#5A2968"/>
<rect x="1822.73" y="197.6" width="14.39" height="20.8" fill="#5A2968"/>
<rect x="1836.62" y="197.6" width="14.39" height="20.8" fill="#5A2968"/>
<rect x="1864.41" y="197.6" width="14.39" height="20.8" fill="#5A2968"/>
<rect x="1364.2" y="218" width="14.39" height="21.4" fill="#5A2968"/>
<rect x="1378.09" y="218" width="14.39" height="21.4" fill="#5A2968"/>
<rect x="1391.99" y="218" width="14.39" height="21.4" fill="#64296A"/>
<rect x="1405.88" y="218" width="14.39" height="21.4" fill="#5A2968"/>
<rect x="1433.67" y="218" width="14.39" height="21.4" fill="#5A2968"/>
<rect x="1447.57" y="218" width="14.39" height="21.4" fill="#5A2968"/>
<rect x="1475.36" y="218" width="14.39" height="21.4" fill="#6A2C6B"/>
<rect x="1489.25" y="218" width="14.39" height="21.4" fill="#5A2968"/>
<rect x="1503.15" y="218" width="14.39" height="21.4" fill="#5A2968"/>
<rect x="1517.04" y="218" width="14.39" height="21.4" fill="#5A2968"/>
<rect x="1530.94" y="218" width="14.39" height="21.4" fill="#5A2968"/>
<rect x="1544.83" y="218" width="14.39" height="21.4" fill="#5A2968"/>
<rect x="1558.73" y="218" width="14.39" height="21.4" fill="#5A2968"/>
<rect x="1572.62" y="218" width="14.39" height="21.4" fill="#5A2968"/>
<rect x="1586.52" y="218" width="14.39" height="21.4" fill="#5A2968"/>
<rect x="1600.41" y="218" width="14.39" height="21.4" fill="#5A2968"/>
<rect x="1614.31" y="218" width="14.39" height="21.4" fill="#5A2968"/>
<rect x="1628.2" y="218" width="14.39" height="21.4" fill="#5A2968"/>
<rect x="1642.09" y="218" width="14.39" height="21.4" fill="#E19A4A"/>
<rect x="1655.99" y="218" width="14.39" height="21.4" fill="#5A2968"/>
<rect x="1669.88" y="218" width="14.39" height="21.4" fill="#5A2968"/>
<rect x="1683.78" y="218" width="14.39" height="21.4" fill="#5A2968"/>
<rect x="1697.67" y="218" width="14.39" height="21.4" fill="#5A2968"/>
<rect x="1725.46" y="218" width="14.39" height="21.4" fill="#5A2968"/>
<rect x="1739.36" y="218" width="14.39" height="21.4" fill="#5A2968"/>
<rect x="1753.25" y="218" width="14.39" height="21.4" fill="#5A2968"/>
<rect x="1767.15" y="218" width="14.39" height="21.4" fill="#5A2968"/>
<rect x="1781.04" y="218" width="14.39" height="21.4" fill="#5A2968"/>
<rect x="1794.94" y="218" width="14.39" height="21.4" fill="#5A2968"/>
<rect x="1808.83" y="218" width="14.39" height="21.4" fill="#5A2968"/>
<rect x="1836.62" y="218" width="14.39" height="21.4" fill="#5A2968"/>
<rect x="1850.52" y="218" width="14.39" height="21.4" fill="#5A2968"/>
<rect x="1878.31" y="218" width="14.39" height="21.4" fill="#5A2968"/>
<rect x="1364.2" y="239" width="14.39" height="20.4" fill="#5A2968"/>
<rect x="1391.99" y="239" width="14.39" height="20.4" fill="#64296A"/>
<rect x="1405.88" y="239" width="14.39" height="20.4" fill="#5A2968"/>
<rect x="1433.67" y="239" width="14.39" height="20.4" fill="#5A2968"/>
<rect x="1447.57" y="239" width="14.39" height="20.4" fill="#5A2968"/>
<rect x="1475.36" y="239" width="14.39" height="20.4" fill="#6A2C6B"/>
<rect x="1530.94" y="239" width="14.39" height="20.4" fill="#5A2968"/>
<rect x="1558.73" y="239" width="14.39" height="20.4" fill="#5A2968"/>
<rect x="1600.41" y="239" width="14.39" height="20.4" fill="#5A2968"/>
<rect x="1614.31" y="239" width="14.39" height="20.4" fill="#5A2968"/>
<rect x="1628.2" y="239" width="14.39" height="20.4" fill="#5A2968"/>
<rect x="1642.09" y="239" width="14.39" height="20.4" fill="#EAA543"/>
<rect x="1655.99" y="239" width="14.39" height="20.4" fill="#5A2968"/>
<rect x="1669.88" y="239" width="14.39" height="20.4" fill="#5A2968"/>
<rect x="1683.78" y="239" width="14.39" height="20.4" fill="#5A2968"/>
<rect x="1697.67" y="239" width="14.39" height="20.4" fill="#5A2968"/>
<rect x="1725.46" y="239" width="14.39" height="20.4" fill="#5A2968"/>
<rect x="1739.36" y="239" width="14.39" height="20.4" fill="#5A2968"/>
<rect x="1753.25" y="239" width="14.39" height="20.4" fill="#5A2968"/>
<rect x="1767.15" y="239" width="14.39" height="20.4" fill="#5A2968"/>
<rect x="1781.04" y="239" width="14.39" height="20.4" fill="#5A2968"/>
<rect x="1836.62" y="239" width="14.39" height="20.4" fill="#5A2968"/>
<rect x="1864.41" y="239" width="14.39" height="20.4" fill="#5A2968"/>
<rect x="1878.31" y="239" width="14.39" height="20.4" fill="#5A2968"/>
<rect x="1364.2" y="259" width="14.39" height="18.4" fill="#5A2968"/>
<rect x="1378.09" y="259" width="14.39" height="18.4" fill="#5A2968"/>
<rect x="1391.99" y="259" width="14.39" height="18.4" fill="#64296A"/>
<rect x="1405.88" y="259" width="14.39" height="18.4" fill="#5A2968"/>
<rect x="1419.78" y="259" width="14.39" height="18.4" fill="#5A2968"/>
<rect x="1433.67" y="259" width="14.39" height="18.4" fill="#5A2968"/>
<rect x="1447.57" y="259" width="14.39" height="18.4" fill="#5A2968"/>
<rect x="1461.46" y="259" width="14.39" height="18.4" fill="#5A2968"/>
<rect x="1475.36" y="259" width="14.39" height="18.4" fill="#6A2C6B"/>
<rect x="1517.04" y="259" width="14.39" height="18.4" fill="#5A2968"/>
<rect x="1530.94" y="259" width="14.39" height="18.4" fill="#5A2968"/>
<rect x="1544.83" y="259" width="14.39" height="18.4" fill="#5A2968"/>
<rect x="1558.73" y="259" width="14.39" height="18.4" fill="#5A2968"/>
<rect x="1572.62" y="259" width="14.39" height="18.4" fill="#5A2968"/>
<rect x="1600.41" y="259" width="14.39" height="18.4" fill="#5A2968"/>
<rect x="1628.2" y="259" width="14.39" height="18.4" fill="#5A2968"/>
<rect x="1642.09" y="259" width="14.39" height="18.4" fill="#E9A344"/>
<rect x="1669.88" y="259" width="14.39" height="18.4" fill="#5A2968"/>
<rect x="1683.78" y="259" width="14.39" height="18.4" fill="#5A2968"/>
<rect x="1711.57" y="259" width="14.39" height="18.4" fill="#5A2968"/>
<rect x="1739.36" y="259" width="14.39" height="18.4" fill="#5A2968"/>
<rect x="1753.25" y="259" width="14.39" height="18.4" fill="#5A2968"/>
<rect x="1767.15" y="259" width="14.39" height="18.4" fill="#5A2968"/>
<rect x="1822.73" y="259" width="14.39" height="18.4" fill="#5A2968"/>
<rect x="1836.62" y="259" width="14.39" height="18.4" fill="#5A2968"/>
<rect x="1864.41" y="259" width="14.39" height="18.4" fill="#5A2968"/>
<rect x="1878.31" y="259" width="14.39" height="18.4" fill="#5A2968"/>
</g>
<line x1="1433.67" y1="197.6" x2="1433.67" y2="218" stroke="#2c0f3e" stroke-width="0.9" stroke-opacity="0.35"/>
<line x1="1530.94" y1="197.6" x2="1530.94" y2="218" stroke="#2c0f3e" stroke-width="0.9" stroke-opacity="0.35"/>
<line x1="1544.83" y1="197.6" x2="1544.83" y2="218" stroke="#2c0f3e" stroke-width="0.9" stroke-opacity="0.35"/>
<line x1="1558.73" y1="197.6" x2="1558.73" y2="218" stroke="#2c0f3e" stroke-width="0.9" stroke-opacity="0.35"/>
<line x1="1572.62" y1="197.6" x2="1572.62" y2="218" stroke="#2c0f3e" stroke-width="0.9" stroke-opacity="0.35"/>
<line x1="1614.31" y1="197.6" x2="1614.31" y2="218" stroke="#2c0f3e" stroke-width="0.9" stroke-opacity="0.35"/>
<line x1="1655.99" y1="197.6" x2="1655.99" y2="218" stroke="#2c0f3e" stroke-width="0.9" stroke-opacity="0.35"/>
<line x1="1669.88" y1="197.6" x2="1669.88" y2="218" stroke="#2c0f3e" stroke-width="0.9" stroke-opacity="0.35"/>
<line x1="1683.78" y1="197.6" x2="1683.78" y2="218" stroke="#2c0f3e" stroke-width="0.9" stroke-opacity="0.35"/>
<line x1="1808.83" y1="197.6" x2="1808.83" y2="218" stroke="#2c0f3e" stroke-width="0.9" stroke-opacity="0.35"/>
<line x1="1822.73" y1="197.6" x2="1822.73" y2="218" stroke="#2c0f3e" stroke-width="0.9" stroke-opacity="0.35"/>
<line x1="1836.62" y1="197.6" x2="1836.62" y2="218" stroke="#2c0f3e" stroke-width="0.9" stroke-opacity="0.35"/>
<line x1="1378.09" y1="218" x2="1378.09" y2="239" stroke="#2c0f3e" stroke-width="0.9" stroke-opacity="0.35"/>
<line x1="1391.99" y1="218" x2="1391.99" y2="239" stroke="#2c0f3e" stroke-width="0.9" stroke-opacity="0.35"/>
<line x1="1405.88" y1="218" x2="1405.88" y2="239" stroke="#2c0f3e" stroke-width="0.9" stroke-opacity="0.35"/>
<line x1="1447.57" y1="218" x2="1447.57" y2="239" stroke="#2c0f3e" stroke-width="0.9" stroke-opacity="0.35"/>
<line x1="1489.25" y1="218" x2="1489.25" y2="239" stroke="#2c0f3e" stroke-width="0.9" stroke-opacity="0.35"/>
<line x1="1503.15" y1="218" x2="1503.15" y2="239" stroke="#2c0f3e" stroke-width="0.9" stroke-opacity="0.35"/>
<line x1="1517.04" y1="218" x2="1517.04" y2="239" stroke="#2c0f3e" stroke-width="0.9" stroke-opacity="0.35"/>
<line x1="1530.94" y1="218" x2="1530.94" y2="239" stroke="#2c0f3e" stroke-width="0.9" stroke-opacity="0.35"/>
<line x1="1544.83" y1="218" x2="1544.83" y2="239" stroke="#2c0f3e" stroke-width="0.9" stroke-opacity="0.35"/>
<line x1="1558.73" y1="218" x2="1558.73" y2="239" stroke="#2c0f3e" stroke-width="0.9" stroke-opacity="0.35"/>
<line x1="1572.62" y1="218" x2="1572.62" y2="239" stroke="#2c0f3e" stroke-width="0.9" stroke-opacity="0.35"/>
<line x1="1586.52" y1="218" x2="1586.52" y2="239" stroke="#2c0f3e" stroke-width="0.9" stroke-opacity="0.35"/>
<line x1="1600.41" y1="218" x2="1600.41" y2="239" stroke="#2c0f3e" stroke-width="0.9" stroke-opacity="0.35"/>
<line x1="1614.31" y1="218" x2="1614.31" y2="239" stroke="#2c0f3e" stroke-width="0.9" stroke-opacity="0.35"/>
<line x1="1628.2" y1="218" x2="1628.2" y2="239" stroke="#2c0f3e" stroke-width="0.9" stroke-opacity="0.35"/>
<line x1="1642.09" y1="218" x2="1642.09" y2="239" stroke="#2c0f3e" stroke-width="0.9" stroke-opacity="0.35"/>
<line x1="1655.99" y1="218" x2="1655.99" y2="239" stroke="#2c0f3e" stroke-width="0.9" stroke-opacity="0.35"/>
<line x1="1669.88" y1="218" x2="1669.88" y2="239" stroke="#2c0f3e" stroke-width="0.9" stroke-opacity="0.35"/>
<line x1="1683.78" y1="218" x2="1683.78" y2="239" stroke="#2c0f3e" stroke-width="0.9" stroke-opacity="0.35"/>
<line x1="1697.67" y1="218" x2="1697.67" y2="239" stroke="#2c0f3e" stroke-width="0.9" stroke-opacity="0.35"/>
<line x1="1739.36" y1="218" x2="1739.36" y2="239" stroke="#2c0f3e" stroke-width="0.9" stroke-opacity="0.35"/>
<line x1="1753.25" y1="218" x2="1753.25" y2="239" stroke="#2c0f3e" stroke-width="0.9" stroke-opacity="0.35"/>
<line x1="1767.15" y1="218" x2="1767.15" y2="239" stroke="#2c0f3e" stroke-width="0.9" stroke-opacity="0.35"/>
<line x1="1781.04" y1="218" x2="1781.04" y2="239" stroke="#2c0f3e" stroke-width="0.9" stroke-opacity="0.35"/>
<line x1="1794.94" y1="218" x2="1794.94" y2="239" stroke="#2c0f3e" stroke-width="0.9" stroke-opacity="0.35"/>
<line x1="1808.83" y1="218" x2="1808.83" y2="239" stroke="#2c0f3e" stroke-width="0.9" stroke-opacity="0.35"/>
<line x1="1850.52" y1="218" x2="1850.52" y2="239" stroke="#2c0f3e" stroke-width="0.9" stroke-opacity="0.35"/>
<line x1="1405.88" y1="239" x2="1405.88" y2="259" stroke="#2c0f3e" stroke-width="0.9" stroke-opacity="0.35"/>
<line x1="1447.57" y1="239" x2="1447.57" y2="259" stroke="#2c0f3e" stroke-width="0.9" stroke-opacity="0.35"/>
<line x1="1614.31" y1="239" x2="1614.31" y2="259" stroke="#2c0f3e" stroke-width="0.9" stroke-opacity="0.35"/>
<line x1="1628.2" y1="239" x2="1628.2" y2="259" stroke="#2c0f3e" stroke-width="0.9" stroke-opacity="0.35"/>
<line x1="1642.09" y1="239" x2="1642.09" y2="259" stroke="#2c0f3e" stroke-width="0.9" stroke-opacity="0.35"/>
<line x1="1655.99" y1="239" x2="1655.99" y2="259" stroke="#2c0f3e" stroke-width="0.9" stroke-opacity="0.35"/>
<line x1="1669.88" y1="239" x2="1669.88" y2="259" stroke="#2c0f3e" stroke-width="0.9" stroke-opacity="0.35"/>
<line x1="1683.78" y1="239" x2="1683.78" y2="259" stroke="#2c0f3e" stroke-width="0.9" stroke-opacity="0.35"/>
<line x1="1697.67" y1="239" x2="1697.67" y2="259" stroke="#2c0f3e" stroke-width="0.9" stroke-opacity="0.35"/>
<line x1="1739.36" y1="239" x2="1739.36" y2="259" stroke="#2c0f3e" stroke-width="0.9" stroke-opacity="0.35"/>
<line x1="1753.25" y1="239" x2="1753.25" y2="259" stroke="#2c0f3e" stroke-width="0.9" stroke-opacity="0.35"/>
<line x1="1767.15" y1="239" x2="1767.15" y2="259" stroke="#2c0f3e" stroke-width="0.9" stroke-opacity="0.35"/>
<line x1="1781.04" y1="239" x2="1781.04" y2="259" stroke="#2c0f3e" stroke-width="0.9" stroke-opacity="0.35"/>
<line x1="1878.31" y1="239" x2="1878.31" y2="259" stroke="#2c0f3e" stroke-width="0.9" stroke-opacity="0.35"/>
<line x1="1378.09" y1="259" x2="1378.09" y2="277" stroke="#2c0f3e" stroke-width="0.9" stroke-opacity="0.35"/>
<line x1="1391.99" y1="259" x2="1391.99" y2="277" stroke="#2c0f3e" stroke-width="0.9" stroke-opacity="0.35"/>
<line x1="1405.88" y1="259" x2="1405.88" y2="277" stroke="#2c0f3e" stroke-width="0.9" stroke-opacity="0.35"/>
<line x1="1419.78" y1="259" x2="1419.78" y2="277" stroke="#2c0f3e" stroke-width="0.9" stroke-opacity="0.35"/>
<line x1="1433.67" y1="259" x2="1433.67" y2="277" stroke="#2c0f3e" stroke-width="0.9" stroke-opacity="0.35"/>
<line x1="1447.57" y1="259" x2="1447.57" y2="277" stroke="#2c0f3e" stroke-width="0.9" stroke-opacity="0.35"/>
<line x1="1461.46" y1="259" x2="1461.46" y2="277" stroke="#2c0f3e" stroke-width="0.9" stroke-opacity="0.35"/>
<line x1="1475.36" y1="259" x2="1475.36" y2="277" stroke="#2c0f3e" stroke-width="0.9" stroke-opacity="0.35"/>
<line x1="1530.94" y1="259" x2="1530.94" y2="277" stroke="#2c0f3e" stroke-width="0.9" stroke-opacity="0.35"/>
<line x1="1544.83" y1="259" x2="1544.83" y2="277" stroke="#2c0f3e" stroke-width="0.9" stroke-opacity="0.35"/>
<line x1="1558.73" y1="259" x2="1558.73" y2="277" stroke="#2c0f3e" stroke-width="0.9" stroke-opacity="0.35"/>
<line x1="1572.62" y1="259" x2="1572.62" y2="277" stroke="#2c0f3e" stroke-width="0.9" stroke-opacity="0.35"/>
<line x1="1642.09" y1="259" x2="1642.09" y2="277" stroke="#2c0f3e" stroke-width="0.9" stroke-opacity="0.35"/>
<line x1="1683.78" y1="259" x2="1683.78" y2="277" stroke="#2c0f3e" stroke-width="0.9" stroke-opacity="0.35"/>
<line x1="1753.25" y1="259" x2="1753.25" y2="277" stroke="#2c0f3e" stroke-width="0.9" stroke-opacity="0.35"/>
<line x1="1767.15" y1="259" x2="1767.15" y2="277" stroke="#2c0f3e" stroke-width="0.9" stroke-opacity="0.35"/>
<line x1="1836.62" y1="259" x2="1836.62" y2="277" stroke="#2c0f3e" stroke-width="0.9" stroke-opacity="0.35"/>
<line x1="1878.31" y1="259" x2="1878.31" y2="277" stroke="#2c0f3e" stroke-width="0.9" stroke-opacity="0.35"/>
<line x1="1363.7" y1="218" x2="1892.7" y2="218" stroke="#fff" stroke-width="1.7" stroke-opacity="0.5"/>
<line x1="1363.7" y1="239" x2="1892.7" y2="239" stroke="#fff" stroke-width="1.7" stroke-opacity="0.5"/>
<line x1="1363.7" y1="259" x2="1892.7" y2="259" stroke="#fff" stroke-width="1.7" stroke-opacity="0.5"/>
<text transform="translate(1374.94 291) rotate(-90)" font-size="10.6" text-anchor="end">10</text>
<text transform="translate(1388.84 291) rotate(-90)" font-size="10.6" text-anchor="end">11</text>
<text transform="translate(1402.73 291) rotate(-90)" font-size="10.6" text-anchor="end">12</text>
<text transform="translate(1416.63 291) rotate(-90)" font-size="10.6" text-anchor="end">13</text>
<text transform="translate(1430.52 291) rotate(-90)" font-size="10.6" text-anchor="end">15</text>
<text transform="translate(1444.42 291) rotate(-90)" font-size="10.6" text-anchor="end">16</text>
<text transform="translate(1458.31 291) rotate(-90)" font-size="10.6" text-anchor="end">17</text>
<text transform="translate(1472.21 291) rotate(-90)" font-size="10.6" text-anchor="end">18</text>
<text transform="translate(1486.1 291) rotate(-90)" font-size="10.6" text-anchor="end">20</text>
<text transform="translate(1499.99 291) rotate(-90)" font-size="10.6" text-anchor="end">21</text>
<text transform="translate(1513.89 291) rotate(-90)" font-size="10.6" text-anchor="end">22</text>
<text transform="translate(1527.78 291) rotate(-90)" font-size="10.6" text-anchor="end">23</text>
<text transform="translate(1541.68 291) rotate(-90)" font-size="10.6" text-anchor="end">24</text>
<text transform="translate(1555.57 291) rotate(-90)" font-size="10.6" text-anchor="end">26</text>
<text transform="translate(1569.47 291) rotate(-90)" font-size="10.6" text-anchor="end">27</text>
<text transform="translate(1583.36 291) rotate(-90)" font-size="10.6" text-anchor="end">28</text>
<text transform="translate(1597.26 291) rotate(-90)" font-size="10.6" text-anchor="end">29</text>
<text transform="translate(1611.15 291) rotate(-90)" font-size="10.6" text-anchor="end">30</text>
<text transform="translate(1625.05 291) rotate(-90)" font-size="10.6" text-anchor="end">31</text>
<text transform="translate(1638.94 291) rotate(-90)" font-size="10.6" text-anchor="end">32</text>
<text transform="translate(1652.84 291) rotate(-90)" font-size="10.6" text-anchor="end">33</text>
<text transform="translate(1666.73 291) rotate(-90)" font-size="10.6" text-anchor="end">34</text>
<text transform="translate(1680.63 291) rotate(-90)" font-size="10.6" text-anchor="end">35</text>
<text transform="translate(1694.52 291) rotate(-90)" font-size="10.6" text-anchor="end">36</text>
<text transform="translate(1708.42 291) rotate(-90)" font-size="10.6" text-anchor="end">37</text>
<text transform="translate(1722.31 291) rotate(-90)" font-size="10.6" text-anchor="end">38</text>
<text transform="translate(1736.21 291) rotate(-90)" font-size="10.6" text-anchor="end">39</text>
<text transform="translate(1750.1 291) rotate(-90)" font-size="10.6" text-anchor="end">4</text>
<text transform="translate(1763.99 291) rotate(-90)" font-size="10.6" text-anchor="end">40</text>
<text transform="translate(1777.89 291) rotate(-90)" font-size="10.6" text-anchor="end">41</text>
<text transform="translate(1791.78 291) rotate(-90)" font-size="10.6" text-anchor="end">43</text>
<text transform="translate(1805.68 291) rotate(-90)" font-size="10.6" text-anchor="end">48</text>
<text transform="translate(1819.57 291) rotate(-90)" font-size="10.6" text-anchor="end">48</text>
<text transform="translate(1833.47 291) rotate(-90)" font-size="10.6" text-anchor="end">5</text>
<text transform="translate(1847.36 291) rotate(-90)" font-size="10.6" text-anchor="end">6</text>
<text transform="translate(1861.26 291) rotate(-90)" font-size="10.6" text-anchor="end">7</text>
<text transform="translate(1875.15 291) rotate(-90)" font-size="10.6" text-anchor="end">8</text>
<text transform="translate(1889.05 291) rotate(-90)" font-size="10.6" text-anchor="end">9</text>
<line x1="1356.8" y1="305.3" x2="1356.8" y2="397.4" stroke="#000" stroke-width="1.7"/>
<path d="M1356.8 297.3 L1350.6 310.3 L1363 310.3 Z" fill="#000"/>
<line x1="1356" y1="396.6" x2="1900" y2="398.5" stroke="#000" stroke-width="1.7"/>
<path d="M1910 398.5 L1896.5 391.9 L1896.5 405.1 Z" fill="#000"/>
<text x="1918" y="405.5" font-size="18.2">TRBV</text>
<text transform="translate(1346.5 342) rotate(-90)" font-size="18.6" text-anchor="middle">Age</text>
<g shape-rendering="crispEdges">
<rect x="1363.6" y="311.5" width="12.14" height="18.05" fill="#5A2968"/>
<rect x="1375.24" y="311.5" width="12.14" height="18.05" fill="#5A2968"/>
<rect x="1386.87" y="311.5" width="12.14" height="18.05" fill="#5A2968"/>
<rect x="1410.15" y="311.5" width="12.14" height="18.05" fill="#5A2968"/>
<rect x="1421.78" y="311.5" width="12.14" height="18.05" fill="#5A2968"/>
<rect x="1445.06" y="311.5" width="12.14" height="18.05" fill="#5A2968"/>
<rect x="1456.7" y="311.5" width="12.14" height="18.05" fill="#5A2968"/>
<rect x="1468.33" y="311.5" width="12.14" height="18.05" fill="#5A2968"/>
<rect x="1491.61" y="311.5" width="12.14" height="18.05" fill="#5E286A"/>
<rect x="1514.88" y="311.5" width="12.14" height="18.05" fill="#5E286A"/>
<rect x="1526.52" y="311.5" width="12.14" height="18.05" fill="#5E286A"/>
<rect x="1538.15" y="311.5" width="12.14" height="18.05" fill="#863669"/>
<rect x="1549.79" y="311.5" width="12.14" height="18.05" fill="#5E286A"/>
<rect x="1561.43" y="311.5" width="12.14" height="18.05" fill="#5E286A"/>
<rect x="1573.07" y="311.5" width="12.14" height="18.05" fill="#5E286A"/>
<rect x="1584.7" y="311.5" width="12.14" height="18.05" fill="#5E286A"/>
<rect x="1596.34" y="311.5" width="12.14" height="18.05" fill="#5E286A"/>
<rect x="1607.98" y="311.5" width="12.14" height="18.05" fill="#5E286A"/>
<rect x="1619.61" y="311.5" width="12.14" height="18.05" fill="#5E286A"/>
<rect x="1631.25" y="311.5" width="12.14" height="18.05" fill="#5E286A"/>
<rect x="1642.89" y="311.5" width="12.14" height="18.05" fill="#672B6B"/>
<rect x="1666.16" y="311.5" width="12.14" height="18.05" fill="#5A2968"/>
<rect x="1677.8" y="311.5" width="12.14" height="18.05" fill="#5A2968"/>
<rect x="1701.07" y="311.5" width="12.14" height="18.05" fill="#5A2968"/>
<rect x="1712.71" y="311.5" width="12.14" height="18.05" fill="#5A2968"/>
<rect x="1735.98" y="311.5" width="12.14" height="18.05" fill="#8D3B6D"/>
<rect x="1747.62" y="311.5" width="12.14" height="18.05" fill="#6F2E6B"/>
<rect x="1759.26" y="311.5" width="12.14" height="18.05" fill="#E49B3F"/>
<rect x="1770.89" y="311.5" width="12.14" height="18.05" fill="#5E286A"/>
<rect x="1782.53" y="311.5" width="12.14" height="18.05" fill="#5E286A"/>
<rect x="1817.44" y="311.5" width="12.14" height="18.05" fill="#5A2968"/>
<rect x="1829.08" y="311.5" width="12.14" height="18.05" fill="#5A2968"/>
<rect x="1840.72" y="311.5" width="12.14" height="18.05" fill="#5A2968"/>
<rect x="1863.99" y="311.5" width="12.14" height="18.05" fill="#5A2968"/>
<rect x="1875.63" y="311.5" width="12.14" height="18.05" fill="#5A2968"/>
<rect x="1887.26" y="311.5" width="12.14" height="18.05" fill="#5A2968"/>
<rect x="1363.6" y="329.15" width="12.14" height="21.05" fill="#5A2968"/>
<rect x="1375.24" y="329.15" width="12.14" height="21.05" fill="#5A2968"/>
<rect x="1386.87" y="329.15" width="12.14" height="21.05" fill="#5A2968"/>
<rect x="1398.51" y="329.15" width="12.14" height="21.05" fill="#5A2968"/>
<rect x="1410.15" y="329.15" width="12.14" height="21.05" fill="#5A2968"/>
<rect x="1421.78" y="329.15" width="12.14" height="21.05" fill="#5A2968"/>
<rect x="1433.42" y="329.15" width="12.14" height="21.05" fill="#5A2968"/>
<rect x="1445.06" y="329.15" width="12.14" height="21.05" fill="#5A2968"/>
<rect x="1456.7" y="329.15" width="12.14" height="21.05" fill="#5A2968"/>
<rect x="1468.33" y="329.15" width="12.14" height="21.05" fill="#5A2968"/>
<rect x="1491.61" y="329.15" width="12.14" height="21.05" fill="#5E286A"/>
<rect x="1503.24" y="329.15" width="12.14" height="21.05" fill="#5E286A"/>
<rect x="1514.88" y="329.15" width="12.14" height="21.05" fill="#5E286A"/>
<rect x="1526.52" y="329.15" width="12.14" height="21.05" fill="#5E286A"/>
<rect x="1538.15" y="329.15" width="12.14" height="21.05" fill="#A7436A"/>
<rect x="1549.79" y="329.15" width="12.14" height="21.05" fill="#5E286A"/>
<rect x="1561.43" y="329.15" width="12.14" height="21.05" fill="#5E286A"/>
<rect x="1573.07" y="329.15" width="12.14" height="21.05" fill="#5E286A"/>
<rect x="1584.7" y="329.15" width="12.14" height="21.05" fill="#5E286A"/>
<rect x="1596.34" y="329.15" width="12.14" height="21.05" fill="#5E286A"/>
<rect x="1607.98" y="329.15" width="12.14" height="21.05" fill="#5E286A"/>
<rect x="1619.61" y="329.15" width="12.14" height="21.05" fill="#5E286A"/>
<rect x="1631.25" y="329.15" width="12.14" height="21.05" fill="#5E286A"/>
<rect x="1642.89" y="329.15" width="12.14" height="21.05" fill="#672B6B"/>
<rect x="1654.52" y="329.15" width="12.14" height="21.05" fill="#672B6B"/>
<rect x="1666.16" y="329.15" width="12.14" height="21.05" fill="#5A2968"/>
<rect x="1677.8" y="329.15" width="12.14" height="21.05" fill="#5A2968"/>
<rect x="1689.43" y="329.15" width="12.14" height="21.05" fill="#5A2968"/>
<rect x="1701.07" y="329.15" width="12.14" height="21.05" fill="#5A2968"/>
<rect x="1724.35" y="329.15" width="12.14" height="21.05" fill="#5A2968"/>
<rect x="1735.98" y="329.15" width="12.14" height="21.05" fill="#86386C"/>
<rect x="1747.62" y="329.15" width="12.14" height="21.05" fill="#6F2E6B"/>
<rect x="1759.26" y="329.15" width="12.14" height="21.05" fill="#8D3B6D"/>
<rect x="1770.89" y="329.15" width="12.14" height="21.05" fill="#5E286A"/>
<rect x="1782.53" y="329.15" width="12.14" height="21.05" fill="#5E286A"/>
<rect x="1794.17" y="329.15" width="12.14" height="21.05" fill="#5A2968"/>
<rect x="1805.8" y="329.15" width="12.14" height="21.05" fill="#5A2968"/>
<rect x="1817.44" y="329.15" width="12.14" height="21.05" fill="#5A2968"/>
<rect x="1829.08" y="329.15" width="12.14" height="21.05" fill="#5A2968"/>
<rect x="1840.72" y="329.15" width="12.14" height="21.05" fill="#5A2968"/>
<rect x="1852.35" y="329.15" width="12.14" height="21.05" fill="#5A2968"/>
<rect x="1863.99" y="329.15" width="12.14" height="21.05" fill="#5A2968"/>
<rect x="1875.63" y="329.15" width="12.14" height="21.05" fill="#5A2968"/>
<rect x="1887.26" y="329.15" width="12.14" height="21.05" fill="#5A2968"/>
<rect x="1363.6" y="349.8" width="12.14" height="21.6" fill="#5A2968"/>
<rect x="1375.24" y="349.8" width="12.14" height="21.6" fill="#5A2968"/>
<rect x="1386.87" y="349.8" width="12.14" height="21.6" fill="#5A2968"/>
<rect x="1398.51" y="349.8" width="12.14" height="21.6" fill="#5A2968"/>
<rect x="1410.15" y="349.8" width="12.14" height="21.6" fill="#5A2968"/>
<rect x="1421.78" y="349.8" width="12.14" height="21.6" fill="#5A2968"/>
<rect x="1433.42" y="349.8" width="12.14" height="21.6" fill="#5A2968"/>
<rect x="1445.06" y="349.8" width="12.14" height="21.6" fill="#5A2968"/>
<rect x="1456.7" y="349.8" width="12.14" height="21.6" fill="#5A2968"/>
<rect x="1468.33" y="349.8" width="12.14" height="21.6" fill="#5A2968"/>
<rect x="1491.61" y="349.8" width="12.14" height="21.6" fill="#5E286A"/>
<rect x="1503.24" y="349.8" width="12.14" height="21.6" fill="#5E286A"/>
<rect x="1514.88" y="349.8" width="12.14" height="21.6" fill="#5E286A"/>
<rect x="1526.52" y="349.8" width="12.14" height="21.6" fill="#5E286A"/>
<rect x="1538.15" y="349.8" width="12.14" height="21.6" fill="#B84C65"/>
<rect x="1549.79" y="349.8" width="12.14" height="21.6" fill="#5E286A"/>
<rect x="1561.43" y="349.8" width="12.14" height="21.6" fill="#5E286A"/>
<rect x="1573.07" y="349.8" width="12.14" height="21.6" fill="#5E286A"/>
<rect x="1584.7" y="349.8" width="12.14" height="21.6" fill="#5E286A"/>
<rect x="1596.34" y="349.8" width="12.14" height="21.6" fill="#5E286A"/>
<rect x="1607.98" y="349.8" width="12.14" height="21.6" fill="#5E286A"/>
<rect x="1619.61" y="349.8" width="12.14" height="21.6" fill="#5E286A"/>
<rect x="1631.25" y="349.8" width="12.14" height="21.6" fill="#5E286A"/>
<rect x="1642.89" y="349.8" width="12.14" height="21.6" fill="#672B6B"/>
<rect x="1654.52" y="349.8" width="12.14" height="21.6" fill="#672B6B"/>
<rect x="1666.16" y="349.8" width="12.14" height="21.6" fill="#5A2968"/>
<rect x="1677.8" y="349.8" width="12.14" height="21.6" fill="#5A2968"/>
<rect x="1701.07" y="349.8" width="12.14" height="21.6" fill="#5A2968"/>
<rect x="1735.98" y="349.8" width="12.14" height="21.6" fill="#8D3B6D"/>
<rect x="1747.62" y="349.8" width="12.14" height="21.6" fill="#6F2E6B"/>
<rect x="1759.26" y="349.8" width="12.14" height="21.6" fill="#82366C"/>
<rect x="1770.89" y="349.8" width="12.14" height="21.6" fill="#5E286A"/>
<rect x="1782.53" y="349.8" width="12.14" height="21.6" fill="#5E286A"/>
<rect x="1794.17" y="349.8" width="12.14" height="21.6" fill="#5A2968"/>
<rect x="1817.44" y="349.8" width="12.14" height="21.6" fill="#5A2968"/>
<rect x="1829.08" y="349.8" width="12.14" height="21.6" fill="#5A2968"/>
<rect x="1840.72" y="349.8" width="12.14" height="21.6" fill="#5A2968"/>
<rect x="1852.35" y="349.8" width="12.14" height="21.6" fill="#5A2968"/>
<rect x="1863.99" y="349.8" width="12.14" height="21.6" fill="#5A2968"/>
<rect x="1875.63" y="349.8" width="12.14" height="21.6" fill="#5A2968"/>
<rect x="1887.26" y="349.8" width="12.14" height="21.6" fill="#5A2968"/>
<rect x="1363.6" y="371" width="12.14" height="19.8" fill="#5A2968"/>
<rect x="1375.24" y="371" width="12.14" height="19.8" fill="#5A2968"/>
<rect x="1386.87" y="371" width="12.14" height="19.8" fill="#5A2968"/>
<rect x="1398.51" y="371" width="12.14" height="19.8" fill="#5A2968"/>
<rect x="1410.15" y="371" width="12.14" height="19.8" fill="#5A2968"/>
<rect x="1421.78" y="371" width="12.14" height="19.8" fill="#5A2968"/>
<rect x="1433.42" y="371" width="12.14" height="19.8" fill="#5A2968"/>
<rect x="1445.06" y="371" width="12.14" height="19.8" fill="#5A2968"/>
<rect x="1456.7" y="371" width="12.14" height="19.8" fill="#5A2968"/>
<rect x="1468.33" y="371" width="12.14" height="19.8" fill="#5A2968"/>
<rect x="1479.97" y="371" width="12.14" height="19.8" fill="#5A2968"/>
<rect x="1491.61" y="371" width="12.14" height="19.8" fill="#5E286A"/>
<rect x="1503.24" y="371" width="12.14" height="19.8" fill="#5E286A"/>
<rect x="1514.88" y="371" width="12.14" height="19.8" fill="#5E286A"/>
<rect x="1526.52" y="371" width="12.14" height="19.8" fill="#5E286A"/>
<rect x="1538.15" y="371" width="12.14" height="19.8" fill="#C5565F"/>
<rect x="1549.79" y="371" width="12.14" height="19.8" fill="#5E286A"/>
<rect x="1561.43" y="371" width="12.14" height="19.8" fill="#5E286A"/>
<rect x="1573.07" y="371" width="12.14" height="19.8" fill="#5E286A"/>
<rect x="1584.7" y="371" width="12.14" height="19.8" fill="#5E286A"/>
<rect x="1596.34" y="371" width="12.14" height="19.8" fill="#5E286A"/>
<rect x="1607.98" y="371" width="12.14" height="19.8" fill="#5E286A"/>
<rect x="1619.61" y="371" width="12.14" height="19.8" fill="#5E286A"/>
<rect x="1631.25" y="371" width="12.14" height="19.8" fill="#5E286A"/>
<rect x="1642.89" y="371" width="12.14" height="19.8" fill="#672B6B"/>
<rect x="1666.16" y="371" width="12.14" height="19.8" fill="#5A2968"/>
<rect x="1677.8" y="371" width="12.14" height="19.8" fill="#5A2968"/>
<rect x="1689.43" y="371" width="12.14" height="19.8" fill="#5A2968"/>
<rect x="1701.07" y="371" width="12.14" height="19.8" fill="#5A2968"/>
<rect x="1724.35" y="371" width="12.14" height="19.8" fill="#5A2968"/>
<rect x="1735.98" y="371" width="12.14" height="19.8" fill="#8A396C"/>
<rect x="1747.62" y="371" width="12.14" height="19.8" fill="#64296A"/>
<rect x="1759.26" y="371" width="12.14" height="19.8" fill="#6C2D6B"/>
<rect x="1770.89" y="371" width="12.14" height="19.8" fill="#5E286A"/>
<rect x="1782.53" y="371" width="12.14" height="19.8" fill="#5E286A"/>
<rect x="1817.44" y="371" width="12.14" height="19.8" fill="#5A2968"/>
<rect x="1829.08" y="371" width="12.14" height="19.8" fill="#5A2968"/>
<rect x="1840.72" y="371" width="12.14" height="19.8" fill="#5A2968"/>
<rect x="1863.99" y="371" width="12.14" height="19.8" fill="#5A2968"/>
<rect x="1875.63" y="371" width="12.14" height="19.8" fill="#5A2968"/>
<rect x="1887.26" y="371" width="12.14" height="19.8" fill="#5A2968"/>
</g>
<line x1="1375.24" y1="311.5" x2="1375.24" y2="329.15" stroke="#2c0f3e" stroke-width="0.9" stroke-opacity="0.35"/>
<line x1="1386.87" y1="311.5" x2="1386.87" y2="329.15" stroke="#2c0f3e" stroke-width="0.9" stroke-opacity="0.35"/>
<line x1="1421.78" y1="311.5" x2="1421.78" y2="329.15" stroke="#2c0f3e" stroke-width="0.9" stroke-opacity="0.35"/>
<line x1="1456.7" y1="311.5" x2="1456.7" y2="329.15" stroke="#2c0f3e" stroke-width="0.9" stroke-opacity="0.35"/>
<line x1="1468.33" y1="311.5" x2="1468.33" y2="329.15" stroke="#2c0f3e" stroke-width="0.9" stroke-opacity="0.35"/>
<line x1="1526.52" y1="311.5" x2="1526.52" y2="329.15" stroke="#2c0f3e" stroke-width="0.9" stroke-opacity="0.35"/>
<line x1="1538.15" y1="311.5" x2="1538.15" y2="329.15" stroke="#2c0f3e" stroke-width="0.9" stroke-opacity="0.35"/>
<line x1="1549.79" y1="311.5" x2="1549.79" y2="329.15" stroke="#2c0f3e" stroke-width="0.9" stroke-opacity="0.35"/>
<line x1="1561.43" y1="311.5" x2="1561.43" y2="329.15" stroke="#2c0f3e" stroke-width="0.9" stroke-opacity="0.35"/>
<line x1="1573.07" y1="311.5" x2="1573.07" y2="329.15" stroke="#2c0f3e" stroke-width="0.9" stroke-opacity="0.35"/>
<line x1="1584.7" y1="311.5" x2="1584.7" y2="329.15" stroke="#2c0f3e" stroke-width="0.9" stroke-opacity="0.35"/>
<line x1="1596.34" y1="311.5" x2="1596.34" y2="329.15" stroke="#2c0f3e" stroke-width="0.9" stroke-opacity="0.35"/>
<line x1="1607.98" y1="311.5" x2="1607.98" y2="329.15" stroke="#2c0f3e" stroke-width="0.9" stroke-opacity="0.35"/>
<line x1="1619.61" y1="311.5" x2="1619.61" y2="329.15" stroke="#2c0f3e" stroke-width="0.9" stroke-opacity="0.35"/>
<line x1="1631.25" y1="311.5" x2="1631.25" y2="329.15" stroke="#2c0f3e" stroke-width="0.9" stroke-opacity="0.35"/>
<line x1="1642.89" y1="311.5" x2="1642.89" y2="329.15" stroke="#2c0f3e" stroke-width="0.9" stroke-opacity="0.35"/>
<line x1="1677.8" y1="311.5" x2="1677.8" y2="329.15" stroke="#2c0f3e" stroke-width="0.9" stroke-opacity="0.35"/>
<line x1="1712.71" y1="311.5" x2="1712.71" y2="329.15" stroke="#2c0f3e" stroke-width="0.9" stroke-opacity="0.35"/>
<line x1="1747.62" y1="311.5" x2="1747.62" y2="329.15" stroke="#2c0f3e" stroke-width="0.9" stroke-opacity="0.35"/>
<line x1="1759.26" y1="311.5" x2="1759.26" y2="329.15" stroke="#2c0f3e" stroke-width="0.9" stroke-opacity="0.35"/>
<line x1="1770.89" y1="311.5" x2="1770.89" y2="329.15" stroke="#2c0f3e" stroke-width="0.9" stroke-opacity="0.35"/>
<line x1="1782.53" y1="311.5" x2="1782.53" y2="329.15" stroke="#2c0f3e" stroke-width="0.9" stroke-opacity="0.35"/>
<line x1="1829.08" y1="311.5" x2="1829.08" y2="329.15" stroke="#2c0f3e" stroke-width="0.9" stroke-opacity="0.35"/>
<line x1="1840.72" y1="311.5" x2="1840.72" y2="329.15" stroke="#2c0f3e" stroke-width="0.9" stroke-opacity="0.35"/>
<line x1="1875.63" y1="311.5" x2="1875.63" y2="329.15" stroke="#2c0f3e" stroke-width="0.9" stroke-opacity="0.35"/>
<line x1="1887.26" y1="311.5" x2="1887.26" y2="329.15" stroke="#2c0f3e" stroke-width="0.9" stroke-opacity="0.35"/>
<line x1="1375.24" y1="329.15" x2="1375.24" y2="349.8" stroke="#2c0f3e" stroke-width="0.9" stroke-opacity="0.35"/>
<line x1="1386.87" y1="329.15" x2="1386.87" y2="349.8" stroke="#2c0f3e" stroke-width="0.9" stroke-opacity="0.35"/>
<line x1="1398.51" y1="329.15" x2="1398.51" y2="349.8" stroke="#2c0f3e" stroke-width="0.9" stroke-opacity="0.35"/>
<line x1="1410.15" y1="329.15" x2="1410.15" y2="349.8" stroke="#2c0f3e" stroke-width="0.9" stroke-opacity="0.35"/>
<line x1="1421.78" y1="329.15" x2="1421.78" y2="349.8" stroke="#2c0f3e" stroke-width="0.9" stroke-opacity="0.35"/>
<line x1="1433.42" y1="329.15" x2="1433.42" y2="349.8" stroke="#2c0f3e" stroke-width="0.9" stroke-opacity="0.35"/>
<line x1="1445.06" y1="329.15" x2="1445.06" y2="349.8" stroke="#2c0f3e" stroke-width="0.9" stroke-opacity="0.35"/>
<line x1="1456.7" y1="329.15" x2="1456.7" y2="349.8" stroke="#2c0f3e" stroke-width="0.9" stroke-opacity="0.35"/>
<line x1="1468.33" y1="329.15" x2="1468.33" y2="349.8" stroke="#2c0f3e" stroke-width="0.9" stroke-opacity="0.35"/>
<line x1="1503.24" y1="329.15" x2="1503.24" y2="349.8" stroke="#2c0f3e" stroke-width="0.9" stroke-opacity="0.35"/>
<line x1="1514.88" y1="329.15" x2="1514.88" y2="349.8" stroke="#2c0f3e" stroke-width="0.9" stroke-opacity="0.35"/>
<line x1="1526.52" y1="329.15" x2="1526.52" y2="349.8" stroke="#2c0f3e" stroke-width="0.9" stroke-opacity="0.35"/>
<line x1="1538.15" y1="329.15" x2="1538.15" y2="349.8" stroke="#2c0f3e" stroke-width="0.9" stroke-opacity="0.35"/>
<line x1="1549.79" y1="329.15" x2="1549.79" y2="349.8" stroke="#2c0f3e" stroke-width="0.9" stroke-opacity="0.35"/>
<line x1="1561.43" y1="329.15" x2="1561.43" y2="349.8" stroke="#2c0f3e" stroke-width="0.9" stroke-opacity="0.35"/>
<line x1="1573.07" y1="329.15" x2="1573.07" y2="349.8" stroke="#2c0f3e" stroke-width="0.9" stroke-opacity="0.35"/>
<line x1="1584.7" y1="329.15" x2="1584.7" y2="349.8" stroke="#2c0f3e" stroke-width="0.9" stroke-opacity="0.35"/>
<line x1="1596.34" y1="329.15" x2="1596.34" y2="349.8" stroke="#2c0f3e" stroke-width="0.9" stroke-opacity="0.35"/>
<line x1="1607.98" y1="329.15" x2="1607.98" y2="349.8" stroke="#2c0f3e" stroke-width="0.9" stroke-opacity="0.35"/>
<line x1="1619.61" y1="329.15" x2="1619.61" y2="349.8" stroke="#2c0f3e" stroke-width="0.9" stroke-opacity="0.35"/>
<line x1="1631.25" y1="329.15" x2="1631.25" y2="349.8" stroke="#2c0f3e" stroke-width="0.9" stroke-opacity="0.35"/>
<line x1="1642.89" y1="329.15" x2="1642.89" y2="349.8" stroke="#2c0f3e" stroke-width="0.9" stroke-opacity="0.35"/>
<line x1="1654.52" y1="329.15" x2="1654.52" y2="349.8" stroke="#2c0f3e" stroke-width="0.9" stroke-opacity="0.35"/>
<line x1="1666.16" y1="329.15" x2="1666.16" y2="349.8" stroke="#2c0f3e" stroke-width="0.9" stroke-opacity="0.35"/>
<line x1="1677.8" y1="329.15" x2="1677.8" y2="349.8" stroke="#2c0f3e" stroke-width="0.9" stroke-opacity="0.35"/>
<line x1="1689.43" y1="329.15" x2="1689.43" y2="349.8" stroke="#2c0f3e" stroke-width="0.9" stroke-opacity="0.35"/>
<line x1="1701.07" y1="329.15" x2="1701.07" y2="349.8" stroke="#2c0f3e" stroke-width="0.9" stroke-opacity="0.35"/>
<line x1="1735.98" y1="329.15" x2="1735.98" y2="349.8" stroke="#2c0f3e" stroke-width="0.9" stroke-opacity="0.35"/>
<line x1="1747.62" y1="329.15" x2="1747.62" y2="349.8" stroke="#2c0f3e" stroke-width="0.9" stroke-opacity="0.35"/>
<line x1="1759.26" y1="329.15" x2="1759.26" y2="349.8" stroke="#2c0f3e" stroke-width="0.9" stroke-opacity="0.35"/>
<line x1="1770.89" y1="329.15" x2="1770.89" y2="349.8" stroke="#2c0f3e" stroke-width="0.9" stroke-opacity="0.35"/>
<line x1="1782.53" y1="329.15" x2="1782.53" y2="349.8" stroke="#2c0f3e" stroke-width="0.9" stroke-opacity="0.35"/>
<line x1="1794.17" y1="329.15" x2="1794.17" y2="349.8" stroke="#2c0f3e" stroke-width="0.9" stroke-opacity="0.35"/>
<line x1="1805.8" y1="329.15" x2="1805.8" y2="349.8" stroke="#2c0f3e" stroke-width="0.9" stroke-opacity="0.35"/>
<line x1="1817.44" y1="329.15" x2="1817.44" y2="349.8" stroke="#2c0f3e" stroke-width="0.9" stroke-opacity="0.35"/>
<line x1="1829.08" y1="329.15" x2="1829.08" y2="349.8" stroke="#2c0f3e" stroke-width="0.9" stroke-opacity="0.35"/>
<line x1="1840.72" y1="329.15" x2="1840.72" y2="349.8" stroke="#2c0f3e" stroke-width="0.9" stroke-opacity="0.35"/>
<line x1="1852.35" y1="329.15" x2="1852.35" y2="349.8" stroke="#2c0f3e" stroke-width="0.9" stroke-opacity="0.35"/>
<line x1="1863.99" y1="329.15" x2="1863.99" y2="349.8" stroke="#2c0f3e" stroke-width="0.9" stroke-opacity="0.35"/>
<line x1="1875.63" y1="329.15" x2="1875.63" y2="349.8" stroke="#2c0f3e" stroke-width="0.9" stroke-opacity="0.35"/>
<line x1="1887.26" y1="329.15" x2="1887.26" y2="349.8" stroke="#2c0f3e" stroke-width="0.9" stroke-opacity="0.35"/>
<line x1="1375.24" y1="349.8" x2="1375.24" y2="371" stroke="#2c0f3e" stroke-width="0.9" stroke-opacity="0.35"/>
<line x1="1386.87" y1="349.8" x2="1386.87" y2="371" stroke="#2c0f3e" stroke-width="0.9" stroke-opacity="0.35"/>
<line x1="1398.51" y1="349.8" x2="1398.51" y2="371" stroke="#2c0f3e" stroke-width="0.9" stroke-opacity="0.35"/>
<line x1="1410.15" y1="349.8" x2="1410.15" y2="371" stroke="#2c0f3e" stroke-width="0.9" stroke-opacity="0.35"/>
<line x1="1421.78" y1="349.8" x2="1421.78" y2="371" stroke="#2c0f3e" stroke-width="0.9" stroke-opacity="0.35"/>
<line x1="1433.42" y1="349.8" x2="1433.42" y2="371" stroke="#2c0f3e" stroke-width="0.9" stroke-opacity="0.35"/>
<line x1="1445.06" y1="349.8" x2="1445.06" y2="371" stroke="#2c0f3e" stroke-width="0.9" stroke-opacity="0.35"/>
<line x1="1456.7" y1="349.8" x2="1456.7" y2="371" stroke="#2c0f3e" stroke-width="0.9" stroke-opacity="0.35"/>
<line x1="1468.33" y1="349.8" x2="1468.33" y2="371" stroke="#2c0f3e" stroke-width="0.9" stroke-opacity="0.35"/>
<line x1="1503.24" y1="349.8" x2="1503.24" y2="371" stroke="#2c0f3e" stroke-width="0.9" stroke-opacity="0.35"/>
<line x1="1514.88" y1="349.8" x2="1514.88" y2="371" stroke="#2c0f3e" stroke-width="0.9" stroke-opacity="0.35"/>
<line x1="1526.52" y1="349.8" x2="1526.52" y2="371" stroke="#2c0f3e" stroke-width="0.9" stroke-opacity="0.35"/>
<line x1="1538.15" y1="349.8" x2="1538.15" y2="371" stroke="#2c0f3e" stroke-width="0.9" stroke-opacity="0.35"/>
<line x1="1549.79" y1="349.8" x2="1549.79" y2="371" stroke="#2c0f3e" stroke-width="0.9" stroke-opacity="0.35"/>
<line x1="1561.43" y1="349.8" x2="1561.43" y2="371" stroke="#2c0f3e" stroke-width="0.9" stroke-opacity="0.35"/>
<line x1="1573.07" y1="349.8" x2="1573.07" y2="371" stroke="#2c0f3e" stroke-width="0.9" stroke-opacity="0.35"/>
<line x1="1584.7" y1="349.8" x2="1584.7" y2="371" stroke="#2c0f3e" stroke-width="0.9" stroke-opacity="0.35"/>
<line x1="1596.34" y1="349.8" x2="1596.34" y2="371" stroke="#2c0f3e" stroke-width="0.9" stroke-opacity="0.35"/>
<line x1="1607.98" y1="349.8" x2="1607.98" y2="371" stroke="#2c0f3e" stroke-width="0.9" stroke-opacity="0.35"/>
<line x1="1619.61" y1="349.8" x2="1619.61" y2="371" stroke="#2c0f3e" stroke-width="0.9" stroke-opacity="0.35"/>
<line x1="1631.25" y1="349.8" x2="1631.25" y2="371" stroke="#2c0f3e" stroke-width="0.9" stroke-opacity="0.35"/>
<line x1="1642.89" y1="349.8" x2="1642.89" y2="371" stroke="#2c0f3e" stroke-width="0.9" stroke-opacity="0.35"/>
<line x1="1654.52" y1="349.8" x2="1654.52" y2="371" stroke="#2c0f3e" stroke-width="0.9" stroke-opacity="0.35"/>
<line x1="1666.16" y1="349.8" x2="1666.16" y2="371" stroke="#2c0f3e" stroke-width="0.9" stroke-opacity="0.35"/>
<line x1="1677.8" y1="349.8" x2="1677.8" y2="371" stroke="#2c0f3e" stroke-width="0.9" stroke-opacity="0.35"/>
<line x1="1747.62" y1="349.8" x2="1747.62" y2="371" stroke="#2c0f3e" stroke-width="0.9" stroke-opacity="0.35"/>
<line x1="1759.26" y1="349.8" x2="1759.26" y2="371" stroke="#2c0f3e" stroke-width="0.9" stroke-opacity="0.35"/>
<line x1="1770.89" y1="349.8" x2="1770.89" y2="371" stroke="#2c0f3e" stroke-width="0.9" stroke-opacity="0.35"/>
<line x1="1782.53" y1="349.8" x2="1782.53" y2="371" stroke="#2c0f3e" stroke-width="0.9" stroke-opacity="0.35"/>
<line x1="1794.17" y1="349.8" x2="1794.17" y2="371" stroke="#2c0f3e" stroke-width="0.9" stroke-opacity="0.35"/>
<line x1="1829.08" y1="349.8" x2="1829.08" y2="371" stroke="#2c0f3e" stroke-width="0.9" stroke-opacity="0.35"/>
<line x1="1840.72" y1="349.8" x2="1840.72" y2="371" stroke="#2c0f3e" stroke-width="0.9" stroke-opacity="0.35"/>
<line x1="1852.35" y1="349.8" x2="1852.35" y2="371" stroke="#2c0f3e" stroke-width="0.9" stroke-opacity="0.35"/>
<line x1="1863.99" y1="349.8" x2="1863.99" y2="371" stroke="#2c0f3e" stroke-width="0.9" stroke-opacity="0.35"/>
<line x1="1875.63" y1="349.8" x2="1875.63" y2="371" stroke="#2c0f3e" stroke-width="0.9" stroke-opacity="0.35"/>
<line x1="1887.26" y1="349.8" x2="1887.26" y2="371" stroke="#2c0f3e" stroke-width="0.9" stroke-opacity="0.35"/>
<line x1="1375.24" y1="371" x2="1375.24" y2="390.4" stroke="#2c0f3e" stroke-width="0.9" stroke-opacity="0.35"/>
<line x1="1386.87" y1="371" x2="1386.87" y2="390.4" stroke="#2c0f3e" stroke-width="0.9" stroke-opacity="0.35"/>
<line x1="1398.51" y1="371" x2="1398.51" y2="390.4" stroke="#2c0f3e" stroke-width="0.9" stroke-opacity="0.35"/>
<line x1="1410.15" y1="371" x2="1410.15" y2="390.4" stroke="#2c0f3e" stroke-width="0.9" stroke-opacity="0.35"/>
<line x1="1421.78" y1="371" x2="1421.78" y2="390.4" stroke="#2c0f3e" stroke-width="0.9" stroke-opacity="0.35"/>
<line x1="1433.42" y1="371" x2="1433.42" y2="390.4" stroke="#2c0f3e" stroke-width="0.9" stroke-opacity="0.35"/>
<line x1="1445.06" y1="371" x2="1445.06" y2="390.4" stroke="#2c0f3e" stroke-width="0.9" stroke-opacity="0.35"/>
<line x1="1456.7" y1="371" x2="1456.7" y2="390.4" stroke="#2c0f3e" stroke-width="0.9" stroke-opacity="0.35"/>
<line x1="1468.33" y1="371" x2="1468.33" y2="390.4" stroke="#2c0f3e" stroke-width="0.9" stroke-opacity="0.35"/>
<line x1="1479.97" y1="371" x2="1479.97" y2="390.4" stroke="#2c0f3e" stroke-width="0.9" stroke-opacity="0.35"/>
<line x1="1491.61" y1="371" x2="1491.61" y2="390.4" stroke="#2c0f3e" stroke-width="0.9" stroke-opacity="0.35"/>
<line x1="1503.24" y1="371" x2="1503.24" y2="390.4" stroke="#2c0f3e" stroke-width="0.9" stroke-opacity="0.35"/>
<line x1="1514.88" y1="371" x2="1514.88" y2="390.4" stroke="#2c0f3e" stroke-width="0.9" stroke-opacity="0.35"/>
<line x1="1526.52" y1="371" x2="1526.52" y2="390.4" stroke="#2c0f3e" stroke-width="0.9" stroke-opacity="0.35"/>
<line x1="1538.15" y1="371" x2="1538.15" y2="390.4" stroke="#2c0f3e" stroke-width="0.9" stroke-opacity="0.35"/>
<line x1="1549.79" y1="371" x2="1549.79" y2="390.4" stroke="#2c0f3e" stroke-width="0.9" stroke-opacity="0.35"/>
<line x1="1561.43" y1="371" x2="1561.43" y2="390.4" stroke="#2c0f3e" stroke-width="0.9" stroke-opacity="0.35"/>
<line x1="1573.07" y1="371" x2="1573.07" y2="390.4" stroke="#2c0f3e" stroke-width="0.9" stroke-opacity="0.35"/>
<line x1="1584.7" y1="371" x2="1584.7" y2="390.4" stroke="#2c0f3e" stroke-width="0.9" stroke-opacity="0.35"/>
<line x1="1596.34" y1="371" x2="1596.34" y2="390.4" stroke="#2c0f3e" stroke-width="0.9" stroke-opacity="0.35"/>
<line x1="1607.98" y1="371" x2="1607.98" y2="390.4" stroke="#2c0f3e" stroke-width="0.9" stroke-opacity="0.35"/>
<line x1="1619.61" y1="371" x2="1619.61" y2="390.4" stroke="#2c0f3e" stroke-width="0.9" stroke-opacity="0.35"/>
<line x1="1631.25" y1="371" x2="1631.25" y2="390.4" stroke="#2c0f3e" stroke-width="0.9" stroke-opacity="0.35"/>
<line x1="1642.89" y1="371" x2="1642.89" y2="390.4" stroke="#2c0f3e" stroke-width="0.9" stroke-opacity="0.35"/>
<line x1="1677.8" y1="371" x2="1677.8" y2="390.4" stroke="#2c0f3e" stroke-width="0.9" stroke-opacity="0.35"/>
<line x1="1689.43" y1="371" x2="1689.43" y2="390.4" stroke="#2c0f3e" stroke-width="0.9" stroke-opacity="0.35"/>
<line x1="1701.07" y1="371" x2="1701.07" y2="390.4" stroke="#2c0f3e" stroke-width="0.9" stroke-opacity="0.35"/>
<line x1="1735.98" y1="371" x2="1735.98" y2="390.4" stroke="#2c0f3e" stroke-width="0.9" stroke-opacity="0.35"/>
<line x1="1747.62" y1="371" x2="1747.62" y2="390.4" stroke="#2c0f3e" stroke-width="0.9" stroke-opacity="0.35"/>
<line x1="1759.26" y1="371" x2="1759.26" y2="390.4" stroke="#2c0f3e" stroke-width="0.9" stroke-opacity="0.35"/>
<line x1="1770.89" y1="371" x2="1770.89" y2="390.4" stroke="#2c0f3e" stroke-width="0.9" stroke-opacity="0.35"/>
<line x1="1782.53" y1="371" x2="1782.53" y2="390.4" stroke="#2c0f3e" stroke-width="0.9" stroke-opacity="0.35"/>
<line x1="1829.08" y1="371" x2="1829.08" y2="390.4" stroke="#2c0f3e" stroke-width="0.9" stroke-opacity="0.35"/>
<line x1="1840.72" y1="371" x2="1840.72" y2="390.4" stroke="#2c0f3e" stroke-width="0.9" stroke-opacity="0.35"/>
<line x1="1875.63" y1="371" x2="1875.63" y2="390.4" stroke="#2c0f3e" stroke-width="0.9" stroke-opacity="0.35"/>
<line x1="1887.26" y1="371" x2="1887.26" y2="390.4" stroke="#2c0f3e" stroke-width="0.9" stroke-opacity="0.35"/>
<line x1="1363.1" y1="329.15" x2="1899.4" y2="329.15" stroke="#fff" stroke-width="1.7" stroke-opacity="0.5"/>
<line x1="1363.1" y1="349.8" x2="1899.4" y2="349.8" stroke="#fff" stroke-width="1.7" stroke-opacity="0.5"/>
<line x1="1363.1" y1="371" x2="1899.4" y2="371" stroke="#fff" stroke-width="1.7" stroke-opacity="0.5"/>
<text transform="translate(1373.18 406.1) rotate(-90)" font-size="10.5" text-anchor="end">10-1</text>
<text transform="translate(1384.81 406.1) rotate(-90)" font-size="10.5" text-anchor="end">10-2</text>
<text transform="translate(1396.45 406.1) rotate(-90)" font-size="10.5" text-anchor="end">10-3</text>
<text transform="translate(1408.09 406.1) rotate(-90)" font-size="10.5" text-anchor="end">11-1</text>
<text transform="translate(1419.73 406.1) rotate(-90)" font-size="10.5" text-anchor="end">11-2</text>
<text transform="translate(1431.36 406.1) rotate(-90)" font-size="10.5" text-anchor="end">11-3</text>
<text transform="translate(1443 406.1) rotate(-90)" font-size="10.5" text-anchor="end">12-3</text>
<text transform="translate(1454.64 406.1) rotate(-90)" font-size="10.5" text-anchor="end">12-4</text>
<text transform="translate(1466.27 406.1) rotate(-90)" font-size="10.5" text-anchor="end">12-5</text>
<text transform="translate(1477.91 406.1) rotate(-90)" font-size="10.5" text-anchor="end">13</text>
<text transform="translate(1489.55 406.1) rotate(-90)" font-size="10.5" text-anchor="end">14</text>
<text transform="translate(1501.18 406.1) rotate(-90)" font-size="10.5" text-anchor="end">15</text>
<text transform="translate(1512.82 406.1) rotate(-90)" font-size="10.5" text-anchor="end">18</text>
<text transform="translate(1524.46 406.1) rotate(-90)" font-size="10.5" text-anchor="end">19</text>
<text transform="translate(1536.09 406.1) rotate(-90)" font-size="10.5" text-anchor="end">2</text>
<text transform="translate(1547.73 406.1) rotate(-90)" font-size="10.5" text-anchor="end">20-1</text>
<text transform="translate(1559.37 406.1) rotate(-90)" font-size="10.5" text-anchor="end">24-1</text>
<text transform="translate(1571.01 406.1) rotate(-90)" font-size="10.5" text-anchor="end">25-1</text>
<text transform="translate(1582.64 406.1) rotate(-90)" font-size="10.5" text-anchor="end">27</text>
<text transform="translate(1594.28 406.1) rotate(-90)" font-size="10.5" text-anchor="end">28</text>
<text transform="translate(1605.92 406.1) rotate(-90)" font-size="10.5" text-anchor="end">29-1</text>
<text transform="translate(1617.55 406.1) rotate(-90)" font-size="10.5" text-anchor="end">3-1</text>
<text transform="translate(1629.19 406.1) rotate(-90)" font-size="10.5" text-anchor="end">30</text>
<text transform="translate(1640.83 406.1) rotate(-90)" font-size="10.5" text-anchor="end">4-1</text>
<text transform="translate(1652.46 406.1) rotate(-90)" font-size="10.5" text-anchor="end">4-2</text>
<text transform="translate(1664.1 406.1) rotate(-90)" font-size="10.5" text-anchor="end">4-3</text>
<text transform="translate(1675.74 406.1) rotate(-90)" font-size="10.5" text-anchor="end">5-1</text>
<text transform="translate(1687.38 406.1) rotate(-90)" font-size="10.5" text-anchor="end">5-4</text>
<text transform="translate(1699.01 406.1) rotate(-90)" font-size="10.5" text-anchor="end">5-5</text>
<text transform="translate(1710.65 406.1) rotate(-90)" font-size="10.5" text-anchor="end">5-6</text>
<text transform="translate(1722.29 406.1) rotate(-90)" font-size="10.5" text-anchor="end">5-7</text>
<text transform="translate(1733.92 406.1) rotate(-90)" font-size="10.5" text-anchor="end">5-8</text>
<text transform="translate(1745.56 406.1) rotate(-90)" font-size="10.5" text-anchor="end">6-1</text>
<text transform="translate(1757.2 406.1) rotate(-90)" font-size="10.5" text-anchor="end">6-2</text>
<text transform="translate(1768.83 406.1) rotate(-90)" font-size="10.5" text-anchor="end">6-4</text>
<text transform="translate(1780.47 406.1) rotate(-90)" font-size="10.5" text-anchor="end">6-5</text>
<text transform="translate(1792.11 406.1) rotate(-90)" font-size="10.5" text-anchor="end">6-6</text>
<text transform="translate(1803.74 406.1) rotate(-90)" font-size="10.5" text-anchor="end">6-7</text>
<text transform="translate(1815.38 406.1) rotate(-90)" font-size="10.5" text-anchor="end">6-9</text>
<text transform="translate(1827.02 406.1) rotate(-90)" font-size="10.5" text-anchor="end">7-2</text>
<text transform="translate(1838.66 406.1) rotate(-90)" font-size="10.5" text-anchor="end">7-3</text>
<text transform="translate(1850.29 406.1) rotate(-90)" font-size="10.5" text-anchor="end">7-6</text>
<text transform="translate(1861.93 406.1) rotate(-90)" font-size="10.5" text-anchor="end">7-7</text>
<text transform="translate(1873.57 406.1) rotate(-90)" font-size="10.5" text-anchor="end">7-8</text>
<text transform="translate(1885.2 406.1) rotate(-90)" font-size="10.5" text-anchor="end">7-9</text>
<text transform="translate(1896.84 406.1) rotate(-90)" font-size="10.5" text-anchor="end">9</text>
<line x1="1356.2" y1="462" x2="1356.2" y2="554.1" stroke="#000" stroke-width="1.7"/>
<path d="M1356.2 454 L1350 467 L1362.4 467 Z" fill="#000"/>
<line x1="1355.4" y1="553.3" x2="1898.7" y2="555.6" stroke="#000" stroke-width="1.7"/>
<path d="M1908.7 555.6 L1895.2 549 L1895.2 562.2 Z" fill="#000"/>
<text x="1916.5" y="563" font-size="18.2">TRAV</text>
<text transform="translate(1346.5 498) rotate(-90)" font-size="18.6" text-anchor="middle">Age</text>
<rect x="1627.3" y="467.3" width="12.9" height="81.6" fill="#E09B46"/>
<line x1="1627.3" y1="487.7" x2="1640.2" y2="487.7" stroke="#fff" stroke-width="1.5" stroke-opacity="0.5"/>
<line x1="1627.3" y1="508.1" x2="1640.2" y2="508.1" stroke="#fff" stroke-width="1.5" stroke-opacity="0.5"/>
<line x1="1627.3" y1="528.5" x2="1640.2" y2="528.5" stroke="#fff" stroke-width="1.5" stroke-opacity="0.5"/>
<text transform="translate(1636.6 562.6) rotate(-90)" font-size="9.6" text-anchor="end">10</text>
<line x1="1355.6" y1="577.6" x2="1355.6" y2="669.7" stroke="#000" stroke-width="1.7"/>
<path d="M1355.6 569.6 L1349.4 582.6 L1361.8 582.6 Z" fill="#000"/>
<line x1="1354.8" y1="668.9" x2="1898.7" y2="670.8" stroke="#000" stroke-width="1.7"/>
<path d="M1908.7 670.8 L1895.2 664.2 L1895.2 677.4 Z" fill="#000"/>
<text x="1916.5" y="678" font-size="18.2">TRAJ</text>
<text transform="translate(1346.5 613) rotate(-90)" font-size="18.6" text-anchor="middle">Age</text>
<g shape-rendering="crispEdges">
<rect x="1362.9" y="582.9" width="20.19" height="19.6" fill="#5A2968"/>
<rect x="1441.66" y="582.9" width="20.19" height="19.6" fill="#5A2968"/>
<rect x="1481.03" y="582.9" width="20.19" height="19.6" fill="#CC7B58"/>
<rect x="1520.41" y="582.9" width="20.19" height="19.6" fill="#5A2968"/>
<rect x="1540.1" y="582.9" width="20.19" height="19.6" fill="#5A2968"/>
<rect x="1599.17" y="582.9" width="20.19" height="19.6" fill="#5A2968"/>
<rect x="1618.86" y="582.9" width="20.19" height="19.6" fill="#5A2968"/>
<rect x="1638.54" y="582.9" width="20.19" height="19.6" fill="#5A2968"/>
<rect x="1697.61" y="582.9" width="20.19" height="19.6" fill="#5A2968"/>
<rect x="1717.3" y="582.9" width="20.19" height="19.6" fill="#5A2968"/>
<rect x="1815.74" y="582.9" width="20.19" height="19.6" fill="#5A2968"/>
<rect x="1835.43" y="582.9" width="20.19" height="19.6" fill="#5A2968"/>
<rect x="1421.97" y="602.1" width="20.19" height="20.25" fill="#5A2968"/>
<rect x="1461.34" y="602.1" width="20.19" height="20.25" fill="#5A2968"/>
<rect x="1481.03" y="602.1" width="20.19" height="20.25" fill="#E09B47"/>
<rect x="1520.41" y="602.1" width="20.19" height="20.25" fill="#5A2968"/>
<rect x="1638.54" y="602.1" width="20.19" height="20.25" fill="#5A2968"/>
<rect x="1697.61" y="602.1" width="20.19" height="20.25" fill="#5A2968"/>
<rect x="1736.99" y="602.1" width="20.19" height="20.25" fill="#5A2968"/>
<rect x="1776.37" y="602.1" width="20.19" height="20.25" fill="#5A2968"/>
<rect x="1815.74" y="602.1" width="20.19" height="20.25" fill="#5A2968"/>
<rect x="1835.43" y="602.1" width="20.19" height="20.25" fill="#5A2968"/>
<rect x="1855.12" y="602.1" width="20.19" height="20.25" fill="#5A2968"/>
<rect x="1362.9" y="621.95" width="20.19" height="20.25" fill="#5A2968"/>
<rect x="1421.97" y="621.95" width="20.19" height="20.25" fill="#5A2968"/>
<rect x="1441.66" y="621.95" width="20.19" height="20.25" fill="#5A2968"/>
<rect x="1481.03" y="621.95" width="20.19" height="20.25" fill="#E19C46"/>
<rect x="1618.86" y="621.95" width="20.19" height="20.25" fill="#5A2968"/>
<rect x="1658.23" y="621.95" width="20.19" height="20.25" fill="#5A2968"/>
<rect x="1736.99" y="621.95" width="20.19" height="20.25" fill="#5A2968"/>
<rect x="1796.06" y="621.95" width="20.19" height="20.25" fill="#5A2968"/>
<rect x="1835.43" y="621.95" width="20.19" height="20.25" fill="#5A2968"/>
<rect x="1874.81" y="621.95" width="20.19" height="20.25" fill="#5A2968"/>
<rect x="1362.9" y="641.8" width="20.19" height="19.6" fill="#5A2968"/>
<rect x="1382.59" y="641.8" width="20.19" height="19.6" fill="#5A2968"/>
<rect x="1402.28" y="641.8" width="20.19" height="19.6" fill="#5A2968"/>
<rect x="1421.97" y="641.8" width="20.19" height="19.6" fill="#5A2968"/>
<rect x="1461.34" y="641.8" width="20.19" height="19.6" fill="#5A2968"/>
<rect x="1481.03" y="641.8" width="20.19" height="19.6" fill="#E5A045"/>
<rect x="1500.72" y="641.8" width="20.19" height="19.6" fill="#5A2968"/>
<rect x="1540.1" y="641.8" width="20.19" height="19.6" fill="#5A2968"/>
<rect x="1559.79" y="641.8" width="20.19" height="19.6" fill="#5A2968"/>
<rect x="1579.48" y="641.8" width="20.19" height="19.6" fill="#5A2968"/>
<rect x="1677.92" y="641.8" width="20.19" height="19.6" fill="#5A2968"/>
<rect x="1697.61" y="641.8" width="20.19" height="19.6" fill="#5A2968"/>
<rect x="1756.68" y="641.8" width="20.19" height="19.6" fill="#5A2968"/>
<rect x="1796.06" y="641.8" width="20.19" height="19.6" fill="#5A2968"/>
</g>
<line x1="1540.1" y1="582.9" x2="1540.1" y2="602.1" stroke="#2c0f3e" stroke-width="0.9" stroke-opacity="0.35"/>
<line x1="1618.86" y1="582.9" x2="1618.86" y2="602.1" stroke="#2c0f3e" stroke-width="0.9" stroke-opacity="0.35"/>
<line x1="1638.54" y1="582.9" x2="1638.54" y2="602.1" stroke="#2c0f3e" stroke-width="0.9" stroke-opacity="0.35"/>
<line x1="1717.3" y1="582.9" x2="1717.3" y2="602.1" stroke="#2c0f3e" stroke-width="0.9" stroke-opacity="0.35"/>
<line x1="1835.43" y1="582.9" x2="1835.43" y2="602.1" stroke="#2c0f3e" stroke-width="0.9" stroke-opacity="0.35"/>
<line x1="1481.03" y1="602.1" x2="1481.03" y2="621.95" stroke="#2c0f3e" stroke-width="0.9" stroke-opacity="0.35"/>
<line x1="1835.43" y1="602.1" x2="1835.43" y2="621.95" stroke="#2c0f3e" stroke-width="0.9" stroke-opacity="0.35"/>
<line x1="1855.12" y1="602.1" x2="1855.12" y2="621.95" stroke="#2c0f3e" stroke-width="0.9" stroke-opacity="0.35"/>
<line x1="1441.66" y1="621.95" x2="1441.66" y2="641.8" stroke="#2c0f3e" stroke-width="0.9" stroke-opacity="0.35"/>
<line x1="1382.59" y1="641.8" x2="1382.59" y2="661" stroke="#2c0f3e" stroke-width="0.9" stroke-opacity="0.35"/>
<line x1="1402.28" y1="641.8" x2="1402.28" y2="661" stroke="#2c0f3e" stroke-width="0.9" stroke-opacity="0.35"/>
<line x1="1421.97" y1="641.8" x2="1421.97" y2="661" stroke="#2c0f3e" stroke-width="0.9" stroke-opacity="0.35"/>
<line x1="1481.03" y1="641.8" x2="1481.03" y2="661" stroke="#2c0f3e" stroke-width="0.9" stroke-opacity="0.35"/>
<line x1="1500.72" y1="641.8" x2="1500.72" y2="661" stroke="#2c0f3e" stroke-width="0.9" stroke-opacity="0.35"/>
<line x1="1559.79" y1="641.8" x2="1559.79" y2="661" stroke="#2c0f3e" stroke-width="0.9" stroke-opacity="0.35"/>
<line x1="1579.48" y1="641.8" x2="1579.48" y2="661" stroke="#2c0f3e" stroke-width="0.9" stroke-opacity="0.35"/>
<line x1="1697.61" y1="641.8" x2="1697.61" y2="661" stroke="#2c0f3e" stroke-width="0.9" stroke-opacity="0.35"/>
<line x1="1362.4" y1="602.1" x2="1895" y2="602.1" stroke="#fff" stroke-width="1.7" stroke-opacity="0.5"/>
<line x1="1362.4" y1="621.95" x2="1895" y2="621.95" stroke="#fff" stroke-width="1.7" stroke-opacity="0.5"/>
<line x1="1362.4" y1="641.8" x2="1895" y2="641.8" stroke="#fff" stroke-width="1.7" stroke-opacity="0.5"/>
<text transform="translate(1376.43 677.2) rotate(-90)" font-size="10.3" text-anchor="end">10</text>
<text transform="translate(1396.12 677.2) rotate(-90)" font-size="10.3" text-anchor="end">12</text>
<text transform="translate(1415.81 677.2) rotate(-90)" font-size="10.3" text-anchor="end">13</text>
<text transform="translate(1435.5 677.2) rotate(-90)" font-size="10.3" text-anchor="end">15</text>
<text transform="translate(1455.19 677.2) rotate(-90)" font-size="10.3" text-anchor="end">16</text>
<text transform="translate(1474.88 677.2) rotate(-90)" font-size="10.3" text-anchor="end">17</text>
<text transform="translate(1494.57 677.2) rotate(-90)" font-size="10.3" text-anchor="end">18</text>
<text transform="translate(1514.25 677.2) rotate(-90)" font-size="10.3" text-anchor="end">21</text>
<text transform="translate(1533.94 677.2) rotate(-90)" font-size="10.3" text-anchor="end">24</text>
<text transform="translate(1553.63 677.2) rotate(-90)" font-size="10.3" text-anchor="end">27</text>
<text transform="translate(1573.32 677.2) rotate(-90)" font-size="10.3" text-anchor="end">28</text>
<text transform="translate(1593.01 677.2) rotate(-90)" font-size="10.3" text-anchor="end">3</text>
<text transform="translate(1612.7 677.2) rotate(-90)" font-size="10.3" text-anchor="end">31</text>
<text transform="translate(1632.39 677.2) rotate(-90)" font-size="10.3" text-anchor="end">34</text>
<text transform="translate(1652.08 677.2) rotate(-90)" font-size="10.3" text-anchor="end">35</text>
<text transform="translate(1671.77 677.2) rotate(-90)" font-size="10.3" text-anchor="end">38</text>
<text transform="translate(1691.45 677.2) rotate(-90)" font-size="10.3" text-anchor="end">39</text>
<text transform="translate(1711.14 677.2) rotate(-90)" font-size="10.3" text-anchor="end">4</text>
<text transform="translate(1730.83 677.2) rotate(-90)" font-size="10.3" text-anchor="end">40</text>
<text transform="translate(1750.52 677.2) rotate(-90)" font-size="10.3" text-anchor="end">41</text>
<text transform="translate(1770.21 677.2) rotate(-90)" font-size="10.3" text-anchor="end">43</text>
<text transform="translate(1789.9 677.2) rotate(-90)" font-size="10.3" text-anchor="end">44</text>
<text transform="translate(1809.59 677.2) rotate(-90)" font-size="10.3" text-anchor="end">47</text>
<text transform="translate(1829.28 677.2) rotate(-90)" font-size="10.3" text-anchor="end">6</text>
<text transform="translate(1848.97 677.2) rotate(-90)" font-size="10.3" text-anchor="end">7</text>
<text transform="translate(1868.65 677.2) rotate(-90)" font-size="10.3" text-anchor="end">8</text>
<text transform="translate(1888.34 677.2) rotate(-90)" font-size="10.3" text-anchor="end">9</text>
<line x1="1355" y1="690.5" x2="1355" y2="783.3" stroke="#000" stroke-width="1.7"/>
<path d="M1355 682.5 L1348.8 695.5 L1361.2 695.5 Z" fill="#000"/>
<line x1="1354.2" y1="782.5" x2="1898.7" y2="784.4" stroke="#000" stroke-width="1.7"/>
<path d="M1908.7 784.4 L1895.2 777.8 L1895.2 791 Z" fill="#000"/>
<text x="1915.5" y="791.5" font-size="18.2">TRBV</text>
<text transform="translate(1346.5 727) rotate(-90)" font-size="18.6" text-anchor="middle">Age</text>
<g shape-rendering="crispEdges">
<rect x="1450.85" y="696.3" width="15.32" height="19.75" fill="#5A2968"/>
<rect x="1539.8" y="696.3" width="15.32" height="19.75" fill="#5A2968"/>
<rect x="1569.45" y="696.3" width="15.32" height="19.75" fill="#CC7B58"/>
<rect x="1613.92" y="696.3" width="15.32" height="19.75" fill="#5A2968"/>
<rect x="1643.58" y="696.3" width="15.32" height="19.75" fill="#5A2968"/>
<rect x="1673.22" y="696.3" width="15.32" height="19.75" fill="#5A2968"/>
<rect x="1732.53" y="696.3" width="15.32" height="19.75" fill="#5A2968"/>
<rect x="1747.35" y="696.3" width="15.32" height="19.75" fill="#5A2968"/>
<rect x="1762.17" y="696.3" width="15.32" height="19.75" fill="#712E6B"/>
<rect x="1777" y="696.3" width="15.32" height="19.75" fill="#5A2968"/>
<rect x="1821.47" y="696.3" width="15.32" height="19.75" fill="#5A2968"/>
<rect x="1406.38" y="715.65" width="15.32" height="20.6" fill="#5A2968"/>
<rect x="1465.68" y="715.65" width="15.32" height="20.6" fill="#5A2968"/>
<rect x="1480.5" y="715.65" width="15.32" height="20.6" fill="#5A2968"/>
<rect x="1510.15" y="715.65" width="15.32" height="20.6" fill="#5A2968"/>
<rect x="1539.8" y="715.65" width="15.32" height="20.6" fill="#5A2968"/>
<rect x="1569.45" y="715.65" width="15.32" height="20.6" fill="#E09B47"/>
<rect x="1584.28" y="715.65" width="15.32" height="20.6" fill="#5A2968"/>
<rect x="1613.92" y="715.65" width="15.32" height="20.6" fill="#5A2968"/>
<rect x="1658.4" y="715.65" width="15.32" height="20.6" fill="#5A2968"/>
<rect x="1673.22" y="715.65" width="15.32" height="20.6" fill="#5A2968"/>
<rect x="1688.05" y="715.65" width="15.32" height="20.6" fill="#5A2968"/>
<rect x="1702.88" y="715.65" width="15.32" height="20.6" fill="#5A2968"/>
<rect x="1732.53" y="715.65" width="15.32" height="20.6" fill="#5A2968"/>
<rect x="1747.35" y="715.65" width="15.32" height="20.6" fill="#5A2968"/>
<rect x="1762.17" y="715.65" width="15.32" height="20.6" fill="#5A2968"/>
<rect x="1777" y="715.65" width="15.32" height="20.6" fill="#5A2968"/>
<rect x="1791.83" y="715.65" width="15.32" height="20.6" fill="#5A2968"/>
<rect x="1806.65" y="715.65" width="15.32" height="20.6" fill="#5A2968"/>
<rect x="1821.47" y="715.65" width="15.32" height="20.6" fill="#5A2968"/>
<rect x="1836.3" y="715.65" width="15.32" height="20.6" fill="#5A2968"/>
<rect x="1880.78" y="715.65" width="15.32" height="20.6" fill="#5A2968"/>
<rect x="1361.9" y="735.85" width="15.32" height="20.6" fill="#5A2968"/>
<rect x="1391.55" y="735.85" width="15.32" height="20.6" fill="#5A2968"/>
<rect x="1539.8" y="735.85" width="15.32" height="20.6" fill="#5A2968"/>
<rect x="1554.62" y="735.85" width="15.32" height="20.6" fill="#5A2968"/>
<rect x="1569.45" y="735.85" width="15.32" height="20.6" fill="#E19C46"/>
<rect x="1584.28" y="735.85" width="15.32" height="20.6" fill="#5A2968"/>
<rect x="1613.92" y="735.85" width="15.32" height="20.6" fill="#5A2968"/>
<rect x="1628.75" y="735.85" width="15.32" height="20.6" fill="#5A2968"/>
<rect x="1673.22" y="735.85" width="15.32" height="20.6" fill="#5A2968"/>
<rect x="1688.05" y="735.85" width="15.32" height="20.6" fill="#5A2968"/>
<rect x="1702.88" y="735.85" width="15.32" height="20.6" fill="#5A2968"/>
<rect x="1732.53" y="735.85" width="15.32" height="20.6" fill="#5A2968"/>
<rect x="1747.35" y="735.85" width="15.32" height="20.6" fill="#5A2968"/>
<rect x="1836.3" y="735.85" width="15.32" height="20.6" fill="#5A2968"/>
<rect x="1361.9" y="756.05" width="15.32" height="19.75" fill="#5A2968"/>
<rect x="1376.73" y="756.05" width="15.32" height="19.75" fill="#5A2968"/>
<rect x="1391.55" y="756.05" width="15.32" height="19.75" fill="#5A2968"/>
<rect x="1421.2" y="756.05" width="15.32" height="19.75" fill="#5A2968"/>
<rect x="1436.03" y="756.05" width="15.32" height="19.75" fill="#5A2968"/>
<rect x="1465.68" y="756.05" width="15.32" height="19.75" fill="#5A2968"/>
<rect x="1495.33" y="756.05" width="15.32" height="19.75" fill="#5A2968"/>
<rect x="1510.15" y="756.05" width="15.32" height="19.75" fill="#5A2968"/>
<rect x="1524.98" y="756.05" width="15.32" height="19.75" fill="#5A2968"/>
<rect x="1539.8" y="756.05" width="15.32" height="19.75" fill="#5A2968"/>
<rect x="1569.45" y="756.05" width="15.32" height="19.75" fill="#E5A045"/>
<rect x="1584.28" y="756.05" width="15.32" height="19.75" fill="#5A2968"/>
<rect x="1599.1" y="756.05" width="15.32" height="19.75" fill="#5A2968"/>
<rect x="1613.92" y="756.05" width="15.32" height="19.75" fill="#5A2968"/>
<rect x="1658.4" y="756.05" width="15.32" height="19.75" fill="#5A2968"/>
<rect x="1702.88" y="756.05" width="15.32" height="19.75" fill="#5A2968"/>
<rect x="1717.7" y="756.05" width="15.32" height="19.75" fill="#5A2968"/>
<rect x="1732.53" y="756.05" width="15.32" height="19.75" fill="#5A2968"/>
<rect x="1777" y="756.05" width="15.32" height="19.75" fill="#5A2968"/>
<rect x="1821.47" y="756.05" width="15.32" height="19.75" fill="#5A2968"/>
<rect x="1836.3" y="756.05" width="15.32" height="19.75" fill="#5A2968"/>
<rect x="1851.12" y="756.05" width="15.32" height="19.75" fill="#5A2968"/>
<rect x="1865.95" y="756.05" width="15.32" height="19.75" fill="#5A2968"/>
</g>
<line x1="1747.35" y1="696.3" x2="1747.35" y2="715.65" stroke="#2c0f3e" stroke-width="0.9" stroke-opacity="0.35"/>
<line x1="1762.17" y1="696.3" x2="1762.17" y2="715.65" stroke="#2c0f3e" stroke-width="0.9" stroke-opacity="0.35"/>
<line x1="1777" y1="696.3" x2="1777" y2="715.65" stroke="#2c0f3e" stroke-width="0.9" stroke-opacity="0.35"/>
<line x1="1480.5" y1="715.65" x2="1480.5" y2="735.85" stroke="#2c0f3e" stroke-width="0.9" stroke-opacity="0.35"/>
<line x1="1584.28" y1="715.65" x2="1584.28" y2="735.85" stroke="#2c0f3e" stroke-width="0.9" stroke-opacity="0.35"/>
<line x1="1673.22" y1="715.65" x2="1673.22" y2="735.85" stroke="#2c0f3e" stroke-width="0.9" stroke-opacity="0.35"/>
<line x1="1688.05" y1="715.65" x2="1688.05" y2="735.85" stroke="#2c0f3e" stroke-width="0.9" stroke-opacity="0.35"/>
<line x1="1702.88" y1="715.65" x2="1702.88" y2="735.85" stroke="#2c0f3e" stroke-width="0.9" stroke-opacity="0.35"/>
<line x1="1747.35" y1="715.65" x2="1747.35" y2="735.85" stroke="#2c0f3e" stroke-width="0.9" stroke-opacity="0.35"/>
<line x1="1762.17" y1="715.65" x2="1762.17" y2="735.85" stroke="#2c0f3e" stroke-width="0.9" stroke-opacity="0.35"/>
<line x1="1777" y1="715.65" x2="1777" y2="735.85" stroke="#2c0f3e" stroke-width="0.9" stroke-opacity="0.35"/>
<line x1="1791.83" y1="715.65" x2="1791.83" y2="735.85" stroke="#2c0f3e" stroke-width="0.9" stroke-opacity="0.35"/>
<line x1="1806.65" y1="715.65" x2="1806.65" y2="735.85" stroke="#2c0f3e" stroke-width="0.9" stroke-opacity="0.35"/>
<line x1="1821.47" y1="715.65" x2="1821.47" y2="735.85" stroke="#2c0f3e" stroke-width="0.9" stroke-opacity="0.35"/>
<line x1="1836.3" y1="715.65" x2="1836.3" y2="735.85" stroke="#2c0f3e" stroke-width="0.9" stroke-opacity="0.35"/>
<line x1="1554.62" y1="735.85" x2="1554.62" y2="756.05" stroke="#2c0f3e" stroke-width="0.9" stroke-opacity="0.35"/>
<line x1="1569.45" y1="735.85" x2="1569.45" y2="756.05" stroke="#2c0f3e" stroke-width="0.9" stroke-opacity="0.35"/>
<line x1="1584.28" y1="735.85" x2="1584.28" y2="756.05" stroke="#2c0f3e" stroke-width="0.9" stroke-opacity="0.35"/>
<line x1="1628.75" y1="735.85" x2="1628.75" y2="756.05" stroke="#2c0f3e" stroke-width="0.9" stroke-opacity="0.35"/>
<line x1="1688.05" y1="735.85" x2="1688.05" y2="756.05" stroke="#2c0f3e" stroke-width="0.9" stroke-opacity="0.35"/>
<line x1="1702.88" y1="735.85" x2="1702.88" y2="756.05" stroke="#2c0f3e" stroke-width="0.9" stroke-opacity="0.35"/>
<line x1="1747.35" y1="735.85" x2="1747.35" y2="756.05" stroke="#2c0f3e" stroke-width="0.9" stroke-opacity="0.35"/>
<line x1="1376.73" y1="756.05" x2="1376.73" y2="775.4" stroke="#2c0f3e" stroke-width="0.9" stroke-opacity="0.35"/>
<line x1="1391.55" y1="756.05" x2="1391.55" y2="775.4" stroke="#2c0f3e" stroke-width="0.9" stroke-opacity="0.35"/>
<line x1="1436.03" y1="756.05" x2="1436.03" y2="775.4" stroke="#2c0f3e" stroke-width="0.9" stroke-opacity="0.35"/>
<line x1="1510.15" y1="756.05" x2="1510.15" y2="775.4" stroke="#2c0f3e" stroke-width="0.9" stroke-opacity="0.35"/>
<line x1="1524.98" y1="756.05" x2="1524.98" y2="775.4" stroke="#2c0f3e" stroke-width="0.9" stroke-opacity="0.35"/>
<line x1="1539.8" y1="756.05" x2="1539.8" y2="775.4" stroke="#2c0f3e" stroke-width="0.9" stroke-opacity="0.35"/>
<line x1="1584.28" y1="756.05" x2="1584.28" y2="775.4" stroke="#2c0f3e" stroke-width="0.9" stroke-opacity="0.35"/>
<line x1="1599.1" y1="756.05" x2="1599.1" y2="775.4" stroke="#2c0f3e" stroke-width="0.9" stroke-opacity="0.35"/>
<line x1="1613.92" y1="756.05" x2="1613.92" y2="775.4" stroke="#2c0f3e" stroke-width="0.9" stroke-opacity="0.35"/>
<line x1="1717.7" y1="756.05" x2="1717.7" y2="775.4" stroke="#2c0f3e" stroke-width="0.9" stroke-opacity="0.35"/>
<line x1="1732.53" y1="756.05" x2="1732.53" y2="775.4" stroke="#2c0f3e" stroke-width="0.9" stroke-opacity="0.35"/>
<line x1="1836.3" y1="756.05" x2="1836.3" y2="775.4" stroke="#2c0f3e" stroke-width="0.9" stroke-opacity="0.35"/>
<line x1="1851.12" y1="756.05" x2="1851.12" y2="775.4" stroke="#2c0f3e" stroke-width="0.9" stroke-opacity="0.35"/>
<line x1="1865.95" y1="756.05" x2="1865.95" y2="775.4" stroke="#2c0f3e" stroke-width="0.9" stroke-opacity="0.35"/>
<line x1="1361.4" y1="715.65" x2="1896.1" y2="715.65" stroke="#fff" stroke-width="1.7" stroke-opacity="0.5"/>
<line x1="1361.4" y1="735.85" x2="1896.1" y2="735.85" stroke="#fff" stroke-width="1.7" stroke-opacity="0.5"/>
<line x1="1361.4" y1="756.05" x2="1896.1" y2="756.05" stroke="#fff" stroke-width="1.7" stroke-opacity="0.5"/>
<text transform="translate(1373.72 791.9) rotate(-90)" font-size="12.3" text-anchor="end">10-1</text>
<text transform="translate(1388.54 791.9) rotate(-90)" font-size="12.3" text-anchor="end">10-2</text>
<text transform="translate(1403.37 791.9) rotate(-90)" font-size="12.3" text-anchor="end">10-3</text>
<text transform="translate(1418.19 791.9) rotate(-90)" font-size="12.3" text-anchor="end">11-2</text>
<text transform="translate(1433.02 791.9) rotate(-90)" font-size="12.3" text-anchor="end">12-3</text>
<text transform="translate(1447.84 791.9) rotate(-90)" font-size="12.3" text-anchor="end">12-4</text>
<text transform="translate(1462.67 791.9) rotate(-90)" font-size="12.3" text-anchor="end">12-5</text>
<text transform="translate(1477.49 791.9) rotate(-90)" font-size="12.3" text-anchor="end">13</text>
<text transform="translate(1492.32 791.9) rotate(-90)" font-size="12.3" text-anchor="end">15</text>
<text transform="translate(1507.14 791.9) rotate(-90)" font-size="12.3" text-anchor="end">18</text>
<text transform="translate(1521.97 791.9) rotate(-90)" font-size="12.3" text-anchor="end">19</text>
<text transform="translate(1536.79 791.9) rotate(-90)" font-size="12.3" text-anchor="end">2</text>
<text transform="translate(1551.62 791.9) rotate(-90)" font-size="12.3" text-anchor="end">20-1</text>
<text transform="translate(1566.44 791.9) rotate(-90)" font-size="12.3" text-anchor="end">24-1</text>
<text transform="translate(1581.27 791.9) rotate(-90)" font-size="12.3" text-anchor="end">25-1</text>
<text transform="translate(1596.09 791.9) rotate(-90)" font-size="12.3" text-anchor="end">27</text>
<text transform="translate(1610.92 791.9) rotate(-90)" font-size="12.3" text-anchor="end">28</text>
<text transform="translate(1625.74 791.9) rotate(-90)" font-size="12.3" text-anchor="end">29-1</text>
<text transform="translate(1640.57 791.9) rotate(-90)" font-size="12.3" text-anchor="end">3-1</text>
<text transform="translate(1655.39 791.9) rotate(-90)" font-size="12.3" text-anchor="end">30</text>
<text transform="translate(1670.22 791.9) rotate(-90)" font-size="12.3" text-anchor="end">4-1</text>
<text transform="translate(1685.04 791.9) rotate(-90)" font-size="12.3" text-anchor="end">4-2</text>
<text transform="translate(1699.87 791.9) rotate(-90)" font-size="12.3" text-anchor="end">4-3</text>
<text transform="translate(1714.69 791.9) rotate(-90)" font-size="12.3" text-anchor="end">5-1</text>
<text transform="translate(1729.52 791.9) rotate(-90)" font-size="12.3" text-anchor="end">5-6</text>
<text transform="translate(1744.34 791.9) rotate(-90)" font-size="12.3" text-anchor="end">6-1</text>
<text transform="translate(1759.17 791.9) rotate(-90)" font-size="12.3" text-anchor="end">6-2</text>
<text transform="translate(1773.99 791.9) rotate(-90)" font-size="12.3" text-anchor="end">6-4</text>
<text transform="translate(1788.82 791.9) rotate(-90)" font-size="12.3" text-anchor="end">6-5</text>
<text transform="translate(1803.64 791.9) rotate(-90)" font-size="12.3" text-anchor="end">6-6</text>
<text transform="translate(1818.47 791.9) rotate(-90)" font-size="12.3" text-anchor="end">7-2</text>
<text transform="translate(1833.29 791.9) rotate(-90)" font-size="12.3" text-anchor="end">7-3</text>
<text transform="translate(1848.12 791.9) rotate(-90)" font-size="12.3" text-anchor="end">7-6</text>
<text transform="translate(1862.94 791.9) rotate(-90)" font-size="12.3" text-anchor="end">7-8</text>
<text transform="translate(1877.77 791.9) rotate(-90)" font-size="12.3" text-anchor="end">7-9</text>
<text transform="translate(1892.59 791.9) rotate(-90)" font-size="12.3" text-anchor="end">9</text>
<text x="21" y="946" font-size="37" font-weight="bold">c</text>
<text x="241" y="1008" font-size="37.6" text-anchor="middle">MAIT</text>
<text x="241" y="1053.5" font-size="37.6" text-anchor="middle">(TRAV1-2)</text>
<defs><linearGradient id="mg" gradientUnits="userSpaceOnUse" x1="37" y1="0" x2="432" y2="0"><stop offset="0" stop-color="#E7572B"/><stop offset="0.36" stop-color="#E7572B"/><stop offset="0.40" stop-color="#EC8433"/><stop offset="0.50" stop-color="#F0A544"/><stop offset="0.54" stop-color="#F2C96C"/><stop offset="1" stop-color="#F1D184"/></linearGradient></defs>
<g>
<circle cx="234.6" cy="1313" r="185.8" fill="url(#mg)"/>
<path d="M74.73 1215.41 A187.3 187.3 0 0 0 66.26 1395.11 Q234.6 1313 74.73 1215.41 Z" fill="#fff"/>
<path d="M419.28 1344.24 A187.3 187.3 0 0 0 415.85 1265.79 Q234.6 1313 419.28 1344.24 Z" fill="#fff"/>
<path d="M313.36 1329.22 Q293 1377.86 359.93 1452.19 A187.3 187.3 0 0 0 389.33 1418.55 Q324.34 1374.22 313.36 1329.22 Z" fill="#FFFDF7"/>
<path d="M408.06 1246.42 A185.8 185.8 0 0 0 342.23 1161.55 Q234.6 1313 276.4 1494.04 A185.8 185.8 0 0 0 358.92 1451.08 Q234.6 1313 408.06 1246.42 Z" fill="#F1CF7E" stroke="#fff" stroke-width="1" stroke-linejoin="round"/>
<path d="M341.17 1160.8 A185.8 185.8 0 0 0 319.82 1147.89 Q234.6 1313 257.24 1497.42 A185.8 185.8 0 0 0 276.4 1494.04 Q234.6 1313 341.17 1160.8 Z" fill="#F2CB72" stroke="#fff" stroke-width="1" stroke-linejoin="round"/>
<path d="M318.37 1147.16 A185.8 185.8 0 0 0 267.5 1130.14 Q234.6 1313 218.41 1498.09 A185.8 185.8 0 0 0 257.24 1497.42 Q234.6 1313 318.37 1147.16 Z" fill="#F2C96C" stroke="#fff" stroke-width="1" stroke-linejoin="round"/>
<path d="M413.2 1261.79 A185.8 185.8 0 0 0 408.86 1248.54 Q234.6 1313 351.53 1457.39 A185.8 185.8 0 0 0 358.92 1451.08 Q234.6 1313 413.2 1261.79 Z" fill="#F1D080" stroke="#fff" stroke-width="1" stroke-linejoin="round"/>
<path d="M393.86 1408.69 A185.8 185.8 0 0 0 405.25 1386.49 Q234.6 1313 384.92 1203.79 A185.8 185.8 0 0 0 361.32 1177.11 Q234.6 1313 393.86 1408.69 Z" fill="#EEC86E" stroke="#fff" stroke-width="1" stroke-linejoin="round"/>
<path d="M390.42 1414.19 A185.8 185.8 0 0 0 393.86 1408.69 Q234.6 1313 247.56 1127.65 A185.8 185.8 0 0 0 215.18 1128.22 Q234.6 1313 390.42 1414.19 Z" fill="#EF9A3E" stroke="#fff" stroke-width="0.5" stroke-linejoin="round"/>
<path d="M387.91 1417.97 A185.8 185.8 0 0 0 390.42 1414.19 Q234.6 1313 125.39 1162.68 A185.8 185.8 0 0 0 115.17 1170.67 Q234.6 1313 387.91 1417.97 Z" fill="#DD4B2A" stroke="#fff" stroke-width="0.5" stroke-linejoin="round"/>
<path d="M412.09 1367.94 A185.8 185.8 0 0 0 413.73 1362.34 Q234.6 1313 112.7 1172.77 A185.8 185.8 0 0 0 100.95 1183.93 Q234.6 1313 412.09 1367.94 Z" fill="#E1532B" stroke="#fff" stroke-width="0.5" stroke-linejoin="round"/>
<path d="M413.73 1362.34 A185.8 185.8 0 0 0 414.88 1357.95 Q234.6 1313 208.74 1129.01 A185.8 185.8 0 0 0 183.39 1134.4 Q234.6 1313 413.73 1362.34 Z" fill="#EE8E39" stroke="#fff" stroke-width="0.4" stroke-linejoin="round"/>
<path d="M414.88 1357.95 A185.8 185.8 0 0 0 417.85 1343.67 Q234.6 1313 321.83 1148.95 A185.8 185.8 0 0 0 292.02 1136.29 Q234.6 1313 414.88 1357.95 Z" fill="#EFBE62" stroke="#fff" stroke-width="0.6" stroke-linejoin="round"/>
<path d="M241.73 1127.34 A185.8 185.8 0 0 0 232.33 1127.21 Q234.6 1313 211.31 1497.33 A185.8 185.8 0 0 0 219.05 1498.15 Q234.6 1313 241.73 1127.34 Z" fill="#F0A544" stroke="#fff" stroke-width="1.1" stroke-linejoin="round"/>
<path d="M229.09 1127.28 A185.8 185.8 0 0 0 207.78 1129.15 Q234.6 1313 196.6 1494.87 A185.8 185.8 0 0 0 211.31 1497.33 Q234.6 1313 229.09 1127.28 Z" fill="#EF9C3F" stroke="#fff" stroke-width="1.1" stroke-linejoin="round"/>
<path d="M204.89 1129.59 A185.8 185.8 0 0 0 198.83 1130.68 Q234.6 1313 192.17 1493.89 A185.8 185.8 0 0 0 196.6 1494.87 Q234.6 1313 204.89 1129.59 Z" fill="#EF963C" stroke="#fff" stroke-width="1.1" stroke-linejoin="round"/>
<path d="M195.97 1131.26 A185.8 185.8 0 0 0 187.14 1133.36 Q234.6 1313 185.26 1492.13 A185.8 185.8 0 0 0 192.17 1493.89 Q234.6 1313 195.97 1131.26 Z" fill="#EE9239" stroke="#fff" stroke-width="1.1" stroke-linejoin="round"/>
<path d="M183.7 1134.31 A185.8 185.8 0 0 0 176.57 1136.5 Q234.6 1313 179.66 1490.49 A185.8 185.8 0 0 0 185.26 1492.13 Q234.6 1313 183.7 1134.31 Z" fill="#EE8E37" stroke="#fff" stroke-width="1.1" stroke-linejoin="round"/>
<path d="M174.42 1137.22 A185.8 185.8 0 0 0 168.02 1139.54 Q234.6 1313 174.11 1488.68 A185.8 185.8 0 0 0 179.66 1490.49 Q234.6 1313 174.42 1137.22 Z" fill="#ED8A35" stroke="#fff" stroke-width="1.1" stroke-linejoin="round"/>
<path d="M165.3 1140.61 A185.8 185.8 0 0 0 152.57 1146.29 Q234.6 1313 163.8 1484.78 A185.8 185.8 0 0 0 174.11 1488.68 Q234.6 1313 165.3 1140.61 Z" fill="#EC8433" stroke="#fff" stroke-width="1.1" stroke-linejoin="round"/>
<path d="M148.81 1148.19 A185.8 185.8 0 0 0 143.11 1151.29 Q234.6 1313 159.62 1483 A185.8 185.8 0 0 0 163.8 1484.78 Q234.6 1313 148.81 1148.19 Z" fill="#EB7C31" stroke="#fff" stroke-width="1.1" stroke-linejoin="round"/>
<path d="M138.91 1153.74 A185.8 185.8 0 0 0 134.22 1156.65 Q234.6 1313 156.08 1481.39 A185.8 185.8 0 0 0 159.62 1483 Q234.6 1313 138.91 1153.74 Z" fill="#EA742F" stroke="#fff" stroke-width="1.1" stroke-linejoin="round"/>
<path d="M129.63 1159.69 A185.8 185.8 0 0 0 76.35 1215.64 Q234.6 1313 81.48 1418.24 A185.8 185.8 0 0 0 156.08 1481.39 Q234.6 1313 129.63 1159.69 Z" fill="#E7572B" stroke="#fff" stroke-width="0.8" stroke-linejoin="round"/>
<path d="M74.84 1218.14 A185.8 185.8 0 0 0 65.13 1236.84 Q234.6 1313 75.34 1408.69 A185.8 185.8 0 0 0 81.48 1418.24 Q234.6 1313 74.84 1218.14 Z" fill="#E4502A" stroke="#fff" stroke-width="1.2" stroke-linejoin="round"/>
<path d="M63.57 1240.4 A185.8 185.8 0 0 0 59.35 1251.28 Q234.6 1313 71.47 1401.94 A185.8 185.8 0 0 0 75.34 1408.69 Q234.6 1313 63.57 1240.4 Z" fill="#DE4529" stroke="#fff" stroke-width="1.2" stroke-linejoin="round"/>
<path d="M57.89 1255.58 Q234.6 1313 71.16 1401.37" fill="none" stroke="#B8322B" stroke-width="1" stroke-opacity="0.95"/>
<path d="M56.09 1261.47 Q234.6 1313 70.75 1400.6" fill="none" stroke="#B8322B" stroke-width="1" stroke-opacity="0.89"/>
<path d="M54.48 1267.42 Q234.6 1313 70.34 1399.83" fill="none" stroke="#B8322B" stroke-width="1" stroke-opacity="0.83"/>
<path d="M53.06 1273.42 Q234.6 1313 69.93 1399.05" fill="none" stroke="#B8322B" stroke-width="1" stroke-opacity="0.77"/>
<path d="M51.85 1279.46 Q234.6 1313 69.52 1398.27" fill="none" stroke="#B8322B" stroke-width="1" stroke-opacity="0.71"/>
<path d="M50.84 1285.54 Q234.6 1313 69.12 1397.5" fill="none" stroke="#B8322B" stroke-width="0.7" stroke-opacity="0.65"/>
<path d="M50.03 1291.64 Q234.6 1313 68.73 1396.72" fill="none" stroke="#B8322B" stroke-width="0.7" stroke-opacity="0.59"/>
<path d="M49.42 1297.78 Q234.6 1313 68.34 1395.93" fill="none" stroke="#B8322B" stroke-width="0.7" stroke-opacity="0.53"/>
<path d="M49.02 1303.92 Q234.6 1313 67.95 1395.15" fill="none" stroke="#B8322B" stroke-width="0.7" stroke-opacity="0.47"/>
<path d="M50.61 1338.86 Q234.6 1313 128.03 1160.8" fill="none" stroke="#E8A070" stroke-width="0.6" stroke-opacity="0.55"/>
<path d="M51.97 1347.18 Q234.6 1313 120.21 1166.59" fill="none" stroke="#E8A070" stroke-width="0.6" stroke-opacity="0.55"/>
<path d="M53.71 1355.43 Q234.6 1313 112.7 1172.77" fill="none" stroke="#E8A070" stroke-width="0.6" stroke-opacity="0.55"/>
<path d="M55.82 1363.59 Q234.6 1313 105.53 1179.35" fill="none" stroke="#E8A070" stroke-width="0.6" stroke-opacity="0.55"/>
<path d="M58.3 1371.65 Q234.6 1313 98.71 1186.28" fill="none" stroke="#E8A070" stroke-width="0.6" stroke-opacity="0.55"/>
<path d="M61.14 1379.58 Q234.6 1313 92.27 1193.57" fill="none" stroke="#E8A070" stroke-width="0.6" stroke-opacity="0.55"/>
<path d="M64.34 1387.38 Q234.6 1313 86.21 1201.18" fill="none" stroke="#E8A070" stroke-width="0.6" stroke-opacity="0.55"/>
<path d="M412.84 1365.46 Q234.6 1313 107.88 1177.11" fill="none" stroke="#B8322B" stroke-width="1" stroke-opacity="0.85"/>
<path d="M412.38 1367.01 Q234.6 1313 103.22 1181.62" fill="none" stroke="#C9452C" stroke-width="0.8" stroke-opacity="0.85"/>
<path d="M389 1416.36 Q234.6 1313 120.21 1166.59" fill="none" stroke="#B8322B" stroke-width="0.9" stroke-opacity="0.85"/>
<path d="M414.4 1359.83 Q234.6 1313 141.7 1152.09" fill="none" stroke="#D9652E" stroke-width="0.7" stroke-opacity="0.85"/>
<path d="M392.17 1411.46 Q234.6 1313 73.69 1220.1" fill="none" stroke="#D98A5A" stroke-width="0.6" stroke-opacity="0.85"/>
<path d="M243.73 1126.42 L266.4 1128.93 Q262 1160 276 1212 Q250 1170 243.73 1126.42 Z" fill="#FFFDF8"/>
<path d="M265.91 1129.86 Q234.6 1313 327.5 1473.91" fill="none" stroke="#FFFDF8" stroke-width="1.6" stroke-opacity="0.9"/>
<path d="M319.24 1147.6 Q234.6 1313 270.05 1495.39" fill="none" stroke="#FFFDF8" stroke-width="2" stroke-opacity="0.9"/>
<path d="M341.7 1161.17 Q234.6 1313 285.81 1491.6" fill="none" stroke="#FFFDF8" stroke-width="1.6" stroke-opacity="0.9"/>
<path d="M419.02 1335.64 Q234.6 1313 285.81 1134.4" fill="none" stroke="#FBEBD0" stroke-width="0.6" stroke-opacity="0.7"/>
<path d="M419.99 1325.31 Q234.6 1313 336.34 1468.47" fill="none" stroke="#FBEBD0" stroke-width="0.6" stroke-opacity="0.7"/>
<path d="M420.39 1314.95 Q234.6 1313 273.23 1131.26" fill="none" stroke="#FBEBD0" stroke-width="0.6" stroke-opacity="0.7"/>
<path d="M420.21 1304.57 Q234.6 1313 342.76 1464.07" fill="none" stroke="#FBEBD0" stroke-width="0.6" stroke-opacity="0.7"/>
<path d="M419.45 1294.22 Q234.6 1313 260.46 1129.01" fill="none" stroke="#FBEBD0" stroke-width="0.6" stroke-opacity="0.7"/>
<path d="M418.11 1283.93 Q234.6 1313 348.99 1459.41" fill="none" stroke="#FBEBD0" stroke-width="0.6" stroke-opacity="0.7"/>
<path d="M363.67 1446.65 Q234.6 1313 327.5 1152.09" fill="none" stroke="#F6E6C6" stroke-width="0.6" stroke-opacity="0.6"/>
<path d="M368.03 1442.3 Q234.6 1313 301.18 1139.54" fill="none" stroke="#F6E6C6" stroke-width="0.6" stroke-opacity="0.6"/>
<path d="M372.24 1437.81 Q234.6 1313 273.23 1131.26" fill="none" stroke="#F6E6C6" stroke-width="0.6" stroke-opacity="0.6"/>
<path d="M376.3 1433.17 Q234.6 1313 244.32 1127.45" fill="none" stroke="#F6E6C6" stroke-width="0.6" stroke-opacity="0.6"/>
<path d="M380.21 1428.41 Q234.6 1313 215.18 1128.22" fill="none" stroke="#F6E6C6" stroke-width="0.6" stroke-opacity="0.6"/>
<path d="M383.96 1423.52 Q234.6 1313 186.51 1133.53" fill="none" stroke="#F6E6C6" stroke-width="0.6" stroke-opacity="0.6"/>
<path d="M413.38 1368.85 Q365 1352 326.6 1337 Q362 1357 406.75 1386.79 Z" fill="#FFFDF9"/>
</g>
<path d="M61.76 1397.3 A192.3 192.3 0 0 0 363.77 1455.46" fill="none" stroke="#4A86E8" stroke-width="6.6"/>
<path d="M393.27 1421.64 A192.3 192.3 0 0 0 411.22 1389.06" fill="none" stroke="#B6F04A" stroke-width="6.6"/>
<path d="M418.3 1369.86 A192.3 192.3 0 0 0 424.26 1344.74" fill="none" stroke="#62DDB4" stroke-width="6.6"/>
<path d="M419.45 1259.99 A192.3 192.3 0 0 0 415.07 1246.6" fill="none" stroke="#66D9D0" stroke-width="6.6"/>
<path d="M421.02 1265.83 A192.3 192.3 0 0 0 420 1261.93" fill="none" stroke="#111111" stroke-width="6.6"/>
<path d="M414.13 1244.09 A192.3 192.3 0 0 0 346 1156.25" fill="none" stroke="#2E2A8C" stroke-width="6.6"/>
<path d="M344.9 1155.48 A192.3 192.3 0 0 0 322.8 1142.12" fill="none" stroke="#84F0D0" stroke-width="6.6"/>
<path d="M321.3 1141.36 A192.3 192.3 0 0 0 268.65 1123.74" fill="none" stroke="#EE8CA0" stroke-width="6.6"/>
<path d="M241.98 1120.84 A192.3 192.3 0 0 0 232.25 1120.71" fill="none" stroke="#A084CC" stroke-width="6.6"/>
<path d="M228.9 1120.78 A192.3 192.3 0 0 0 206.84 1122.71" fill="none" stroke="#171770" stroke-width="6.6"/>
<path d="M203.85 1123.17 A192.3 192.3 0 0 0 197.58 1124.3" fill="none" stroke="#8E2230" stroke-width="6.6"/>
<path d="M194.62 1124.9 A192.3 192.3 0 0 0 185.48 1127.08" fill="none" stroke="#5ED65A" stroke-width="6.6"/>
<path d="M181.92 1128.06 A192.3 192.3 0 0 0 174.54 1130.32" fill="none" stroke="#2C4C70" stroke-width="6.6"/>
<path d="M172.31 1131.07 A192.3 192.3 0 0 0 165.69 1133.47" fill="none" stroke="#A6F2C2" stroke-width="6.6"/>
<path d="M162.87 1134.58 A192.3 192.3 0 0 0 149.7 1140.46" fill="none" stroke="#E274E2" stroke-width="6.6"/>
<path d="M145.81 1142.43 A192.3 192.3 0 0 0 143.43 1143.68" fill="none" stroke="#9040A0" stroke-width="6.6"/>
<path d="M141.96 1144.49 A192.3 192.3 0 0 0 139.61 1145.8" fill="none" stroke="#7C2C90" stroke-width="6.6"/>
<path d="M135.56 1148.17 A192.3 192.3 0 0 0 133.27 1149.57" fill="none" stroke="#B02040" stroke-width="6.6"/>
<path d="M132.41 1150.1 A192.3 192.3 0 0 0 130.43 1151.36" fill="none" stroke="#C03060" stroke-width="6.6"/>
<path d="M125.96 1154.33 A192.3 192.3 0 0 0 70.81 1212.24" fill="none" stroke="#A278E8" stroke-width="6.6"/>
<path d="M69.25 1214.82 A192.3 192.3 0 0 0 64.81 1222.72" fill="none" stroke="#DDE6EE" stroke-width="6.6"/>
<path d="M64.18 1223.91 A192.3 192.3 0 0 0 59.2 1234.17" fill="none" stroke="#E8EEF0" stroke-width="6.6"/>
<path d="M57.59 1237.86 A192.3 192.3 0 0 0 53.22 1249.13" fill="none" stroke="#C2185B" stroke-width="6.6"/>
<path d="M52.56 1251.03 A192.3 192.3 0 0 0 51.98 1252.75" fill="none" stroke="#BB88CC" stroke-width="6.6"/>
<path d="M51.42 1254.47 A192.3 192.3 0 0 0 50.88 1256.21" fill="none" stroke="#CCDDEE" stroke-width="6.6"/>
<path d="M50.35 1257.94 A192.3 192.3 0 0 0 49.84 1259.68" fill="none" stroke="#8899AA" stroke-width="6.6"/>
<path d="M49.34 1261.43 A192.3 192.3 0 0 0 48.87 1263.18" fill="none" stroke="#DD99BB" stroke-width="6.6"/>
<path d="M48.4 1264.93 A192.3 192.3 0 0 0 47.96 1266.69" fill="none" stroke="#99CC66" stroke-width="6.6"/>
<path d="M47.53 1268.46 A192.3 192.3 0 0 0 47.12 1270.22" fill="none" stroke="#8899AA" stroke-width="6.6"/>
<path d="M46.72 1271.99 A192.3 192.3 0 0 0 46.34 1273.77" fill="none" stroke="#AAB8C4" stroke-width="6.6"/>
<path d="M45.98 1275.55 A192.3 192.3 0 0 0 45.64 1277.33" fill="none" stroke="#556677" stroke-width="6.6"/>
<path d="M45.31 1279.11 A192.3 192.3 0 0 0 45 1280.9" fill="none" stroke="#CCDDEE" stroke-width="6.6"/>
<path d="M44.7 1282.69 A192.3 192.3 0 0 0 44.43 1284.48" fill="none" stroke="#DD99BB" stroke-width="6.6"/>
<path d="M44.17 1286.28 A192.3 192.3 0 0 0 43.92 1288.08" fill="none" stroke="#99CC66" stroke-width="6.6"/>
<path d="M43.7 1289.88 A192.3 192.3 0 0 0 43.49 1291.68" fill="none" stroke="#445566" stroke-width="6.6"/>
<path d="M43.29 1293.48 A192.3 192.3 0 0 0 43.12 1295.29" fill="none" stroke="#556677" stroke-width="6.6"/>
<path d="M42.96 1297.1 A192.3 192.3 0 0 0 42.82 1298.91" fill="none" stroke="#99CC66" stroke-width="6.6"/>
<path d="M42.69 1300.72 A192.3 192.3 0 0 0 42.59 1302.53" fill="none" stroke="#8899AA" stroke-width="6.6"/>
<path d="M42.5 1304.34 A192.3 192.3 0 0 0 42.42 1306.15" fill="none" stroke="#99CC66" stroke-width="6.6"/>
<path d="M41.36 1333.31 A194.3 194.3 0 0 0 41.49 1334.51" fill="none" stroke="#445566" stroke-width="2.6"/>
<path d="M41.7 1336.3 A194.3 194.3 0 0 0 41.85 1337.49" fill="none" stroke="#BB88CC" stroke-width="2.6"/>
<path d="M42.09 1339.28 A194.3 194.3 0 0 0 42.25 1340.47" fill="none" stroke="#AAB8C4" stroke-width="2.6"/>
<path d="M42.51 1342.25 A194.3 194.3 0 0 0 42.7 1343.44" fill="none" stroke="#445566" stroke-width="2.6"/>
<path d="M42.99 1345.22 A194.3 194.3 0 0 0 43.19 1346.41" fill="none" stroke="#AAB8C4" stroke-width="2.6"/>
<path d="M43.51 1348.18 A194.3 194.3 0 0 0 43.73 1349.36" fill="none" stroke="#556677" stroke-width="2.6"/>
<path d="M44.08 1351.13 A194.3 194.3 0 0 0 44.32 1352.31" fill="none" stroke="#AAB8C4" stroke-width="2.6"/>
<path d="M44.69 1354.08 A194.3 194.3 0 0 0 44.95 1355.25" fill="none" stroke="#DD99BB" stroke-width="2.6"/>
<path d="M45.35 1357.01 A194.3 194.3 0 0 0 45.63 1358.18" fill="none" stroke="#AAB8C4" stroke-width="2.6"/>
<path d="M46.05 1359.93 A194.3 194.3 0 0 0 46.35 1361.1" fill="none" stroke="#AAB8C4" stroke-width="2.6"/>
<path d="M46.8 1362.84 A194.3 194.3 0 0 0 47.11 1364" fill="none" stroke="#8899AA" stroke-width="2.6"/>
<path d="M47.59 1365.74 A194.3 194.3 0 0 0 47.92 1366.9" fill="none" stroke="#8899AA" stroke-width="2.6"/>
<path d="M48.43 1368.63 A194.3 194.3 0 0 0 48.78 1369.78" fill="none" stroke="#99CC66" stroke-width="2.6"/>
<path d="M49.32 1371.5 A194.3 194.3 0 0 0 49.68 1372.65" fill="none" stroke="#99CC66" stroke-width="2.6"/>
<path d="M50.24 1374.36 A194.3 194.3 0 0 0 50.63 1375.5" fill="none" stroke="#AAB8C4" stroke-width="2.6"/>
<path d="M51.21 1377.2 A194.3 194.3 0 0 0 51.62 1378.34" fill="none" stroke="#AAB8C4" stroke-width="2.6"/>
<path d="M52.23 1380.03 A194.3 194.3 0 0 0 52.65 1381.16" fill="none" stroke="#BB88CC" stroke-width="2.6"/>
<path d="M53.29 1382.85 A194.3 194.3 0 0 0 53.72 1383.97" fill="none" stroke="#CCDDEE" stroke-width="2.6"/>
<path d="M54.39 1385.64 A194.3 194.3 0 0 0 54.84 1386.76" fill="none" stroke="#99CC66" stroke-width="2.6"/>
<path d="M55.54 1388.42 A194.3 194.3 0 0 0 56.01 1389.53" fill="none" stroke="#99CC66" stroke-width="2.6"/>
<path d="M56.72 1391.18 A194.3 194.3 0 0 0 57.21 1392.28" fill="none" stroke="#AAB8C4" stroke-width="2.6"/>
<path d="M57.95 1393.93 A194.3 194.3 0 0 0 58.46 1395.02" fill="none" stroke="#99CC66" stroke-width="2.6"/>
<path d="M426.51 1343.4 A194.3 194.3 0 0 0 426.68 1342.3" fill="none" stroke="#445566" stroke-width="2.6"/>
<path d="M426.98 1340.25 A194.3 194.3 0 0 0 427.13 1339.15" fill="none" stroke="#BB88CC" stroke-width="2.6"/>
<path d="M427.4 1337.1 A194.3 194.3 0 0 0 427.53 1336" fill="none" stroke="#8899AA" stroke-width="2.6"/>
<path d="M427.77 1333.94 A194.3 194.3 0 0 0 427.88 1332.84" fill="none" stroke="#CCDDEE" stroke-width="2.6"/>
<path d="M428.08 1330.78 A194.3 194.3 0 0 0 428.18 1329.67" fill="none" stroke="#445566" stroke-width="2.6"/>
<path d="M428.35 1327.61 A194.3 194.3 0 0 0 428.43 1326.5" fill="none" stroke="#AAB8C4" stroke-width="2.6"/>
<path d="M428.56 1324.44 A194.3 194.3 0 0 0 428.63 1323.33" fill="none" stroke="#AAB8C4" stroke-width="2.6"/>
<path d="M428.72 1321.26 A194.3 194.3 0 0 0 428.77 1320.15" fill="none" stroke="#BB88CC" stroke-width="2.6"/>
<path d="M428.83 1318.09 A194.3 194.3 0 0 0 428.86 1316.97" fill="none" stroke="#556677" stroke-width="2.6"/>
<path d="M428.89 1314.91 A194.3 194.3 0 0 0 428.9 1313.79" fill="none" stroke="#CCDDEE" stroke-width="2.6"/>
<path d="M428.9 1311.73 A194.3 194.3 0 0 0 428.89 1310.62" fill="none" stroke="#BB88CC" stroke-width="2.6"/>
<path d="M428.85 1308.55 A194.3 194.3 0 0 0 428.82 1307.44" fill="none" stroke="#8899AA" stroke-width="2.6"/>
<path d="M428.75 1305.37 A194.3 194.3 0 0 0 428.7 1304.26" fill="none" stroke="#CCDDEE" stroke-width="2.6"/>
<path d="M428.6 1302.2 A194.3 194.3 0 0 0 428.53 1301.09" fill="none" stroke="#556677" stroke-width="2.6"/>
<path d="M428.4 1299.02 A194.3 194.3 0 0 0 428.31 1297.91" fill="none" stroke="#BB88CC" stroke-width="2.6"/>
<path d="M428.14 1295.85 A194.3 194.3 0 0 0 428.04 1294.75" fill="none" stroke="#CCDDEE" stroke-width="2.6"/>
<path d="M427.84 1292.69 A194.3 194.3 0 0 0 427.72 1291.58" fill="none" stroke="#BB88CC" stroke-width="2.6"/>
<path d="M427.48 1289.53 A194.3 194.3 0 0 0 427.34 1288.43" fill="none" stroke="#DD99BB" stroke-width="2.6"/>
<path d="M427.07 1286.38 A194.3 194.3 0 0 0 426.91 1285.28" fill="none" stroke="#CCDDEE" stroke-width="2.6"/>
<path d="M426.61 1283.23 A194.3 194.3 0 0 0 426.43 1282.13" fill="none" stroke="#AAB8C4" stroke-width="2.6"/>
<path d="M426.09 1280.1 A194.3 194.3 0 0 0 425.9 1279" fill="none" stroke="#DD99BB" stroke-width="2.6"/>
<path d="M425.53 1276.97 A194.3 194.3 0 0 0 425.32 1275.87" fill="none" stroke="#DD99BB" stroke-width="2.6"/>
<path d="M424.91 1273.85 A194.3 194.3 0 0 0 424.69 1272.76" fill="none" stroke="#AAB8C4" stroke-width="2.6"/>
<path d="M424.25 1270.74 A194.3 194.3 0 0 0 424 1269.65" fill="none" stroke="#8899AA" stroke-width="2.6"/>
<path d="M365.19 1455.52 A193.3 193.3 0 0 0 366.08 1454.7" fill="none" stroke="#BB88CC" stroke-width="3.6"/>
<path d="M367.4 1453.46 A193.3 193.3 0 0 0 368.27 1452.63" fill="none" stroke="#8899AA" stroke-width="3.6"/>
<path d="M369.57 1451.38 A193.3 193.3 0 0 0 370.43 1450.53" fill="none" stroke="#CCDDEE" stroke-width="3.6"/>
<path d="M371.71 1449.26 A193.3 193.3 0 0 0 372.56 1448.4" fill="none" stroke="#445566" stroke-width="3.6"/>
<path d="M373.82 1447.1 A193.3 193.3 0 0 0 374.65 1446.23" fill="none" stroke="#8899AA" stroke-width="3.6"/>
<path d="M375.89 1444.92 A193.3 193.3 0 0 0 376.71 1444.04" fill="none" stroke="#445566" stroke-width="3.6"/>
<path d="M377.93 1442.7 A193.3 193.3 0 0 0 378.73 1441.8" fill="none" stroke="#CCDDEE" stroke-width="3.6"/>
<path d="M379.93 1440.45 A193.3 193.3 0 0 0 380.72 1439.54" fill="none" stroke="#445566" stroke-width="3.6"/>
<path d="M381.9 1438.17 A193.3 193.3 0 0 0 382.68 1437.25" fill="none" stroke="#8899AA" stroke-width="3.6"/>
<path d="M383.83 1435.86 A193.3 193.3 0 0 0 384.59 1434.93" fill="none" stroke="#DD99BB" stroke-width="3.6"/>
<path d="M385.73 1433.52 A193.3 193.3 0 0 0 386.48 1432.58" fill="none" stroke="#8899AA" stroke-width="3.6"/>
<path d="M387.59 1431.15 A193.3 193.3 0 0 0 388.32 1430.2" fill="none" stroke="#AAB8C4" stroke-width="3.6"/>
<path d="M389.41 1428.75 A193.3 193.3 0 0 0 390.13 1427.79" fill="none" stroke="#99CC66" stroke-width="3.6"/>
<path d="M391.2 1426.33 A193.3 193.3 0 0 0 391.9 1425.35" fill="none" stroke="#556677" stroke-width="3.6"/>
<path d="M412.53 1388.53 A193.3 193.3 0 0 0 413 1387.41" fill="none" stroke="#99CC66" stroke-width="3.6"/>
<path d="M413.7 1385.72 A193.3 193.3 0 0 0 414.15 1384.6" fill="none" stroke="#DD99BB" stroke-width="3.6"/>
<path d="M414.82 1382.9 A193.3 193.3 0 0 0 415.25 1381.77" fill="none" stroke="#CCDDEE" stroke-width="3.6"/>
<path d="M415.89 1380.06 A193.3 193.3 0 0 0 416.31 1378.92" fill="none" stroke="#CCDDEE" stroke-width="3.6"/>
<path d="M416.92 1377.21 A193.3 193.3 0 0 0 417.32 1376.06" fill="none" stroke="#BB88CC" stroke-width="3.6"/>
<path d="M417.91 1374.33 A193.3 193.3 0 0 0 418.29 1373.18" fill="none" stroke="#DD99BB" stroke-width="3.6"/>
<path d="M267.17 1122.46 A193.3 193.3 0 0 0 266.15 1122.29" fill="none" stroke="#556677" stroke-width="3.6"/>
<path d="M264.62 1122.04 A193.3 193.3 0 0 0 263.59 1121.89" fill="none" stroke="#CCDDEE" stroke-width="3.6"/>
<path d="M262.06 1121.66 A193.3 193.3 0 0 0 261.03 1121.52" fill="none" stroke="#BB88CC" stroke-width="3.6"/>
<path d="M259.5 1121.31 A193.3 193.3 0 0 0 258.47 1121.18" fill="none" stroke="#8899AA" stroke-width="3.6"/>
<path d="M256.93 1120.99 A193.3 193.3 0 0 0 255.9 1120.88" fill="none" stroke="#445566" stroke-width="3.6"/>
<path d="M254.36 1120.71 A193.3 193.3 0 0 0 253.33 1120.61" fill="none" stroke="#556677" stroke-width="3.6"/>
<path d="M251.78 1120.47 A193.3 193.3 0 0 0 250.75 1120.38" fill="none" stroke="#99CC66" stroke-width="3.6"/>
<path d="M249.21 1120.25 A193.3 193.3 0 0 0 248.17 1120.18" fill="none" stroke="#CCDDEE" stroke-width="3.6"/>
<path d="M246.63 1120.07 A193.3 193.3 0 0 0 245.59 1120.01" fill="none" stroke="#CCDDEE" stroke-width="3.6"/>
<path d="M57.99 1399.14 A196.5 196.5 0 0 0 366.08 1459.03" fill="none" stroke="#2B4F91" stroke-width="1.2" stroke-dasharray="0.8 3.4"/>
<path d="M418.05 1242.58 A196.5 196.5 0 0 0 348.43 1152.83" fill="none" stroke="#1A1860" stroke-width="1.2" stroke-dasharray="0.8 3.4"/>
<path id="cp1" d="M84.03 1451.66 A204.5 204.5 0 0 1 359.29 1151.26" fill="none"/>
<text font-size="22" text-anchor="middle"><textPath href="#cp1" startOffset="50%">TRBV 20-1</textPath></text>
<path id="cp2" d="M71.95 1188.99 A205 205 0 0 1 416.8 1407.84" fill="none"/>
<text font-size="22" text-anchor="middle"><textPath href="#cp2" startOffset="50%">TRBV 6-1 6-2 TRBV 6-4</textPath></text>
<path id="cp4" d="M244.51 1535.79 A222.5 222.5 0 0 0 422.45 1193.95" fill="none"/>
<text font-size="22" text-anchor="middle"><textPath href="#cp4" startOffset="50%">TRAJ 20 12</textPath></text>
<text x="229" y="1532.5" font-size="22" text-anchor="middle">TRAJ 33</text>
<text x="712" y="1008" font-size="37.6" text-anchor="middle">iNKT</text>
<text x="714" y="1053" font-size="37.6" text-anchor="middle">(TRAV10)</text>
<text x="722.6" y="1096" font-size="22" text-anchor="middle">TRBV 25-1</text>
<text x="727" y="1533" font-size="22" text-anchor="middle">TRAJ 18</text>
<path d="M873.11 1211.66 A185.2 185.2 0 0 0 539.1 1240.15 Q712.8 1304.4 554.55 1400.61 A185.2 185.2 0 0 0 891.52 1352.96 Q712.8 1304.4 873.11 1211.66 Z" fill="#6B8DC4" stroke="#fff" stroke-width="0.6" stroke-linejoin="round"/>
<path d="M534.77 1253.35 Q712.8 1304.4 553.72 1399.23" fill="none" stroke="#5A6FA8" stroke-width="0.7" stroke-opacity="0.75"/>
<path d="M533.54 1257.87 Q712.8 1304.4 552.25 1396.72" fill="none" stroke="#9FB3D8" stroke-width="0.7" stroke-opacity="0.71"/>
<path d="M532.42 1262.42 Q712.8 1304.4 550.82 1394.19" fill="none" stroke="#9FB3D8" stroke-width="0.7" stroke-opacity="0.67"/>
<path d="M531.42 1267 Q712.8 1304.4 549.43 1391.63" fill="none" stroke="#5A6FA8" stroke-width="0.7" stroke-opacity="0.63"/>
<path d="M530.53 1271.6 Q712.8 1304.4 548.08 1389.05" fill="none" stroke="#9FB3D8" stroke-width="0.7" stroke-opacity="0.59"/>
<path d="M529.76 1276.23 Q712.8 1304.4 546.77 1386.46" fill="none" stroke="#9FB3D8" stroke-width="0.7" stroke-opacity="0.55"/>
<path d="M529.1 1280.87 Q712.8 1304.4 545.5 1383.84" fill="none" stroke="#5A6FA8" stroke-width="0.7" stroke-opacity="0.51"/>
<path d="M528.56 1285.52 Q712.8 1304.4 544.28 1381.2" fill="none" stroke="#9FB3D8" stroke-width="0.7" stroke-opacity="0.47"/>
<path d="M528.15 1290.19 Q712.8 1304.4 543.09 1378.54" fill="none" stroke="#9FB3D8" stroke-width="0.7" stroke-opacity="0.43"/>
<path d="M527.85 1294.87 Q712.8 1304.4 541.95 1375.87" fill="none" stroke="#5A6FA8" stroke-width="0.7" stroke-opacity="0.39"/>
<path d="M528.98 1326.97 Q712.8 1304.4 538.55 1241.67" fill="none" stroke="#6D7FB4" stroke-width="0.7" stroke-opacity="0.7"/>
<path d="M529.83 1333.05 Q712.8 1304.4 538.44 1241.97" fill="none" stroke="#B9C7E2" stroke-width="0.7" stroke-opacity="0.7"/>
<path d="M530.88 1339.1 Q712.8 1304.4 538.33 1242.27" fill="none" stroke="#B9C7E2" stroke-width="0.7" stroke-opacity="0.7"/>
<path d="M532.13 1345.12 Q712.8 1304.4 538.22 1242.58" fill="none" stroke="#6D7FB4" stroke-width="0.7" stroke-opacity="0.7"/>
<path d="M533.58 1351.08 Q712.8 1304.4 538.12 1242.88" fill="none" stroke="#B9C7E2" stroke-width="0.7" stroke-opacity="0.7"/>
<path d="M535.23 1357 Q712.8 1304.4 538.01 1243.19" fill="none" stroke="#B9C7E2" stroke-width="0.7" stroke-opacity="0.7"/>
<path d="M537.07 1362.86 Q712.8 1304.4 537.9 1243.49" fill="none" stroke="#6D7FB4" stroke-width="0.7" stroke-opacity="0.7"/>
<path d="M539.1 1368.65 Q712.8 1304.4 537.8 1243.8" fill="none" stroke="#B9C7E2" stroke-width="0.7" stroke-opacity="0.7"/>
<path d="M541.33 1374.38 Q712.8 1304.4 537.69 1244.1" fill="none" stroke="#B9C7E2" stroke-width="0.7" stroke-opacity="0.7"/>
<path d="M543.74 1380.02 Q712.8 1304.4 537.58 1244.41" fill="none" stroke="#6D7FB4" stroke-width="0.7" stroke-opacity="0.7"/>
<path d="M546.34 1385.59 Q712.8 1304.4 537.48 1244.72" fill="none" stroke="#B9C7E2" stroke-width="0.7" stroke-opacity="0.7"/>
<path d="M549.13 1391.06 Q712.8 1304.4 537.38 1245.02" fill="none" stroke="#B9C7E2" stroke-width="0.7" stroke-opacity="0.7"/>
<path d="M875.56 1216.03 Q712.8 1304.4 891.86 1351.71" fill="none" stroke="#7D8FC0" stroke-width="0.7" stroke-opacity="0.7"/>
<path d="M878.83 1222.34 Q712.8 1304.4 892.1 1350.77" fill="none" stroke="#B9C7E2" stroke-width="0.7" stroke-opacity="0.7"/>
<path d="M881.86 1228.78 Q712.8 1304.4 892.34 1349.83" fill="none" stroke="#B9C7E2" stroke-width="0.7" stroke-opacity="0.7"/>
<path d="M884.64 1235.32 Q712.8 1304.4 892.58 1348.89" fill="none" stroke="#7D8FC0" stroke-width="0.7" stroke-opacity="0.7"/>
<path d="M887.16 1241.97 Q712.8 1304.4 892.81 1347.95" fill="none" stroke="#B9C7E2" stroke-width="0.7" stroke-opacity="0.7"/>
<path d="M889.43 1248.71 Q712.8 1304.4 893.03 1347.01" fill="none" stroke="#B9C7E2" stroke-width="0.7" stroke-opacity="0.7"/>
<path d="M891.44 1255.53 Q712.8 1304.4 893.25 1346.06" fill="none" stroke="#7D8FC0" stroke-width="0.7" stroke-opacity="0.7"/>
<path d="M893.18 1262.42 Q712.8 1304.4 893.47 1345.12" fill="none" stroke="#B9C7E2" stroke-width="0.7" stroke-opacity="0.7"/>
<path d="M894.66 1269.38 Q712.8 1304.4 893.68 1344.17" fill="none" stroke="#B9C7E2" stroke-width="0.7" stroke-opacity="0.7"/>
<path d="M895.87 1276.39 Q712.8 1304.4 893.89 1343.22" fill="none" stroke="#7D8FC0" stroke-width="0.7" stroke-opacity="0.7"/>
<path d="M896.81 1283.43 Q712.8 1304.4 894.09 1342.27" fill="none" stroke="#B9C7E2" stroke-width="0.7" stroke-opacity="0.7"/>
<path d="M897.48 1290.51 Q712.8 1304.4 894.28 1341.32" fill="none" stroke="#B9C7E2" stroke-width="0.7" stroke-opacity="0.7"/>
<path d="M896.62 1326.97 Q712.8 1304.4 873.83 1212.92" fill="none" stroke="#C9D4EA" stroke-width="0.8" stroke-opacity="0.8"/>
<path d="M895.87 1332.41 Q712.8 1304.4 874.15 1213.48" fill="none" stroke="#C9D4EA" stroke-width="0.8" stroke-opacity="0.8"/>
<path d="M894.96 1337.83 Q712.8 1304.4 874.47 1214.05" fill="none" stroke="#C9D4EA" stroke-width="0.8" stroke-opacity="0.8"/>
<path d="M893.89 1343.22 Q712.8 1304.4 874.78 1214.61" fill="none" stroke="#C9D4EA" stroke-width="0.8" stroke-opacity="0.8"/>
<path d="M892.65 1348.58 Q712.8 1304.4 875.09 1215.18" fill="none" stroke="#C9D4EA" stroke-width="0.8" stroke-opacity="0.8"/>
<path d="M529.88 1333.37 Q712.8 1304.4 895.72 1275.43" fill="none" stroke="#DCE5F4" stroke-width="1.5" stroke-opacity="0.5"/>
<path d="M539.9 1370.77 Q712.8 1304.4 894.6 1269.06" fill="none" stroke="#DCE5F4" stroke-width="1.9" stroke-opacity="0.45"/>
<path d="M879.08 1208.2 A192.1 192.1 0 0 0 532.63 1237.75" fill="none" stroke="#3B4644" stroke-width="6.6"/>
<path d="M548.66 1404.2 A192.1 192.1 0 0 0 898.18 1354.77" fill="none" stroke="#52AE34" stroke-width="6.6"/>
<path d="M531.61 1240.59 A192.1 192.1 0 0 0 528.71 1249.52" fill="none" stroke="#55B82A" stroke-width="6.6"/>
<path d="M882.73 1214.81 A192.1 192.1 0 0 0 879.83 1209.51" fill="none" stroke="#14144A" stroke-width="6.6"/>
<path d="M900.84 1265.12 A192.1 192.1 0 0 0 899.19 1257.93" fill="none" stroke="#121250" stroke-width="6.6"/>
<path d="M883.32 1205.75 A197 197 0 0 0 528.04 1236.05" fill="none" stroke="#3B4644" stroke-width="1.6" stroke-dasharray="0.9 2.2"/>
<path d="M544.47 1406.75 A197 197 0 0 0 902.91 1356.05" fill="none" stroke="#3E8A26" stroke-width="1.6" stroke-dasharray="0.9 2.2"/>
<path d="M525.74 1250.76 A194.6 194.6 0 0 0 525.4 1251.95" fill="none" stroke="#DD99BB" stroke-width="5.6"/>
<path d="M524.8 1254.16 A194.6 194.6 0 0 0 524.48 1255.35" fill="none" stroke="#CC4466" stroke-width="5.6"/>
<path d="M523.92 1257.58 A194.6 194.6 0 0 0 523.62 1258.77" fill="none" stroke="#DD99BB" stroke-width="5.6"/>
<path d="M523.1 1261.01 A194.6 194.6 0 0 0 522.83 1262.21" fill="none" stroke="#DD99BB" stroke-width="5.6"/>
<path d="M522.34 1264.45 A194.6 194.6 0 0 0 522.09 1265.66" fill="none" stroke="#CC4466" stroke-width="5.6"/>
<path d="M521.65 1267.91 A194.6 194.6 0 0 0 521.42 1269.12" fill="none" stroke="#99CC66" stroke-width="5.6"/>
<path d="M521.02 1271.38 A194.6 194.6 0 0 0 520.82 1272.6" fill="none" stroke="#AAB8C4" stroke-width="5.6"/>
<path d="M520.45 1274.86 A194.6 194.6 0 0 0 520.27 1276.08" fill="none" stroke="#CC4466" stroke-width="5.6"/>
<path d="M519.95 1278.35 A194.6 194.6 0 0 0 519.79 1279.58" fill="none" stroke="#DD99BB" stroke-width="5.6"/>
<path d="M519.51 1281.85 A194.6 194.6 0 0 0 519.37 1283.08" fill="none" stroke="#AAB8C4" stroke-width="5.6"/>
<path d="M519.13 1285.36 A194.6 194.6 0 0 0 519.02 1286.59" fill="none" stroke="#556677" stroke-width="5.6"/>
<path d="M518.82 1288.87 A194.6 194.6 0 0 0 518.73 1290.1" fill="none" stroke="#DD99BB" stroke-width="5.6"/>
<path d="M518.57 1292.39 A194.6 194.6 0 0 0 518.5 1293.62" fill="none" stroke="#BB88CC" stroke-width="5.6"/>
<path d="M519.65 1328.12 A194.6 194.6 0 0 0 519.8 1329.27" fill="none" stroke="#AAB8C4" stroke-width="5.6"/>
<path d="M520.08 1331.41 A194.6 194.6 0 0 0 520.25 1332.57" fill="none" stroke="#556677" stroke-width="5.6"/>
<path d="M520.57 1334.7 A194.6 194.6 0 0 0 520.76 1335.85" fill="none" stroke="#CC4466" stroke-width="5.6"/>
<path d="M521.12 1337.98 A194.6 194.6 0 0 0 521.32 1339.13" fill="none" stroke="#8899AA" stroke-width="5.6"/>
<path d="M521.72 1341.25 A194.6 194.6 0 0 0 521.95 1342.4" fill="none" stroke="#445566" stroke-width="5.6"/>
<path d="M522.38 1344.51 A194.6 194.6 0 0 0 522.62 1345.65" fill="none" stroke="#DD99BB" stroke-width="5.6"/>
<path d="M523.09 1347.76 A194.6 194.6 0 0 0 523.36 1348.9" fill="none" stroke="#AAB8C4" stroke-width="5.6"/>
<path d="M523.86 1351 A194.6 194.6 0 0 0 524.14 1352.13" fill="none" stroke="#8899AA" stroke-width="5.6"/>
<path d="M524.69 1354.22 A194.6 194.6 0 0 0 524.99 1355.34" fill="none" stroke="#CC4466" stroke-width="5.6"/>
<path d="M525.56 1357.43 A194.6 194.6 0 0 0 525.88 1358.55" fill="none" stroke="#556677" stroke-width="5.6"/>
<path d="M526.5 1360.62 A194.6 194.6 0 0 0 526.84 1361.73" fill="none" stroke="#8899AA" stroke-width="5.6"/>
<path d="M527.49 1363.79 A194.6 194.6 0 0 0 527.84 1364.9" fill="none" stroke="#8899AA" stroke-width="5.6"/>
<path d="M528.53 1366.95 A194.6 194.6 0 0 0 528.9 1368.05" fill="none" stroke="#99CC66" stroke-width="5.6"/>
<path d="M529.62 1370.09 A194.6 194.6 0 0 0 530.02 1371.19" fill="none" stroke="#99CC66" stroke-width="5.6"/>
<path d="M530.77 1373.21 A194.6 194.6 0 0 0 531.19 1374.3" fill="none" stroke="#8899AA" stroke-width="5.6"/>
<path d="M531.98 1376.31 A194.6 194.6 0 0 0 532.41 1377.39" fill="none" stroke="#DD99BB" stroke-width="5.6"/>
<path d="M533.23 1379.39 A194.6 194.6 0 0 0 533.68 1380.47" fill="none" stroke="#CCDDEE" stroke-width="5.6"/>
<path d="M534.54 1382.45 A194.6 194.6 0 0 0 535.01 1383.52" fill="none" stroke="#DD99BB" stroke-width="5.6"/>
<path d="M535.9 1385.49 A194.6 194.6 0 0 0 536.39 1386.54" fill="none" stroke="#99CC66" stroke-width="5.6"/>
<path d="M537.31 1388.5 A194.6 194.6 0 0 0 537.82 1389.54" fill="none" stroke="#CC4466" stroke-width="5.6"/>
<path d="M538.77 1391.48 A194.6 194.6 0 0 0 539.3 1392.52" fill="none" stroke="#99CC66" stroke-width="5.6"/>
<path d="M540.29 1394.44 A194.6 194.6 0 0 0 540.83 1395.47" fill="none" stroke="#BB88CC" stroke-width="5.6"/>
<path d="M541.85 1397.38 A194.6 194.6 0 0 0 542.41 1398.4" fill="none" stroke="#DD99BB" stroke-width="5.6"/>
<path d="M543.46 1400.29 A194.6 194.6 0 0 0 544.04 1401.3" fill="none" stroke="#8899AA" stroke-width="5.6"/>
<path d="M907.21 1295.91 A194.6 194.6 0 0 0 907.16 1294.73" fill="none" stroke="#556677" stroke-width="5.6"/>
<path d="M907.04 1292.55 A194.6 194.6 0 0 0 906.96 1291.37" fill="none" stroke="#DD99BB" stroke-width="5.6"/>
<path d="M906.8 1289.19 A194.6 194.6 0 0 0 906.71 1288.01" fill="none" stroke="#BB88CC" stroke-width="5.6"/>
<path d="M906.51 1285.83 A194.6 194.6 0 0 0 906.4 1284.66" fill="none" stroke="#445566" stroke-width="5.6"/>
<path d="M906.16 1282.48 A194.6 194.6 0 0 0 906.02 1281.31" fill="none" stroke="#CC4466" stroke-width="5.6"/>
<path d="M905.75 1279.13 A194.6 194.6 0 0 0 905.6 1277.97" fill="none" stroke="#556677" stroke-width="5.6"/>
<path d="M905.29 1275.8 A194.6 194.6 0 0 0 905.11 1274.63" fill="none" stroke="#BB88CC" stroke-width="5.6"/>
<path d="M904.76 1272.47 A194.6 194.6 0 0 0 904.57 1271.31" fill="none" stroke="#CCDDEE" stroke-width="5.6"/>
<path d="M904.18 1269.15 A194.6 194.6 0 0 0 903.96 1267.99" fill="none" stroke="#99CC66" stroke-width="5.6"/>
<path d="M903.54 1265.84 A194.6 194.6 0 0 0 903.3 1264.69" fill="none" stroke="#CC4466" stroke-width="5.6"/>
<path d="M902.85 1262.55 A194.6 194.6 0 0 0 902.59 1261.4" fill="none" stroke="#BB88CC" stroke-width="5.6"/>
<path d="M902.09 1259.26 A194.6 194.6 0 0 0 901.82 1258.12" fill="none" stroke="#8899AA" stroke-width="5.6"/>
<path d="M901.28 1255.99 A194.6 194.6 0 0 0 900.99 1254.85" fill="none" stroke="#556677" stroke-width="5.6"/>
<path d="M900.42 1252.74 A194.6 194.6 0 0 0 900.1 1251.6" fill="none" stroke="#556677" stroke-width="5.6"/>
<path d="M899.49 1249.5 A194.6 194.6 0 0 0 899.16 1248.37" fill="none" stroke="#445566" stroke-width="5.6"/>
<path d="M898.52 1246.27 A194.6 194.6 0 0 0 898.16 1245.15" fill="none" stroke="#556677" stroke-width="5.6"/>
<path d="M897.48 1243.06 A194.6 194.6 0 0 0 897.11 1241.95" fill="none" stroke="#BB88CC" stroke-width="5.6"/>
<path d="M896.39 1239.88 A194.6 194.6 0 0 0 896 1238.77" fill="none" stroke="#445566" stroke-width="5.6"/>
<path d="M895.25 1236.71 A194.6 194.6 0 0 0 894.83 1235.6" fill="none" stroke="#556677" stroke-width="5.6"/>
<path d="M894.05 1233.56 A194.6 194.6 0 0 0 893.62 1232.46" fill="none" stroke="#8899AA" stroke-width="5.6"/>
<path d="M892.79 1230.43 A194.6 194.6 0 0 0 892.34 1229.34" fill="none" stroke="#8899AA" stroke-width="5.6"/>
<path d="M891.49 1227.33 A194.6 194.6 0 0 0 891.02 1226.25" fill="none" stroke="#99CC66" stroke-width="5.6"/>
<path d="M890.13 1224.25 A194.6 194.6 0 0 0 889.64 1223.17" fill="none" stroke="#99CC66" stroke-width="5.6"/>
<path d="M888.71 1221.19 A194.6 194.6 0 0 0 888.2 1220.12" fill="none" stroke="#8899AA" stroke-width="5.6"/>
<path d="M887.24 1218.15 A194.6 194.6 0 0 0 886.72 1217.1" fill="none" stroke="#DD99BB" stroke-width="5.6"/>
<path d="M901.2 1353.12 A194.6 194.6 0 0 0 901.48 1352.04" fill="none" stroke="#445566" stroke-width="5.6"/>
<path d="M901.97 1350.03 A194.6 194.6 0 0 0 902.23 1348.95" fill="none" stroke="#445566" stroke-width="5.6"/>
<path d="M902.69 1346.93 A194.6 194.6 0 0 0 902.94 1345.85" fill="none" stroke="#445566" stroke-width="5.6"/>
<path d="M903.37 1343.82 A194.6 194.6 0 0 0 903.59 1342.73" fill="none" stroke="#556677" stroke-width="5.6"/>
<path d="M903.98 1340.7 A194.6 194.6 0 0 0 904.19 1339.6" fill="none" stroke="#99CC66" stroke-width="5.6"/>
<path d="M904.55 1337.56 A194.6 194.6 0 0 0 904.74 1336.47" fill="none" stroke="#BB88CC" stroke-width="5.6"/>
<path d="M905.07 1334.42 A194.6 194.6 0 0 0 905.24 1333.32" fill="none" stroke="#CCDDEE" stroke-width="5.6"/>
<path d="M905.54 1331.27 A194.6 194.6 0 0 0 905.69 1330.17" fill="none" stroke="#556677" stroke-width="5.6"/>
<path d="M520.93 1249.38 A199.6 199.6 0 0 0 513.39 1295.69" fill="none" stroke="#8A8F94" stroke-width="3.4" stroke-dasharray="0.8 2.1"/>
<path d="M514.69 1328.73 A199.6 199.6 0 0 0 540.82 1405.7" fill="none" stroke="#8A8F94" stroke-width="3.4" stroke-dasharray="0.8 2.1"/>
<path d="M912.21 1295.69 A199.6 199.6 0 0 0 890.17 1212.85" fill="none" stroke="#8A8F94" stroke-width="3.4" stroke-dasharray="0.8 2.1"/>
<path d="M906.04 1354.38 A199.6 199.6 0 0 0 910.91 1328.73" fill="none" stroke="#8A8F94" stroke-width="3.4" stroke-dasharray="0.8 2.1"/>
<text x="961" y="947" font-size="37" font-weight="bold">d</text>
<text x="1562" y="946.5" font-size="37" font-weight="bold">e</text>
<text x="1217.7" y="964" font-size="22.5" text-anchor="middle">MAIT_TRAJ</text>
<rect x="1058.75" y="1167.68" width="12.46" height="30.32" fill="#5B50F5"/>
<line x1="1064.98" y1="1154.21" x2="1064.98" y2="1180.13" stroke="#111" stroke-width="1"/>
<line x1="1061.58" y1="1154.21" x2="1068.38" y2="1154.21" stroke="#111" stroke-width="1"/>
<line x1="1061.58" y1="1180.13" x2="1068.38" y2="1180.13" stroke="#111" stroke-width="1"/>
<rect x="1076.94" y="1152.53" width="12.46" height="45.47" fill="#EE3A3A"/>
<line x1="1083.16" y1="1126.6" x2="1083.16" y2="1178.79" stroke="#111" stroke-width="1"/>
<line x1="1079.76" y1="1126.6" x2="1086.56" y2="1126.6" stroke="#111" stroke-width="1"/>
<line x1="1079.76" y1="1178.79" x2="1086.56" y2="1178.79" stroke="#111" stroke-width="1"/>
<rect x="1095.12" y="1172.05" width="12.46" height="25.95" fill="#57D188"/>
<line x1="1101.35" y1="1164.98" x2="1101.35" y2="1178.79" stroke="#111" stroke-width="1"/>
<line x1="1097.95" y1="1164.98" x2="1104.75" y2="1164.98" stroke="#111" stroke-width="1"/>
<line x1="1097.95" y1="1178.79" x2="1104.75" y2="1178.79" stroke="#111" stroke-width="1"/>
<rect x="1113.3" y="1177.1" width="12.46" height="20.9" fill="#333333"/>
<line x1="1119.53" y1="1167.68" x2="1119.53" y2="1186.2" stroke="#111" stroke-width="1"/>
<line x1="1116.13" y1="1167.68" x2="1122.93" y2="1167.68" stroke="#111" stroke-width="1"/>
<line x1="1116.13" y1="1186.2" x2="1122.93" y2="1186.2" stroke="#111" stroke-width="1"/>
<rect x="1142.93" y="1112.79" width="12.46" height="85.21" fill="#5B50F5"/>
<line x1="1149.16" y1="1068.01" x2="1149.16" y2="1157.24" stroke="#111" stroke-width="1"/>
<line x1="1145.76" y1="1068.01" x2="1152.56" y2="1068.01" stroke="#111" stroke-width="1"/>
<line x1="1145.76" y1="1157.24" x2="1152.56" y2="1157.24" stroke="#111" stroke-width="1"/>
<rect x="1161.11" y="1118.86" width="12.46" height="79.14" fill="#EE3A3A"/>
<line x1="1167.34" y1="1090.24" x2="1167.34" y2="1146.8" stroke="#111" stroke-width="1"/>
<line x1="1163.94" y1="1090.24" x2="1170.74" y2="1090.24" stroke="#111" stroke-width="1"/>
<line x1="1163.94" y1="1146.8" x2="1170.74" y2="1146.8" stroke="#111" stroke-width="1"/>
<rect x="1179.29" y="1160.61" width="12.46" height="37.39" fill="#57D188"/>
<line x1="1185.52" y1="1125.59" x2="1185.52" y2="1195.29" stroke="#111" stroke-width="1"/>
<line x1="1182.12" y1="1125.59" x2="1188.92" y2="1125.59" stroke="#111" stroke-width="1"/>
<line x1="1182.12" y1="1195.29" x2="1188.92" y2="1195.29" stroke="#111" stroke-width="1"/>
<rect x="1197.47" y="1137.71" width="12.46" height="60.29" fill="#333333"/>
<line x1="1203.7" y1="1106.4" x2="1203.7" y2="1169.36" stroke="#111" stroke-width="1"/>
<line x1="1200.3" y1="1106.4" x2="1207.1" y2="1106.4" stroke="#111" stroke-width="1"/>
<line x1="1200.3" y1="1169.36" x2="1207.1" y2="1169.36" stroke="#111" stroke-width="1"/>
<rect x="1227.44" y="1159.93" width="12.46" height="38.07" fill="#5B50F5"/>
<line x1="1233.67" y1="1131.31" x2="1233.67" y2="1187.88" stroke="#111" stroke-width="1"/>
<line x1="1230.27" y1="1131.31" x2="1237.07" y2="1131.31" stroke="#111" stroke-width="1"/>
<line x1="1230.27" y1="1187.88" x2="1237.07" y2="1187.88" stroke="#111" stroke-width="1"/>
<rect x="1245.62" y="1175.42" width="12.46" height="22.58" fill="#EE3A3A"/>
<line x1="1251.85" y1="1162.96" x2="1251.85" y2="1187.21" stroke="#111" stroke-width="1"/>
<line x1="1248.45" y1="1162.96" x2="1255.25" y2="1162.96" stroke="#111" stroke-width="1"/>
<line x1="1248.45" y1="1187.21" x2="1255.25" y2="1187.21" stroke="#111" stroke-width="1"/>
<rect x="1263.8" y="1149.16" width="12.46" height="48.84" fill="#57D188"/>
<line x1="1270.03" y1="1134.01" x2="1270.03" y2="1164.31" stroke="#111" stroke-width="1"/>
<line x1="1266.63" y1="1134.01" x2="1273.43" y2="1134.01" stroke="#111" stroke-width="1"/>
<line x1="1266.63" y1="1164.31" x2="1273.43" y2="1164.31" stroke="#111" stroke-width="1"/>
<rect x="1281.99" y="1165.32" width="12.46" height="32.68" fill="#333333"/>
<line x1="1288.22" y1="1145.12" x2="1288.22" y2="1185.19" stroke="#111" stroke-width="1"/>
<line x1="1284.82" y1="1145.12" x2="1291.62" y2="1145.12" stroke="#111" stroke-width="1"/>
<line x1="1284.82" y1="1185.19" x2="1291.62" y2="1185.19" stroke="#111" stroke-width="1"/>
<rect x="1311.95" y="1133.33" width="12.46" height="64.67" fill="#5B50F5"/>
<line x1="1318.18" y1="1099.66" x2="1318.18" y2="1167" stroke="#111" stroke-width="1"/>
<line x1="1314.78" y1="1099.66" x2="1321.58" y2="1099.66" stroke="#111" stroke-width="1"/>
<line x1="1314.78" y1="1167" x2="1321.58" y2="1167" stroke="#111" stroke-width="1"/>
<rect x="1330.13" y="1126.26" width="12.46" height="71.74" fill="#EE3A3A"/>
<line x1="1336.36" y1="1083.84" x2="1336.36" y2="1169.36" stroke="#111" stroke-width="1"/>
<line x1="1332.96" y1="1083.84" x2="1339.76" y2="1083.84" stroke="#111" stroke-width="1"/>
<line x1="1332.96" y1="1169.36" x2="1339.76" y2="1169.36" stroke="#111" stroke-width="1"/>
<rect x="1348.32" y="1091.25" width="12.46" height="106.75" fill="#57D188"/>
<line x1="1354.55" y1="1067.68" x2="1354.55" y2="1114.81" stroke="#111" stroke-width="1"/>
<line x1="1351.15" y1="1067.68" x2="1357.95" y2="1067.68" stroke="#111" stroke-width="1"/>
<line x1="1351.15" y1="1114.81" x2="1357.95" y2="1114.81" stroke="#111" stroke-width="1"/>
<rect x="1366.5" y="1092.93" width="12.46" height="105.07" fill="#333333"/>
<line x1="1372.73" y1="1074.41" x2="1372.73" y2="1111.45" stroke="#111" stroke-width="1"/>
<line x1="1369.33" y1="1074.41" x2="1376.13" y2="1074.41" stroke="#111" stroke-width="1"/>
<line x1="1369.33" y1="1111.45" x2="1376.13" y2="1111.45" stroke="#111" stroke-width="1"/>
<line x1="1052.7" y1="978" x2="1052.7" y2="1199" stroke="#000" stroke-width="2"/>
<line x1="1042.6" y1="1198" x2="1384.3" y2="1198" stroke="#000" stroke-width="2"/>
<line x1="1042.7" y1="978" x2="1052.7" y2="978" stroke="#000" stroke-width="2"/>
<text x="1040.5" y="983.9" font-size="16.6" text-anchor="end" font-weight="bold">100</text>
<line x1="1042.7" y1="1021.9" x2="1052.7" y2="1021.9" stroke="#000" stroke-width="2"/>
<text x="1040.5" y="1027.8" font-size="16.6" text-anchor="end" font-weight="bold">80</text>
<line x1="1042.7" y1="1066" x2="1052.7" y2="1066" stroke="#000" stroke-width="2"/>
<text x="1040.5" y="1071.9" font-size="16.6" text-anchor="end" font-weight="bold">60</text>
<line x1="1042.7" y1="1110" x2="1052.7" y2="1110" stroke="#000" stroke-width="2"/>
<text x="1040.5" y="1115.9" font-size="16.6" text-anchor="end" font-weight="bold">40</text>
<line x1="1042.7" y1="1154" x2="1052.7" y2="1154" stroke="#000" stroke-width="2"/>
<text x="1040.5" y="1159.9" font-size="16.6" text-anchor="end" font-weight="bold">20</text>
<line x1="1042.7" y1="1198" x2="1052.7" y2="1198" stroke="#000" stroke-width="2"/>
<text x="1040.5" y="1203.9" font-size="16.6" text-anchor="end" font-weight="bold">0</text>
<line x1="1091.4" y1="1198" x2="1091.4" y2="1207.5" stroke="#000" stroke-width="2"/>
<line x1="1176.3" y1="1198" x2="1176.3" y2="1207.5" stroke="#000" stroke-width="2"/>
<line x1="1260.4" y1="1198" x2="1260.4" y2="1207.5" stroke="#000" stroke-width="2"/>
<line x1="1345" y1="1198" x2="1345" y2="1207.5" stroke="#000" stroke-width="2"/>
<text x="1091.4" y="1225" font-size="16.6" text-anchor="middle" font-weight="bold">TRBV6-1</text>
<text x="1176.3" y="1225" font-size="16.6" text-anchor="middle" font-weight="bold">TRBV6-4</text>
<text x="1260.4" y="1225" font-size="16.6" text-anchor="middle" font-weight="bold">TRBV20-1</text>
<text x="1345" y="1225" font-size="16.6" text-anchor="middle" font-weight="bold">Other</text>
<rect x="1398.8" y="1102.69" width="24.9" height="12.2" fill="#5B50F5"/>
<text x="1437" y="1115.15" font-size="18.9">TRAJ12</text>
<rect x="1398.8" y="1133" width="24.9" height="12.2" fill="#EE3A3A"/>
<text x="1437" y="1145.45" font-size="18.9">TRAJ20</text>
<rect x="1398.8" y="1163.3" width="24.9" height="12.2" fill="#57D188"/>
<text x="1437" y="1175.76" font-size="18.9">TRAJ33</text>
<rect x="1398.8" y="1193.6" width="24.9" height="12.2" fill="#333333"/>
<text x="1437" y="1206.06" font-size="18.9">Other</text>
<text transform="translate(1006.2 1088.6) rotate(-90)" font-size="22.6" text-anchor="middle">Frequency(%)</text>
<text x="1219.4" y="1298" font-size="22.5" text-anchor="middle">MAIT_ TRBV</text>
<rect x="1065.15" y="1514.41" width="12.12" height="15.79" fill="#5B50F5"/>
<line x1="1071.21" y1="1507" x2="1071.21" y2="1522.15" stroke="#111" stroke-width="1"/>
<line x1="1067.81" y1="1507" x2="1074.61" y2="1507" stroke="#111" stroke-width="1"/>
<line x1="1067.81" y1="1522.15" x2="1074.61" y2="1522.15" stroke="#111" stroke-width="1"/>
<rect x="1083.33" y="1501.95" width="12.12" height="28.25" fill="#EE3A3A"/>
<line x1="1089.39" y1="1494.21" x2="1089.39" y2="1509.36" stroke="#111" stroke-width="1"/>
<line x1="1085.99" y1="1494.21" x2="1092.79" y2="1494.21" stroke="#111" stroke-width="1"/>
<line x1="1085.99" y1="1509.36" x2="1092.79" y2="1509.36" stroke="#111" stroke-width="1"/>
<rect x="1101.52" y="1518.79" width="12.12" height="11.41" fill="#57D188"/>
<line x1="1107.58" y1="1508.35" x2="1107.58" y2="1529.56" stroke="#111" stroke-width="1"/>
<line x1="1104.18" y1="1508.35" x2="1110.98" y2="1508.35" stroke="#111" stroke-width="1"/>
<line x1="1104.18" y1="1529.56" x2="1110.98" y2="1529.56" stroke="#111" stroke-width="1"/>
<rect x="1119.7" y="1522.15" width="12.12" height="8.05" fill="#333333"/>
<line x1="1125.76" y1="1516.09" x2="1125.76" y2="1527.21" stroke="#111" stroke-width="1"/>
<line x1="1122.36" y1="1516.09" x2="1129.16" y2="1516.09" stroke="#111" stroke-width="1"/>
<line x1="1122.36" y1="1527.21" x2="1129.16" y2="1527.21" stroke="#111" stroke-width="1"/>
<rect x="1149.66" y="1497.24" width="12.12" height="32.96" fill="#5B50F5"/>
<line x1="1155.72" y1="1470.98" x2="1155.72" y2="1522.83" stroke="#111" stroke-width="1"/>
<line x1="1152.32" y1="1470.98" x2="1159.12" y2="1470.98" stroke="#111" stroke-width="1"/>
<line x1="1152.32" y1="1522.83" x2="1159.12" y2="1522.83" stroke="#111" stroke-width="1"/>
<rect x="1167.85" y="1492.19" width="12.12" height="38.01" fill="#EE3A3A"/>
<line x1="1173.91" y1="1471.31" x2="1173.91" y2="1512.73" stroke="#111" stroke-width="1"/>
<line x1="1170.51" y1="1471.31" x2="1177.31" y2="1471.31" stroke="#111" stroke-width="1"/>
<line x1="1170.51" y1="1512.73" x2="1177.31" y2="1512.73" stroke="#111" stroke-width="1"/>
<rect x="1186.03" y="1521.82" width="12.12" height="8.38" fill="#57D188"/>
<line x1="1192.09" y1="1514.41" x2="1192.09" y2="1529.56" stroke="#111" stroke-width="1"/>
<line x1="1188.69" y1="1514.41" x2="1195.49" y2="1514.41" stroke="#111" stroke-width="1"/>
<line x1="1188.69" y1="1529.56" x2="1195.49" y2="1529.56" stroke="#111" stroke-width="1"/>
<rect x="1204.21" y="1514.07" width="12.12" height="16.13" fill="#333333"/>
<line x1="1210.27" y1="1492.53" x2="1210.27" y2="1530.24" stroke="#111" stroke-width="1"/>
<line x1="1206.87" y1="1492.53" x2="1213.67" y2="1492.53" stroke="#111" stroke-width="1"/>
<line x1="1206.87" y1="1530.24" x2="1213.67" y2="1530.24" stroke="#111" stroke-width="1"/>
<rect x="1233.84" y="1404.98" width="12.12" height="125.22" fill="#5B50F5"/>
<line x1="1239.9" y1="1340.34" x2="1239.9" y2="1468.96" stroke="#111" stroke-width="1"/>
<line x1="1236.5" y1="1340.34" x2="1243.3" y2="1340.34" stroke="#111" stroke-width="1"/>
<line x1="1236.5" y1="1468.96" x2="1243.3" y2="1468.96" stroke="#111" stroke-width="1"/>
<rect x="1252.02" y="1423.16" width="12.12" height="107.04" fill="#EE3A3A"/>
<line x1="1258.08" y1="1370.64" x2="1258.08" y2="1475.02" stroke="#111" stroke-width="1"/>
<line x1="1254.68" y1="1370.64" x2="1261.48" y2="1370.64" stroke="#111" stroke-width="1"/>
<line x1="1254.68" y1="1475.02" x2="1261.48" y2="1475.02" stroke="#111" stroke-width="1"/>
<rect x="1270.2" y="1379.73" width="12.12" height="150.47" fill="#57D188"/>
<line x1="1276.26" y1="1314.07" x2="1276.26" y2="1444.71" stroke="#111" stroke-width="1"/>
<line x1="1272.86" y1="1314.07" x2="1279.66" y2="1314.07" stroke="#111" stroke-width="1"/>
<line x1="1272.86" y1="1444.71" x2="1279.66" y2="1444.71" stroke="#111" stroke-width="1"/>
<rect x="1288.38" y="1387.81" width="12.12" height="142.39" fill="#333333"/>
<line x1="1294.44" y1="1311.38" x2="1294.44" y2="1464.24" stroke="#111" stroke-width="1"/>
<line x1="1291.04" y1="1311.38" x2="1297.84" y2="1311.38" stroke="#111" stroke-width="1"/>
<line x1="1291.04" y1="1464.24" x2="1297.84" y2="1464.24" stroke="#111" stroke-width="1"/>
<rect x="1318.01" y="1505.99" width="12.12" height="24.21" fill="#5B50F5"/>
<line x1="1324.07" y1="1465.93" x2="1324.07" y2="1530.24" stroke="#111" stroke-width="1"/>
<line x1="1320.67" y1="1465.93" x2="1327.47" y2="1465.93" stroke="#111" stroke-width="1"/>
<line x1="1320.67" y1="1530.24" x2="1327.47" y2="1530.24" stroke="#111" stroke-width="1"/>
<rect x="1336.2" y="1505.32" width="12.12" height="24.88" fill="#EE3A3A"/>
<line x1="1342.26" y1="1478.38" x2="1342.26" y2="1530.24" stroke="#111" stroke-width="1"/>
<line x1="1338.86" y1="1478.38" x2="1345.66" y2="1478.38" stroke="#111" stroke-width="1"/>
<line x1="1338.86" y1="1530.24" x2="1345.66" y2="1530.24" stroke="#111" stroke-width="1"/>
<rect x="1354.38" y="1501.62" width="12.12" height="28.58" fill="#57D188"/>
<line x1="1360.44" y1="1452.79" x2="1360.44" y2="1530.24" stroke="#111" stroke-width="1"/>
<line x1="1357.04" y1="1452.79" x2="1363.84" y2="1452.79" stroke="#111" stroke-width="1"/>
<line x1="1357.04" y1="1530.24" x2="1363.84" y2="1530.24" stroke="#111" stroke-width="1"/>
<rect x="1372.56" y="1498.25" width="12.12" height="31.95" fill="#333333"/>
<line x1="1378.62" y1="1447.41" x2="1378.62" y2="1530.24" stroke="#111" stroke-width="1"/>
<line x1="1375.22" y1="1447.41" x2="1382.02" y2="1447.41" stroke="#111" stroke-width="1"/>
<line x1="1375.22" y1="1530.24" x2="1382.02" y2="1530.24" stroke="#111" stroke-width="1"/>
<line x1="1059.4" y1="1309.7" x2="1059.4" y2="1531.2" stroke="#000" stroke-width="2"/>
<line x1="1050" y1="1530.2" x2="1391" y2="1530.2" stroke="#000" stroke-width="2"/>
<line x1="1049.4" y1="1330.2" x2="1059.4" y2="1330.2" stroke="#000" stroke-width="2"/>
<text x="1047" y="1336.1" font-size="16.6" text-anchor="end" font-weight="bold">100</text>
<line x1="1049.4" y1="1370.3" x2="1059.4" y2="1370.3" stroke="#000" stroke-width="2"/>
<text x="1047" y="1376.2" font-size="16.6" text-anchor="end" font-weight="bold">80</text>
<line x1="1049.4" y1="1410.4" x2="1059.4" y2="1410.4" stroke="#000" stroke-width="2"/>
<text x="1047" y="1416.3" font-size="16.6" text-anchor="end" font-weight="bold">60</text>
<line x1="1049.4" y1="1450.4" x2="1059.4" y2="1450.4" stroke="#000" stroke-width="2"/>
<text x="1047" y="1456.3" font-size="16.6" text-anchor="end" font-weight="bold">40</text>
<line x1="1049.4" y1="1490.5" x2="1059.4" y2="1490.5" stroke="#000" stroke-width="2"/>
<text x="1047" y="1496.4" font-size="16.6" text-anchor="end" font-weight="bold">20</text>
<line x1="1049.4" y1="1530.2" x2="1059.4" y2="1530.2" stroke="#000" stroke-width="2"/>
<text x="1047" y="1536.1" font-size="16.6" text-anchor="end" font-weight="bold">0</text>
<line x1="1098.1" y1="1530.2" x2="1098.1" y2="1539.7" stroke="#000" stroke-width="2"/>
<line x1="1182.3" y1="1530.2" x2="1182.3" y2="1539.7" stroke="#000" stroke-width="2"/>
<line x1="1266.5" y1="1530.2" x2="1266.5" y2="1539.7" stroke="#000" stroke-width="2"/>
<line x1="1350.7" y1="1530.2" x2="1350.7" y2="1539.7" stroke="#000" stroke-width="2"/>
<text x="1098.1" y="1557.5" font-size="16.6" text-anchor="middle" font-weight="bold">TRAJ12</text>
<text x="1182.3" y="1557.5" font-size="16.6" text-anchor="middle" font-weight="bold">TRAJ20</text>
<text x="1266.5" y="1557.5" font-size="16.6" text-anchor="middle" font-weight="bold">TRAJ33</text>
<text x="1350.7" y="1557.5" font-size="16.6" text-anchor="middle" font-weight="bold">Other</text>
<rect x="1406.9" y="1429.56" width="24.2" height="12.2" fill="#5B50F5"/>
<text x="1444" y="1441.35" font-size="18.3">TRBV6-1</text>
<rect x="1406.9" y="1458.86" width="24.2" height="12.2" fill="#EE3A3A"/>
<text x="1444" y="1470.64" font-size="18.3">TRBV6-4</text>
<rect x="1406.9" y="1488.15" width="24.2" height="12.2" fill="#57D188"/>
<text x="1444" y="1499.93" font-size="18.3">TRBV20-1</text>
<rect x="1406.9" y="1517.44" width="24.2" height="12.2" fill="#333333"/>
<text x="1444" y="1529.23" font-size="18.3">Other</text>
<text transform="translate(1006.5 1424) rotate(-90)" font-size="22.6" text-anchor="middle">Frequency(%)</text>
<text x="1731" y="977.9" font-size="22.7" text-anchor="middle">iNKT_TRAJ</text>
<rect x="1651.63" y="1007.89" width="26.47" height="188.81" fill="#F28322"/>
<line x1="1664.87" y1="1004.9" x2="1664.87" y2="1010.64" stroke="#111" stroke-width="1"/>
<line x1="1658.67" y1="1004.9" x2="1671.07" y2="1004.9" stroke="#111" stroke-width="1"/>
<line x1="1658.67" y1="1010.64" x2="1671.07" y2="1010.64" stroke="#111" stroke-width="1"/>
<rect x="1691.09" y="1175.97" width="26.47" height="20.73" fill="#333333"/>
<line x1="1704.33" y1="1160.49" x2="1704.33" y2="1190.96" stroke="#111" stroke-width="1"/>
<line x1="1698.13" y1="1160.49" x2="1710.53" y2="1160.49" stroke="#111" stroke-width="1"/>
<line x1="1698.13" y1="1190.96" x2="1710.53" y2="1190.96" stroke="#111" stroke-width="1"/>
<rect x="1757.27" y="1187.96" width="26.47" height="8.74" fill="#F28322"/>
<line x1="1770.51" y1="1184.72" x2="1770.51" y2="1190.46" stroke="#111" stroke-width="1"/>
<line x1="1764.31" y1="1184.72" x2="1776.71" y2="1184.72" stroke="#111" stroke-width="1"/>
<line x1="1764.31" y1="1190.46" x2="1776.71" y2="1190.46" stroke="#111" stroke-width="1"/>
<rect x="1796.98" y="1019.88" width="26.47" height="176.82" fill="#333333"/>
<line x1="1810.22" y1="1004.4" x2="1810.22" y2="1035.11" stroke="#111" stroke-width="1"/>
<line x1="1804.02" y1="1004.4" x2="1816.42" y2="1004.4" stroke="#111" stroke-width="1"/>
<line x1="1804.02" y1="1035.11" x2="1816.42" y2="1035.11" stroke="#111" stroke-width="1"/>
<line x1="1638.6" y1="998.7" x2="1638.6" y2="1197.7" stroke="#000" stroke-width="2"/>
<line x1="1631.1" y1="1196.7" x2="1837.2" y2="1196.7" stroke="#000" stroke-width="2"/>
<line x1="1628.6" y1="998.7" x2="1638.6" y2="998.7" stroke="#000" stroke-width="2"/>
<text x="1628" y="1004.1" font-size="15" text-anchor="end" font-weight="bold">100</text>
<line x1="1628.6" y1="1038.3" x2="1638.6" y2="1038.3" stroke="#000" stroke-width="2"/>
<text x="1628" y="1043.7" font-size="15" text-anchor="end" font-weight="bold">80</text>
<line x1="1628.6" y1="1077.9" x2="1638.6" y2="1077.9" stroke="#000" stroke-width="2"/>
<text x="1628" y="1083.3" font-size="15" text-anchor="end" font-weight="bold">60</text>
<line x1="1628.6" y1="1117.5" x2="1638.6" y2="1117.5" stroke="#000" stroke-width="2"/>
<text x="1628" y="1122.9" font-size="15" text-anchor="end" font-weight="bold">40</text>
<line x1="1628.6" y1="1157.1" x2="1638.6" y2="1157.1" stroke="#000" stroke-width="2"/>
<text x="1628" y="1162.5" font-size="15" text-anchor="end" font-weight="bold">20</text>
<line x1="1628.6" y1="1196.7" x2="1638.6" y2="1196.7" stroke="#000" stroke-width="2"/>
<text x="1628" y="1202.1" font-size="15" text-anchor="end" font-weight="bold">0</text>
<line x1="1684.3" y1="1196.7" x2="1684.3" y2="1206.2" stroke="#000" stroke-width="2"/>
<line x1="1790.2" y1="1196.7" x2="1790.2" y2="1206.2" stroke="#000" stroke-width="2"/>
<text x="1684.3" y="1222.2" font-size="15" text-anchor="middle" font-weight="bold">TRBV25-1</text>
<text x="1790.2" y="1222.2" font-size="15" text-anchor="middle" font-weight="bold">Other</text>
<rect x="1847.9" y="1149.8" width="21" height="10.4" fill="#F28322"/>
<text x="1880.4" y="1161.5" font-size="16.4">TRAJ18</text>
<rect x="1847.9" y="1176" width="21" height="10.2" fill="#333333"/>
<text x="1880.4" y="1187.3" font-size="16.4">Other</text>
<text transform="translate(1594 1098.5) rotate(-90)" font-size="22.6" text-anchor="middle">Frequency(%)</text>
<text x="1732.8" y="1312.4" font-size="22.7" text-anchor="middle">iNKT_TRBV</text>
<rect x="1654.38" y="1335.65" width="26.47" height="197.05" fill="#F28322"/>
<line x1="1667.61" y1="1335.15" x2="1667.61" y2="1335.9" stroke="#111" stroke-width="1"/>
<line x1="1661.41" y1="1335.15" x2="1673.81" y2="1335.15" stroke="#111" stroke-width="1"/>
<line x1="1661.41" y1="1335.9" x2="1673.81" y2="1335.9" stroke="#111" stroke-width="1"/>
<rect x="1693.84" y="1428.31" width="26.47" height="104.39" fill="#333333"/>
<line x1="1707.07" y1="1374.12" x2="1707.07" y2="1481.76" stroke="#111" stroke-width="1"/>
<line x1="1700.87" y1="1374.12" x2="1713.27" y2="1374.12" stroke="#111" stroke-width="1"/>
<line x1="1700.87" y1="1481.76" x2="1713.27" y2="1481.76" stroke="#111" stroke-width="1"/>
<rect x="1766.01" y="1531.71" width="13.74" height="0.99" fill="#F28322"/>
<rect x="1799.23" y="1439.8" width="26.47" height="92.9" fill="#333333"/>
<line x1="1812.47" y1="1385.6" x2="1812.47" y2="1493.75" stroke="#111" stroke-width="1"/>
<line x1="1806.27" y1="1385.6" x2="1818.67" y2="1385.6" stroke="#111" stroke-width="1"/>
<line x1="1806.27" y1="1493.75" x2="1818.67" y2="1493.75" stroke="#111" stroke-width="1"/>
<line x1="1641.1" y1="1334.9" x2="1641.1" y2="1533.7" stroke="#000" stroke-width="2"/>
<line x1="1632.9" y1="1532.7" x2="1839.7" y2="1532.7" stroke="#000" stroke-width="2"/>
<line x1="1631.1" y1="1334.9" x2="1641.1" y2="1334.9" stroke="#000" stroke-width="2"/>
<text x="1630.5" y="1340.3" font-size="15" text-anchor="end" font-weight="bold">100</text>
<line x1="1631.1" y1="1374.5" x2="1641.1" y2="1374.5" stroke="#000" stroke-width="2"/>
<text x="1630.5" y="1379.9" font-size="15" text-anchor="end" font-weight="bold">80</text>
<line x1="1631.1" y1="1414" x2="1641.1" y2="1414" stroke="#000" stroke-width="2"/>
<text x="1630.5" y="1419.4" font-size="15" text-anchor="end" font-weight="bold">60</text>
<line x1="1631.1" y1="1453.6" x2="1641.1" y2="1453.6" stroke="#000" stroke-width="2"/>
<text x="1630.5" y="1459" font-size="15" text-anchor="end" font-weight="bold">40</text>
<line x1="1631.1" y1="1493.1" x2="1641.1" y2="1493.1" stroke="#000" stroke-width="2"/>
<text x="1630.5" y="1498.5" font-size="15" text-anchor="end" font-weight="bold">20</text>
<line x1="1631.1" y1="1532.7" x2="1641.1" y2="1532.7" stroke="#000" stroke-width="2"/>
<text x="1630.5" y="1538.1" font-size="15" text-anchor="end" font-weight="bold">0</text>
<line x1="1686.8" y1="1532.7" x2="1686.8" y2="1542.2" stroke="#000" stroke-width="2"/>
<line x1="1792.7" y1="1532.7" x2="1792.7" y2="1542.2" stroke="#000" stroke-width="2"/>
<text x="1686.8" y="1556.7" font-size="15" text-anchor="middle" font-weight="bold">TRAJ18</text>
<text x="1792.7" y="1556.7" font-size="15" text-anchor="middle" font-weight="bold">Other</text>
<rect x="1859.7" y="1485.5" width="20.7" height="10" fill="#F28322"/>
<text x="1892.1" y="1497.3" font-size="16.4">TRBV25-1</text>
<rect x="1859.7" y="1511.7" width="20.7" height="10" fill="#333333"/>
<text x="1892.1" y="1523.3" font-size="16.4">Other</text>
<text transform="translate(1595.5 1429.8) rotate(-90)" font-size="22.6" text-anchor="middle">Frequency(%)</text>
<text x="21" y="1686.5" font-size="37" font-weight="bold">f</text>
<line x1="223.57" y1="1765.01" x2="223.57" y2="1788.8" stroke="#777" stroke-width="0.9"/>
<line x1="220.37" y1="1765.01" x2="226.77" y2="1765.01" stroke="#777" stroke-width="0.9"/>
<line x1="220.37" y1="1788.8" x2="226.77" y2="1788.8" stroke="#777" stroke-width="0.9"/>
<rect x="215.49" y="1767.25" width="16.16" height="18.41" fill="#F03A22" stroke="#8a2a2a" stroke-width="0.5"/>
<line x1="215.49" y1="1773.54" x2="231.65" y2="1773.54" stroke="#444" stroke-width="0.7"/>
<line x1="248.26" y1="1717.42" x2="248.26" y2="1795.53" stroke="#777" stroke-width="0.9"/>
<line x1="245.06" y1="1717.42" x2="251.46" y2="1717.42" stroke="#777" stroke-width="0.9"/>
<line x1="245.06" y1="1795.53" x2="251.46" y2="1795.53" stroke="#777" stroke-width="0.9"/>
<rect x="240.18" y="1730.89" width="16.16" height="59.26" fill="#2222F2" stroke="#1a1a9a" stroke-width="0.5"/>
<line x1="240.18" y1="1771.74" x2="256.34" y2="1771.74" stroke="#444" stroke-width="0.7"/>
<line x1="290.01" y1="1899.69" x2="290.01" y2="1910.46" stroke="#777" stroke-width="0.9"/>
<line x1="286.81" y1="1899.69" x2="293.21" y2="1899.69" stroke="#777" stroke-width="0.9"/>
<line x1="286.81" y1="1910.46" x2="293.21" y2="1910.46" stroke="#777" stroke-width="0.9"/>
<rect x="281.93" y="1901.48" width="16.16" height="8.08" fill="#F03A22" stroke="#8a2a2a" stroke-width="0.5"/>
<line x1="281.93" y1="1905.52" x2="298.09" y2="1905.52" stroke="#444" stroke-width="0.7"/>
<line x1="314.7" y1="1905.07" x2="314.7" y2="1924.83" stroke="#777" stroke-width="0.9"/>
<line x1="311.5" y1="1905.07" x2="317.9" y2="1905.07" stroke="#777" stroke-width="0.9"/>
<line x1="311.5" y1="1924.83" x2="317.9" y2="1924.83" stroke="#777" stroke-width="0.9"/>
<rect x="306.62" y="1910.01" width="16.16" height="13.92" fill="#2222F2" stroke="#1a1a9a" stroke-width="0.5"/>
<line x1="306.62" y1="1916.3" x2="322.78" y2="1916.3" stroke="#444" stroke-width="0.7"/>
<line x1="356" y1="1916.75" x2="356" y2="1925.72" stroke="#777" stroke-width="0.9"/>
<line x1="352.8" y1="1916.75" x2="359.2" y2="1916.75" stroke="#777" stroke-width="0.9"/>
<line x1="352.8" y1="1925.72" x2="359.2" y2="1925.72" stroke="#777" stroke-width="0.9"/>
<rect x="347.92" y="1918.09" width="16.16" height="6.29" fill="#F03A22" stroke="#8a2a2a" stroke-width="0.5"/>
<line x1="347.92" y1="1921.23" x2="364.09" y2="1921.23" stroke="#444" stroke-width="0.7"/>
<line x1="381.14" y1="1924.38" x2="381.14" y2="1935.6" stroke="#777" stroke-width="0.9"/>
<line x1="377.94" y1="1924.38" x2="384.34" y2="1924.38" stroke="#777" stroke-width="0.9"/>
<line x1="377.94" y1="1935.6" x2="384.34" y2="1935.6" stroke="#777" stroke-width="0.9"/>
<rect x="373.06" y="1925.27" width="16.16" height="10.33" fill="#2222F2" stroke="#1a1a9a" stroke-width="0.5"/>
<line x1="373.06" y1="1929.76" x2="389.23" y2="1929.76" stroke="#444" stroke-width="0.7"/>
<line x1="422.45" y1="1927.07" x2="422.45" y2="1930.21" stroke="#777" stroke-width="0.9"/>
<line x1="419.25" y1="1927.07" x2="425.65" y2="1927.07" stroke="#777" stroke-width="0.9"/>
<line x1="419.25" y1="1930.21" x2="425.65" y2="1930.21" stroke="#777" stroke-width="0.9"/>
<rect x="414.37" y="1927.52" width="16.16" height="2.24" fill="#F03A22" stroke="#8a2a2a" stroke-width="0.5"/>
<line x1="414.37" y1="1928.42" x2="430.53" y2="1928.42" stroke="#444" stroke-width="0.7"/>
<line x1="447.59" y1="1905.07" x2="447.59" y2="1935.6" stroke="#777" stroke-width="0.9"/>
<line x1="444.39" y1="1905.07" x2="450.79" y2="1905.07" stroke="#777" stroke-width="0.9"/>
<line x1="444.39" y1="1935.6" x2="450.79" y2="1935.6" stroke="#777" stroke-width="0.9"/>
<rect x="439.51" y="1910.46" width="16.16" height="25.14" fill="#2222F2" stroke="#1a1a9a" stroke-width="0.5"/>
<line x1="439.51" y1="1928.87" x2="455.67" y2="1928.87" stroke="#444" stroke-width="0.7"/>
<line x1="489.34" y1="1927.97" x2="489.34" y2="1931.11" stroke="#777" stroke-width="0.9"/>
<line x1="486.14" y1="1927.97" x2="492.54" y2="1927.97" stroke="#777" stroke-width="0.9"/>
<line x1="486.14" y1="1931.11" x2="492.54" y2="1931.11" stroke="#777" stroke-width="0.9"/>
<rect x="481.26" y="1928.42" width="16.16" height="2.24" fill="#F03A22" stroke="#8a2a2a" stroke-width="0.5"/>
<line x1="481.26" y1="1929.32" x2="497.42" y2="1929.32" stroke="#444" stroke-width="0.7"/>
<line x1="514.03" y1="1923.03" x2="514.03" y2="1935.6" stroke="#777" stroke-width="0.9"/>
<line x1="510.83" y1="1923.03" x2="517.23" y2="1923.03" stroke="#777" stroke-width="0.9"/>
<line x1="510.83" y1="1935.6" x2="517.23" y2="1935.6" stroke="#777" stroke-width="0.9"/>
<rect x="505.95" y="1925.27" width="16.16" height="10.33" fill="#2222F2" stroke="#1a1a9a" stroke-width="0.5"/>
<line x1="505.95" y1="1931.11" x2="522.11" y2="1931.11" stroke="#444" stroke-width="0.7"/>
<line x1="555.33" y1="1902.38" x2="555.33" y2="1912.7" stroke="#777" stroke-width="0.9"/>
<line x1="552.13" y1="1902.38" x2="558.53" y2="1902.38" stroke="#777" stroke-width="0.9"/>
<line x1="552.13" y1="1912.7" x2="558.53" y2="1912.7" stroke="#777" stroke-width="0.9"/>
<rect x="547.25" y="1904.18" width="16.16" height="8.08" fill="#F03A22" stroke="#8a2a2a" stroke-width="0.5"/>
<line x1="547.25" y1="1908.66" x2="563.41" y2="1908.66" stroke="#444" stroke-width="0.7"/>
<line x1="580.47" y1="1887.56" x2="580.47" y2="1924.38" stroke="#777" stroke-width="0.9"/>
<line x1="577.27" y1="1887.56" x2="583.67" y2="1887.56" stroke="#777" stroke-width="0.9"/>
<line x1="577.27" y1="1924.38" x2="583.67" y2="1924.38" stroke="#777" stroke-width="0.9"/>
<rect x="572.39" y="1889.81" width="16.16" height="28.73" fill="#2222F2" stroke="#1a1a9a" stroke-width="0.5"/>
<line x1="572.39" y1="1898.34" x2="588.55" y2="1898.34" stroke="#444" stroke-width="0.7"/>
<line x1="206.7" y1="1682.9" x2="206.7" y2="1936.9" stroke="#000" stroke-width="2.7"/>
<line x1="197.5" y1="1935.7" x2="599.3" y2="1935.7" stroke="#000" stroke-width="2.6"/>
<line x1="196.5" y1="1696.3" x2="206.5" y2="1696.3" stroke="#000" stroke-width="2.4"/>
<text x="193.5" y="1703.2" font-size="19.6" text-anchor="end" font-weight="bold">100</text>
<line x1="196.5" y1="1744.4" x2="206.5" y2="1744.4" stroke="#000" stroke-width="2.4"/>
<text x="193.5" y="1751.3" font-size="19.6" text-anchor="end" font-weight="bold">80</text>
<line x1="196.5" y1="1791.9" x2="206.5" y2="1791.9" stroke="#000" stroke-width="2.4"/>
<text x="193.5" y="1798.8" font-size="19.6" text-anchor="end" font-weight="bold">60</text>
<line x1="196.5" y1="1840" x2="206.5" y2="1840" stroke="#000" stroke-width="2.4"/>
<text x="193.5" y="1846.9" font-size="19.6" text-anchor="end" font-weight="bold">40</text>
<line x1="196.5" y1="1888" x2="206.5" y2="1888" stroke="#000" stroke-width="2.4"/>
<text x="193.5" y="1894.9" font-size="19.6" text-anchor="end" font-weight="bold">20</text>
<line x1="196.5" y1="1935.6" x2="206.5" y2="1935.6" stroke="#000" stroke-width="2.4"/>
<text x="193.5" y="1942.5" font-size="19.6" text-anchor="end" font-weight="bold">0</text>
<line x1="235.7" y1="1935.6" x2="235.7" y2="1947.6" stroke="#000" stroke-width="2.4"/>
<text x="235.7" y="1966.8" font-size="19.6" text-anchor="middle" font-weight="bold">1</text>
<line x1="301.7" y1="1935.6" x2="301.7" y2="1947.6" stroke="#000" stroke-width="2.4"/>
<text x="301.7" y="1966.8" font-size="19.6" text-anchor="middle" font-weight="bold">2</text>
<line x1="368.1" y1="1935.6" x2="368.1" y2="1947.6" stroke="#000" stroke-width="2.4"/>
<text x="368.1" y="1966.8" font-size="19.6" text-anchor="middle" font-weight="bold">3</text>
<line x1="434.6" y1="1935.6" x2="434.6" y2="1947.6" stroke="#000" stroke-width="2.4"/>
<text x="434.6" y="1966.8" font-size="19.6" text-anchor="middle" font-weight="bold">4</text>
<line x1="501.5" y1="1935.6" x2="501.5" y2="1947.6" stroke="#000" stroke-width="2.4"/>
<text x="501.5" y="1966.8" font-size="19.6" text-anchor="middle" font-weight="bold">5</text>
<line x1="567.9" y1="1935.6" x2="567.9" y2="1947.6" stroke="#000" stroke-width="2.4"/>
<text x="567.9" y="1966.8" font-size="19.6" text-anchor="middle" font-weight="bold">5&gt;</text>
<text x="237.93" y="1695.42" font-size="14.2" text-anchor="middle">ns</text>
<line x1="228.06" y1="1704.4" x2="246.91" y2="1704.4" stroke="#000" stroke-width="1.8"/>
<text x="301.68" y="1870.51" font-size="14.2" text-anchor="middle">ns</text>
<line x1="292.7" y1="1880.38" x2="311.11" y2="1880.38" stroke="#000" stroke-width="1.8"/>
<text x="370.82" y="1870.51" font-size="14.2" text-anchor="middle">ns</text>
<line x1="361.84" y1="1879.48" x2="380.7" y2="1879.48" stroke="#000" stroke-width="1.8"/>
<text x="442.2" y="1869.16" font-size="14.2" text-anchor="middle">ns</text>
<line x1="432.77" y1="1878.14" x2="451.63" y2="1878.14" stroke="#000" stroke-width="1.8"/>
<text x="516.27" y="1870.51" font-size="14.2" text-anchor="middle">ns</text>
<line x1="507.3" y1="1879.48" x2="526.15" y2="1879.48" stroke="#000" stroke-width="1.8"/>
<text x="589.45" y="1863.32" font-size="14.2" text-anchor="middle">ns</text>
<line x1="580.02" y1="1872.3" x2="599.33" y2="1872.3" stroke="#000" stroke-width="1.8"/>
<text transform="translate(128.4 1817.5) rotate(-90)" font-size="22.6" text-anchor="middle">Frequency(%)</text>
<text x="417.5" y="2006" font-size="23" text-anchor="middle">Number of unique TCR<tspan font-family="'Liberation Serif', 'DejaVu Serif', serif" font-style="italic" font-size="25">αβ</tspan> chains</text>
<text x="417.5" y="2033.6" font-size="23" text-anchor="middle">paired with any given TCR<tspan font-family="'Liberation Serif', 'DejaVu Serif', serif" font-style="italic" font-size="25">α</tspan> chain</text>
<line x1="639.8" y1="1761.8" x2="679" y2="1761.8" stroke="#444" stroke-width="0.9"/>
<rect x="645.3" y="1746.2" width="27.8" height="31.2" fill="#F03A22" stroke="#444" stroke-width="0.8"/>
<line x1="659.2" y1="1746.2" x2="659.2" y2="1777.4" stroke="#333" stroke-width="0.9"/>
<text x="681.3" y="1766.3" font-size="18.3">MAIT</text>
<line x1="639.8" y1="1799.1" x2="679" y2="1799.1" stroke="#444" stroke-width="0.9"/>
<rect x="645.3" y="1783.5" width="27.8" height="31.2" fill="#2222F2" stroke="#444" stroke-width="0.8"/>
<line x1="659.2" y1="1783.5" x2="659.2" y2="1814.7" stroke="#333" stroke-width="0.9"/>
<text x="681.3" y="1798.3" font-size="18.3">iNKT</text>
<text x="842.5" y="1691.5" font-size="37" font-weight="bold">g</text>
<text x="1207.2" y="1648.8" font-size="30" text-anchor="middle">CDR3α</text>
<text x="1460.1" y="1648.8" font-size="30" text-anchor="middle">CDR3β</text>
<text x="1705.9" y="1648.8" font-size="30" text-anchor="middle">CDR3αβ</text>
<text transform="translate(1001 1785.2) rotate(-90)" font-size="30.6" text-anchor="middle">MAIT</text>
<text transform="translate(1001 2107.3) rotate(-90)" font-size="30.4" text-anchor="middle">NKT</text>
<text transform="translate(1054 1793) rotate(-90)" font-size="26.5" text-anchor="middle">Number of cells</text>
<text transform="translate(1059.4 2115) rotate(-90)" font-size="26.5" text-anchor="middle">Number of cells</text>
<text x="1219" y="2291.6" font-size="26.4" text-anchor="middle">Number of donors</text>
<rect x="1148.28" y="1915.82" width="24.24" height="1.68" fill="#EFB77A" stroke="#111" stroke-width="1.4"/>
<rect x="1148.28" y="1913.8" width="24.24" height="2.02" fill="#C45454" stroke="#111" stroke-width="1.4"/>
<rect x="1148.28" y="1907.41" width="24.24" height="6.4" fill="#6F9F9A" stroke="#111" stroke-width="1.4"/>
<rect x="1148.28" y="1902.02" width="24.24" height="5.39" fill="#5A4547" stroke="#111" stroke-width="1.4"/>
<rect x="1183.64" y="1916.5" width="24.24" height="1.01" fill="#C45454" stroke="#111" stroke-width="1.4"/>
<rect x="1183.64" y="1912.79" width="24.24" height="3.7" fill="#6F9F9A" stroke="#111" stroke-width="1.4"/>
<rect x="1183.64" y="1912.12" width="24.24" height="0.67" fill="#5A4547" stroke="#111" stroke-width="1.4"/>
<rect x="1218.99" y="1916.5" width="23.91" height="1.01" fill="#C45454" stroke="#111" stroke-width="1.4"/>
<rect x="1218.99" y="1912.79" width="23.91" height="3.7" fill="#6F9F9A" stroke="#111" stroke-width="1.4"/>
<rect x="1218.99" y="1912.12" width="23.91" height="0.67" fill="#5A4547" stroke="#111" stroke-width="1.4"/>
<rect x="1254.34" y="1896.97" width="23.91" height="20.54" fill="#EFB77A" stroke="#111" stroke-width="1.4"/>
<rect x="1254.34" y="1878.45" width="23.91" height="18.52" fill="#C45454" stroke="#111" stroke-width="1.4"/>
<rect x="1254.34" y="1835.69" width="23.91" height="42.76" fill="#6F9F9A" stroke="#111" stroke-width="1.4"/>
<rect x="1254.34" y="1777.1" width="23.91" height="58.59" fill="#5A4547" stroke="#111" stroke-width="1.4"/>
<line x1="1137.5" y1="1688.2" x2="1137.5" y2="1919.2" stroke="#000" stroke-width="2.5"/>
<line x1="1128" y1="1918.2" x2="1290.4" y2="1918.2" stroke="#000" stroke-width="2.5"/>
<line x1="1128" y1="1690.2" x2="1137.5" y2="1690.2" stroke="#000" stroke-width="2.5"/>
<text transform="translate(1123 1696.1) scale(0.95 1)" font-size="17.4" text-anchor="end" font-weight="bold">15000</text>
<line x1="1128" y1="1765.7" x2="1137.5" y2="1765.7" stroke="#000" stroke-width="2.5"/>
<text transform="translate(1123 1771.6) scale(0.95 1)" font-size="17.4" text-anchor="end" font-weight="bold">10000</text>
<line x1="1128" y1="1841.8" x2="1137.5" y2="1841.8" stroke="#000" stroke-width="2.5"/>
<text transform="translate(1123 1847.7) scale(0.95 1)" font-size="17.4" text-anchor="end" font-weight="bold">5000</text>
<line x1="1128" y1="1917.5" x2="1137.5" y2="1917.5" stroke="#000" stroke-width="2.5"/>
<text transform="translate(1123 1923.4) scale(0.95 1)" font-size="17.4" text-anchor="end" font-weight="bold">0</text>
<line x1="1160" y1="1918.2" x2="1160" y2="1927.7" stroke="#000" stroke-width="2.5"/>
<text transform="translate(1160 1947) scale(0.92 1)" font-size="17.6" text-anchor="middle" font-weight="bold">1</text>
<line x1="1195.4" y1="1918.2" x2="1195.4" y2="1927.7" stroke="#000" stroke-width="2.5"/>
<text transform="translate(1195.4 1947) scale(0.92 1)" font-size="17.6" text-anchor="middle" font-weight="bold">2</text>
<line x1="1230.4" y1="1918.2" x2="1230.4" y2="1927.7" stroke="#000" stroke-width="2.5"/>
<text transform="translate(1230.4 1947) scale(0.92 1)" font-size="17.6" text-anchor="middle" font-weight="bold">3</text>
<line x1="1265.8" y1="1918.2" x2="1265.8" y2="1927.7" stroke="#000" stroke-width="2.5"/>
<text transform="translate(1265.8 1947) scale(0.92 1)" font-size="17.6" text-anchor="middle" font-weight="bold">4</text>
<rect x="1396.84" y="1893.94" width="23.91" height="24.24" fill="#EFB77A" stroke="#111" stroke-width="1.4"/>
<rect x="1396.84" y="1874.41" width="23.91" height="19.53" fill="#C45454" stroke="#111" stroke-width="1.4"/>
<rect x="1396.84" y="1820.2" width="23.91" height="54.21" fill="#6F9F9A" stroke="#111" stroke-width="1.4"/>
<rect x="1396.84" y="1762.63" width="23.91" height="57.58" fill="#5A4547" stroke="#111" stroke-width="1.4"/>
<rect x="1432.19" y="1913.13" width="23.91" height="5.05" fill="#5A4547" stroke="#111" stroke-width="1.4"/>
<rect x="1467.54" y="1916.84" width="23.91" height="1.35" fill="#5A4547" stroke="#111" stroke-width="1.4"/>
<rect x="1502.9" y="1915.82" width="23.91" height="2.36" fill="#C45454" stroke="#111" stroke-width="1.4"/>
<rect x="1502.9" y="1913.13" width="23.91" height="2.69" fill="#5A4547" stroke="#111" stroke-width="1.4"/>
<line x1="1385" y1="1689.9" x2="1385" y2="1919.9" stroke="#000" stroke-width="2.5"/>
<line x1="1376" y1="1918.9" x2="1538.6" y2="1918.9" stroke="#000" stroke-width="2.5"/>
<line x1="1375.5" y1="1690.9" x2="1385" y2="1690.9" stroke="#000" stroke-width="2.5"/>
<text transform="translate(1371 1696.8) scale(0.95 1)" font-size="17.4" text-anchor="end" font-weight="bold">15000</text>
<line x1="1375.5" y1="1766.9" x2="1385" y2="1766.9" stroke="#000" stroke-width="2.5"/>
<text transform="translate(1371 1772.8) scale(0.95 1)" font-size="17.4" text-anchor="end" font-weight="bold">10000</text>
<line x1="1375.5" y1="1842.9" x2="1385" y2="1842.9" stroke="#000" stroke-width="2.5"/>
<text transform="translate(1371 1848.8) scale(0.95 1)" font-size="17.4" text-anchor="end" font-weight="bold">5000</text>
<line x1="1375.5" y1="1918.9" x2="1385" y2="1918.9" stroke="#000" stroke-width="2.5"/>
<text transform="translate(1371 1924.8) scale(0.95 1)" font-size="17.4" text-anchor="end" font-weight="bold">0</text>
<line x1="1408" y1="1918.9" x2="1408" y2="1928.4" stroke="#000" stroke-width="2.5"/>
<text transform="translate(1408 1948) scale(0.92 1)" font-size="17.6" text-anchor="middle" font-weight="bold">1</text>
<line x1="1443.3" y1="1918.9" x2="1443.3" y2="1928.4" stroke="#000" stroke-width="2.5"/>
<text transform="translate(1443.3 1948) scale(0.92 1)" font-size="17.6" text-anchor="middle" font-weight="bold">2</text>
<line x1="1478.7" y1="1918.9" x2="1478.7" y2="1928.4" stroke="#000" stroke-width="2.5"/>
<text transform="translate(1478.7 1948) scale(0.92 1)" font-size="17.6" text-anchor="middle" font-weight="bold">3</text>
<line x1="1514" y1="1918.9" x2="1514" y2="1928.4" stroke="#000" stroke-width="2.5"/>
<text transform="translate(1514 1948) scale(0.92 1)" font-size="17.6" text-anchor="middle" font-weight="bold">4</text>
<rect x="1645.32" y="1891.92" width="23.91" height="25.59" fill="#EFB77A" stroke="#111" stroke-width="1.4"/>
<rect x="1645.32" y="1872.05" width="23.91" height="19.87" fill="#C45454" stroke="#111" stroke-width="1.4"/>
<rect x="1645.32" y="1816.5" width="23.91" height="55.56" fill="#6F9F9A" stroke="#111" stroke-width="1.4"/>
<rect x="1645.32" y="1752.86" width="23.91" height="63.64" fill="#5A4547" stroke="#111" stroke-width="1.4"/>
<line x1="1633.5" y1="1688.2" x2="1633.5" y2="1918.8" stroke="#000" stroke-width="2.5"/>
<line x1="1623.4" y1="1917.8" x2="1786.7" y2="1917.8" stroke="#000" stroke-width="2.5"/>
<line x1="1624" y1="1689.2" x2="1633.5" y2="1689.2" stroke="#000" stroke-width="2.5"/>
<text transform="translate(1619.4 1695.1) scale(0.95 1)" font-size="17.4" text-anchor="end" font-weight="bold">15000</text>
<line x1="1624" y1="1765.5" x2="1633.5" y2="1765.5" stroke="#000" stroke-width="2.5"/>
<text transform="translate(1619.4 1771.4) scale(0.95 1)" font-size="17.4" text-anchor="end" font-weight="bold">10000</text>
<line x1="1624" y1="1841.7" x2="1633.5" y2="1841.7" stroke="#000" stroke-width="2.5"/>
<text transform="translate(1619.4 1847.6) scale(0.95 1)" font-size="17.4" text-anchor="end" font-weight="bold">5000</text>
<line x1="1624" y1="1917.8" x2="1633.5" y2="1917.8" stroke="#000" stroke-width="2.5"/>
<text transform="translate(1619.4 1923.7) scale(0.95 1)" font-size="17.4" text-anchor="end" font-weight="bold">0</text>
<line x1="1656.4" y1="1917.8" x2="1656.4" y2="1927.3" stroke="#000" stroke-width="2.5"/>
<text transform="translate(1656.4 1947) scale(0.92 1)" font-size="17.6" text-anchor="middle" font-weight="bold">1</text>
<line x1="1691.4" y1="1917.8" x2="1691.4" y2="1927.3" stroke="#000" stroke-width="2.5"/>
<text transform="translate(1691.4 1947) scale(0.92 1)" font-size="17.6" text-anchor="middle" font-weight="bold">2</text>
<line x1="1726.8" y1="1917.8" x2="1726.8" y2="1927.3" stroke="#000" stroke-width="2.5"/>
<text transform="translate(1726.8 1947) scale(0.92 1)" font-size="17.6" text-anchor="middle" font-weight="bold">3</text>
<line x1="1762.2" y1="1917.8" x2="1762.2" y2="1927.3" stroke="#000" stroke-width="2.5"/>
<text transform="translate(1762.2 1947) scale(0.92 1)" font-size="17.6" text-anchor="middle" font-weight="bold">4</text>
<rect x="1148.96" y="2217.78" width="22.9" height="3.7" fill="#EDA868" stroke="#1a1a1a" stroke-width="1.1"/>
<rect x="1148.96" y="2216.77" width="22.9" height="1.01" fill="#B04343" stroke="#1a1a1a" stroke-width="1.1"/>
<rect x="1148.96" y="2213.74" width="22.9" height="3.03" fill="#5F8F89" stroke="#1a1a1a" stroke-width="1.1"/>
<rect x="1148.96" y="2210.37" width="22.9" height="3.37" fill="#45302F" stroke="#1a1a1a" stroke-width="1.1"/>
<rect x="1184.31" y="2220.81" width="22.9" height="0.67" fill="#45302F" stroke="#1a1a1a" stroke-width="1.1"/>
<rect x="1219.66" y="2219.46" width="22.9" height="2.02" fill="#B04343" stroke="#1a1a1a" stroke-width="1.1"/>
<rect x="1219.66" y="2216.09" width="22.9" height="3.37" fill="#5F8F89" stroke="#1a1a1a" stroke-width="1.1"/>
<rect x="1254.68" y="2147.07" width="22.9" height="74.41" fill="#EDA868" stroke="#1a1a1a" stroke-width="1.1"/>
<rect x="1254.68" y="2105.99" width="22.9" height="41.08" fill="#B04343" stroke="#1a1a1a" stroke-width="1.1"/>
<rect x="1254.68" y="2038.65" width="22.9" height="67.34" fill="#5F8F89" stroke="#1a1a1a" stroke-width="1.1"/>
<rect x="1254.68" y="2026.2" width="22.9" height="12.46" fill="#45302F" stroke="#1a1a1a" stroke-width="1.1"/>
<line x1="1137.5" y1="1991.2" x2="1137.5" y2="2223.2" stroke="#000" stroke-width="2"/>
<line x1="1128" y1="2222.2" x2="1290.4" y2="2222.2" stroke="#000" stroke-width="2"/>
<line x1="1128" y1="1992.9" x2="1137.5" y2="1992.9" stroke="#000" stroke-width="2"/>
<text x="1124" y="1998.9" font-size="17.2" text-anchor="end" font-weight="bold">2000</text>
<line x1="1128" y1="2050.1" x2="1137.5" y2="2050.1" stroke="#000" stroke-width="2"/>
<text x="1124" y="2056.1" font-size="17.2" text-anchor="end" font-weight="bold">1500</text>
<line x1="1128" y1="2107.3" x2="1137.5" y2="2107.3" stroke="#000" stroke-width="2"/>
<text x="1124" y="2113.3" font-size="17.2" text-anchor="end" font-weight="bold">1000</text>
<line x1="1128" y1="2164.6" x2="1137.5" y2="2164.6" stroke="#000" stroke-width="2"/>
<text x="1124" y="2170.6" font-size="17.2" text-anchor="end" font-weight="bold">500</text>
<line x1="1128" y1="2222.2" x2="1137.5" y2="2222.2" stroke="#000" stroke-width="2"/>
<text x="1124" y="2228.2" font-size="17.2" text-anchor="end" font-weight="bold">0</text>
<line x1="1160" y1="2222.2" x2="1160" y2="2231.7" stroke="#000" stroke-width="2"/>
<text x="1160" y="2250" font-size="17.6" text-anchor="middle" font-weight="bold">1</text>
<line x1="1195.4" y1="2222.2" x2="1195.4" y2="2231.7" stroke="#000" stroke-width="2"/>
<text x="1195.4" y="2250" font-size="17.6" text-anchor="middle" font-weight="bold">2</text>
<line x1="1230.4" y1="2222.2" x2="1230.4" y2="2231.7" stroke="#000" stroke-width="2"/>
<text x="1230.4" y="2250" font-size="17.6" text-anchor="middle" font-weight="bold">3</text>
<line x1="1265.8" y1="2222.2" x2="1265.8" y2="2231.7" stroke="#000" stroke-width="2"/>
<text x="1265.8" y="2250" font-size="17.6" text-anchor="middle" font-weight="bold">4</text>
<rect x="1396.16" y="2140.67" width="23.23" height="80.81" fill="#EDA868" stroke="#1a1a1a" stroke-width="1.1"/>
<rect x="1396.16" y="2095.89" width="23.23" height="44.78" fill="#B04343" stroke="#1a1a1a" stroke-width="1.1"/>
<rect x="1396.16" y="2021.82" width="23.23" height="74.07" fill="#5F8F89" stroke="#1a1a1a" stroke-width="1.1"/>
<rect x="1396.16" y="2005.99" width="23.23" height="15.82" fill="#45302F" stroke="#1a1a1a" stroke-width="1.1"/>
<line x1="1385" y1="1991.2" x2="1385" y2="2223.2" stroke="#000" stroke-width="2"/>
<line x1="1376" y1="2222.2" x2="1538.6" y2="2222.2" stroke="#000" stroke-width="2"/>
<line x1="1375.5" y1="1992.9" x2="1385" y2="1992.9" stroke="#000" stroke-width="2"/>
<text x="1371.6" y="1998.9" font-size="17.2" text-anchor="end" font-weight="bold">2000</text>
<line x1="1375.5" y1="2050.1" x2="1385" y2="2050.1" stroke="#000" stroke-width="2"/>
<text x="1371.6" y="2056.1" font-size="17.2" text-anchor="end" font-weight="bold">1500</text>
<line x1="1375.5" y1="2107.3" x2="1385" y2="2107.3" stroke="#000" stroke-width="2"/>
<text x="1371.6" y="2113.3" font-size="17.2" text-anchor="end" font-weight="bold">1000</text>
<line x1="1375.5" y1="2164.6" x2="1385" y2="2164.6" stroke="#000" stroke-width="2"/>
<text x="1371.6" y="2170.6" font-size="17.2" text-anchor="end" font-weight="bold">500</text>
<line x1="1375.5" y1="2222.2" x2="1385" y2="2222.2" stroke="#000" stroke-width="2"/>
<text x="1371.6" y="2228.2" font-size="17.2" text-anchor="end" font-weight="bold">0</text>
<line x1="1408" y1="2222.2" x2="1408" y2="2231.7" stroke="#000" stroke-width="2"/>
<text x="1408" y="2250" font-size="17.6" text-anchor="middle" font-weight="bold">1</text>
<line x1="1443.3" y1="2222.2" x2="1443.3" y2="2231.7" stroke="#000" stroke-width="2"/>
<text x="1443.3" y="2250" font-size="17.6" text-anchor="middle" font-weight="bold">2</text>
<line x1="1478.7" y1="2222.2" x2="1478.7" y2="2231.7" stroke="#000" stroke-width="2"/>
<text x="1478.7" y="2250" font-size="17.6" text-anchor="middle" font-weight="bold">3</text>
<line x1="1514" y1="2222.2" x2="1514" y2="2231.7" stroke="#000" stroke-width="2"/>
<text x="1514" y="2250" font-size="17.6" text-anchor="middle" font-weight="bold">4</text>
<rect x="1644.31" y="2140.67" width="23.23" height="80.81" fill="#EDA868" stroke="#1a1a1a" stroke-width="1.1"/>
<rect x="1644.31" y="2095.89" width="23.23" height="44.78" fill="#B04343" stroke="#1a1a1a" stroke-width="1.1"/>
<rect x="1644.31" y="2021.82" width="23.23" height="74.07" fill="#5F8F89" stroke="#1a1a1a" stroke-width="1.1"/>
<rect x="1644.31" y="2005.99" width="23.23" height="15.82" fill="#45302F" stroke="#1a1a1a" stroke-width="1.1"/>
<line x1="1632.9" y1="1991.2" x2="1632.9" y2="2223.2" stroke="#000" stroke-width="2"/>
<line x1="1623.4" y1="2222.2" x2="1786.7" y2="2222.2" stroke="#000" stroke-width="2"/>
<line x1="1623.4" y1="1992.9" x2="1632.9" y2="1992.9" stroke="#000" stroke-width="2"/>
<text x="1619.5" y="1998.9" font-size="17.2" text-anchor="end" font-weight="bold">2000</text>
<line x1="1623.4" y1="2050.1" x2="1632.9" y2="2050.1" stroke="#000" stroke-width="2"/>
<text x="1619.5" y="2056.1" font-size="17.2" text-anchor="end" font-weight="bold">1500</text>
<line x1="1623.4" y1="2107.3" x2="1632.9" y2="2107.3" stroke="#000" stroke-width="2"/>
<text x="1619.5" y="2113.3" font-size="17.2" text-anchor="end" font-weight="bold">1000</text>
<line x1="1623.4" y1="2164.6" x2="1632.9" y2="2164.6" stroke="#000" stroke-width="2"/>
<text x="1619.5" y="2170.6" font-size="17.2" text-anchor="end" font-weight="bold">500</text>
<line x1="1623.4" y1="2222.2" x2="1632.9" y2="2222.2" stroke="#000" stroke-width="2"/>
<text x="1619.5" y="2228.2" font-size="17.2" text-anchor="end" font-weight="bold">0</text>
<line x1="1656.4" y1="2222.2" x2="1656.4" y2="2231.7" stroke="#000" stroke-width="2"/>
<text x="1656.4" y="2250" font-size="17.6" text-anchor="middle" font-weight="bold">1</text>
<line x1="1691.4" y1="2222.2" x2="1691.4" y2="2231.7" stroke="#000" stroke-width="2"/>
<text x="1691.4" y="2250" font-size="17.6" text-anchor="middle" font-weight="bold">2</text>
<line x1="1726.8" y1="2222.2" x2="1726.8" y2="2231.7" stroke="#000" stroke-width="2"/>
<text x="1726.8" y="2250" font-size="17.6" text-anchor="middle" font-weight="bold">3</text>
<line x1="1762.2" y1="2222.2" x2="1762.2" y2="2231.7" stroke="#000" stroke-width="2"/>
<text x="1762.2" y="2250" font-size="17.6" text-anchor="middle" font-weight="bold">4</text>
<rect x="1712.6" y="2048.04" width="23.8" height="11.6" fill="#EDA868" stroke="#1a1a1a" stroke-width="0.9"/>
<text x="1750.4" y="2060.37" font-size="19.2">4months</text>
<rect x="1712.6" y="2078.68" width="23.8" height="11.6" fill="#B04343" stroke="#1a1a1a" stroke-width="0.9"/>
<text x="1750.4" y="2091.01" font-size="19.2">5years</text>
<rect x="1712.6" y="2109.32" width="23.8" height="11.6" fill="#5F8F89" stroke="#1a1a1a" stroke-width="0.9"/>
<text x="1750.4" y="2121.65" font-size="19.2">8years</text>
<rect x="1712.6" y="2139.63" width="23.8" height="11.6" fill="#45302F" stroke="#1a1a1a" stroke-width="0.9"/>
<text x="1750.4" y="2151.95" font-size="19.2">28years</text>
</svg>
</body></html>
